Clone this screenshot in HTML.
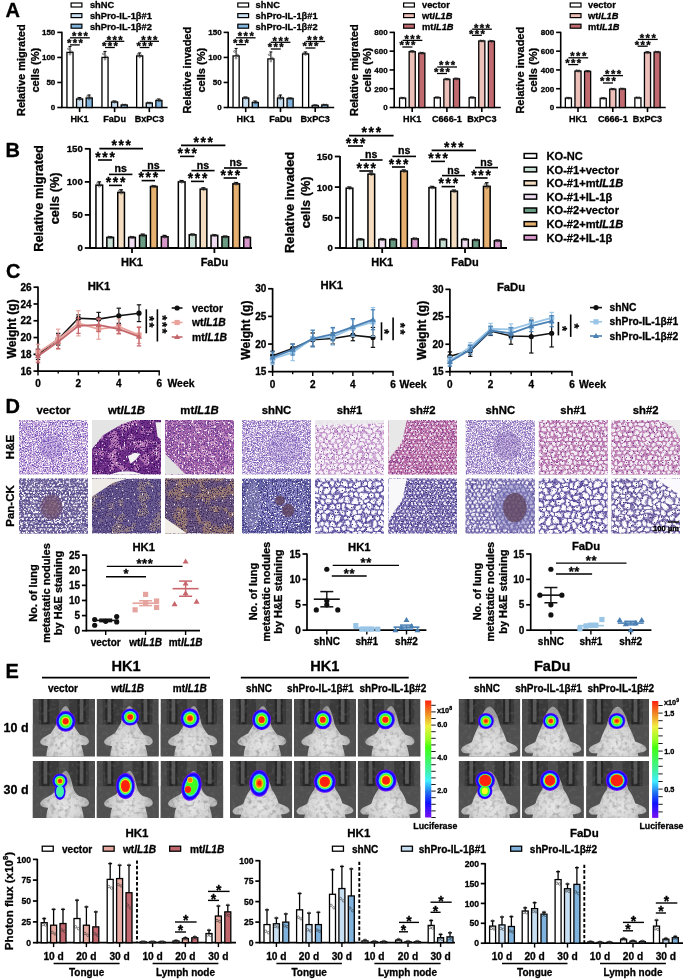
<!DOCTYPE html><html><head><meta charset="utf-8"><style>html,body{margin:0;padding:0;background:#fff;}svg{display:block;will-change:transform;}</style></head><body><svg width="685" height="980" viewBox="0 0 685 980" font-family='"Liberation Sans", sans-serif'>
<style>text{stroke:#000;stroke-width:0.3px;stroke-linejoin:round}</style>
<rect width="685" height="980" fill="#fff"/>
<defs><radialGradient id="mbody" cx="0.5" cy="0.75" r="0.6"><stop offset="0" stop-color="#e8e8e8"/><stop offset="0.55" stop-color="#d2d2d2"/><stop offset="1" stop-color="#9e9e9e"/></radialGradient><clipPath id="cp1"><rect x="19.00" y="420.00" width="69.00" height="54.60"/></clipPath><filter id="nf1" x="0" y="0" width="100%" height="100%" color-interpolation-filters="sRGB"><feTurbulence type="fractalNoise" baseFrequency="0.8" numOctaves="2" seed="101"/><feColorMatrix type="matrix" values="0 0 0 0 0.463 0 0 0 0 0.337 0 0 0 0 0.722 10.00 0 0 0 -5.167"/></filter><filter id="nf2" x="0" y="0" width="100%" height="100%" color-interpolation-filters="sRGB"><feTurbulence type="fractalNoise" baseFrequency="0.8" numOctaves="2" seed="102"/><feColorMatrix type="matrix" values="0 0 0 0 0.973 0 0 0 0 0.957 0 0 0 0 0.988 10.00 0 0 0 -5.167"/></filter><clipPath id="cp2"><rect x="19.00" y="478.60" width="69.00" height="54.80"/></clipPath><pattern id="hp3" width="3.90" height="6.75" patternUnits="userSpaceOnUse" x="19.00" y="478.60"><rect width="3.90" height="6.75" fill="#4a3c84"/><g fill="#fbfaff"><circle cx="0" cy="0" r="1.30"/><circle cx="3.90" cy="0" r="1.30"/><circle cx="1.95" cy="3.38" r="1.30"/><circle cx="0" cy="6.75" r="1.30"/><circle cx="3.90" cy="6.75" r="1.30"/></g></pattern><filter id="hf3" x="-5%" y="-5%" width="110%" height="110%"><feTurbulence type="fractalNoise" baseFrequency="0.2" numOctaves="2" seed="103" result="n"/><feDisplacementMap in="SourceGraphic" in2="n" scale="4" xChannelSelector="R" yChannelSelector="G"/></filter><filter id="nf3" x="0" y="0" width="100%" height="100%" color-interpolation-filters="sRGB"><feTurbulence type="fractalNoise" baseFrequency="0.35" numOctaves="2" seed="104"/><feColorMatrix type="matrix" values="0 0 0 0 0.984 0 0 0 0 0.980 0 0 0 0 1.000 10.00 0 0 0 -6.093"/></filter><filter id="nf4" x="0" y="0" width="100%" height="100%" color-interpolation-filters="sRGB"><feTurbulence type="fractalNoise" baseFrequency="0.8" numOctaves="2" seed="105"/><feColorMatrix type="matrix" values="0 0 0 0 0.478 0 0 0 0 0.416 0 0 0 0 0.604 10.00 0 0 0 -5.591"/></filter><clipPath id="cp4"><rect x="92.00" y="420.00" width="69.00" height="54.60"/></clipPath><filter id="nf5" x="0" y="0" width="100%" height="100%" color-interpolation-filters="sRGB"><feTurbulence type="fractalNoise" baseFrequency="0.1" numOctaves="2" seed="106"/><feColorMatrix type="matrix" values="0 0 0 0 0.706 0 0 0 0 0.455 0 0 0 0 0.706 10.00 0 0 0 -5.083"/></filter><filter id="nf6" x="0" y="0" width="100%" height="100%" color-interpolation-filters="sRGB"><feTurbulence type="fractalNoise" baseFrequency="0.7" numOctaves="2" seed="107"/><feColorMatrix type="matrix" values="0 0 0 0 0.259 0 0 0 0 0.078 0 0 0 0 0.400 10.00 0 0 0 -5.250"/></filter><filter id="nf7" x="0" y="0" width="100%" height="100%" color-interpolation-filters="sRGB"><feTurbulence type="fractalNoise" baseFrequency="0.5" numOctaves="2" seed="108"/><feColorMatrix type="matrix" values="0 0 0 0 0.949 0 0 0 0 0.933 0 0 0 0 0.957 10.00 0 0 0 -6.579"/></filter><clipPath id="cp5"><rect x="92.00" y="478.60" width="69.00" height="54.80"/></clipPath><filter id="nf8" x="0" y="0" width="100%" height="100%" color-interpolation-filters="sRGB"><feTurbulence type="fractalNoise" baseFrequency="0.08" numOctaves="2" seed="109"/><feColorMatrix type="matrix" values="0 0 0 0 0.557 0 0 0 0 0.478 0 0 0 0 0.518 10.00 0 0 0 -5.083"/></filter><filter id="nf9" x="0" y="0" width="100%" height="100%" color-interpolation-filters="sRGB"><feTurbulence type="fractalNoise" baseFrequency="0.8" numOctaves="2" seed="110"/><feColorMatrix type="matrix" values="0 0 0 0 0.251 0 0 0 0 0.196 0 0 0 0 0.431 10.00 0 0 0 -5.250"/></filter><filter id="nf10" x="0" y="0" width="100%" height="100%" color-interpolation-filters="sRGB"><feTurbulence type="fractalNoise" baseFrequency="0.5" numOctaves="2" seed="111"/><feColorMatrix type="matrix" values="0 0 0 0 0.957 0 0 0 0 0.941 0 0 0 0 0.925 10.00 0 0 0 -6.842"/></filter><clipPath id="cp6"><rect x="165.00" y="420.00" width="69.00" height="54.60"/></clipPath><filter id="nf11" x="0" y="0" width="100%" height="100%" color-interpolation-filters="sRGB"><feTurbulence type="fractalNoise" baseFrequency="0.12" numOctaves="2" seed="112"/><feColorMatrix type="matrix" values="0 0 0 0 0.784 0 0 0 0 0.565 0 0 0 0 0.753 10.00 0 0 0 -5.167"/></filter><filter id="nf12" x="0" y="0" width="100%" height="100%" color-interpolation-filters="sRGB"><feTurbulence type="fractalNoise" baseFrequency="0.7" numOctaves="2" seed="113"/><feColorMatrix type="matrix" values="0 0 0 0 0.416 0 0 0 0 0.235 0 0 0 0 0.580 10.00 0 0 0 -5.167"/></filter><filter id="nf13" x="0" y="0" width="100%" height="100%" color-interpolation-filters="sRGB"><feTurbulence type="fractalNoise" baseFrequency="0.5" numOctaves="2" seed="114"/><feColorMatrix type="matrix" values="0 0 0 0 0.965 0 0 0 0 0.941 0 0 0 0 0.965 10.00 0 0 0 -6.093"/></filter><clipPath id="cp7"><rect x="165.00" y="478.60" width="69.00" height="54.80"/></clipPath><filter id="nf14" x="0" y="0" width="100%" height="100%" color-interpolation-filters="sRGB"><feTurbulence type="fractalNoise" baseFrequency="0.08" numOctaves="2" seed="115"/><feColorMatrix type="matrix" values="0 0 0 0 0.584 0 0 0 0 0.463 0 0 0 0 0.439 10.00 0 0 0 -4.750"/></filter><filter id="nf15" x="0" y="0" width="100%" height="100%" color-interpolation-filters="sRGB"><feTurbulence type="fractalNoise" baseFrequency="0.8" numOctaves="2" seed="116"/><feColorMatrix type="matrix" values="0 0 0 0 0.251 0 0 0 0 0.188 0 0 0 0 0.369 10.00 0 0 0 -5.250"/></filter><filter id="nf16" x="0" y="0" width="100%" height="100%" color-interpolation-filters="sRGB"><feTurbulence type="fractalNoise" baseFrequency="0.5" numOctaves="2" seed="117"/><feColorMatrix type="matrix" values="0 0 0 0 0.957 0 0 0 0 0.941 0 0 0 0 0.925 10.00 0 0 0 -6.842"/></filter><clipPath id="cp8"><rect x="242.00" y="420.00" width="69.00" height="54.60"/></clipPath><filter id="nf17" x="0" y="0" width="100%" height="100%" color-interpolation-filters="sRGB"><feTurbulence type="fractalNoise" baseFrequency="0.8" numOctaves="2" seed="118"/><feColorMatrix type="matrix" values="0 0 0 0 0.486 0 0 0 0 0.392 0 0 0 0 0.722 10.00 0 0 0 -5.167"/></filter><filter id="nf18" x="0" y="0" width="100%" height="100%" color-interpolation-filters="sRGB"><feTurbulence type="fractalNoise" baseFrequency="0.8" numOctaves="2" seed="119"/><feColorMatrix type="matrix" values="0 0 0 0 0.973 0 0 0 0 0.957 0 0 0 0 0.988 10.00 0 0 0 -5.167"/></filter><clipPath id="cp9"><rect x="242.00" y="478.60" width="69.00" height="54.80"/></clipPath><filter id="nf19" x="0" y="0" width="100%" height="100%" color-interpolation-filters="sRGB"><feTurbulence type="fractalNoise" baseFrequency="0.6" numOctaves="2" seed="120"/><feColorMatrix type="matrix" values="0 0 0 0 0.957 0 0 0 0 0.957 0 0 0 0 0.980 10.00 0 0 0 -5.818"/></filter><filter id="nf20" x="0" y="0" width="100%" height="100%" color-interpolation-filters="sRGB"><feTurbulence type="fractalNoise" baseFrequency="0.8" numOctaves="2" seed="121"/><feColorMatrix type="matrix" values="0 0 0 0 0.227 0 0 0 0 0.212 0 0 0 0 0.486 10.00 0 0 0 -5.375"/></filter><clipPath id="cp10"><rect x="315.00" y="420.00" width="69.00" height="54.60"/></clipPath><pattern id="hp11" width="6.00" height="10.39" patternUnits="userSpaceOnUse" x="315.00" y="420.00"><rect width="6.00" height="10.39" fill="#bc84c4"/><g fill="#f4f0f6"><circle cx="0" cy="0" r="2.50"/><circle cx="6.00" cy="0" r="2.50"/><circle cx="3.00" cy="5.20" r="2.50"/><circle cx="0" cy="10.39" r="2.50"/><circle cx="6.00" cy="10.39" r="2.50"/></g></pattern><filter id="hf11" x="-5%" y="-5%" width="110%" height="110%"><feTurbulence type="fractalNoise" baseFrequency="0.12" numOctaves="2" seed="122" result="n"/><feDisplacementMap in="SourceGraphic" in2="n" scale="8" xChannelSelector="R" yChannelSelector="G"/></filter><filter id="nf21" x="0" y="0" width="100%" height="100%" color-interpolation-filters="sRGB"><feTurbulence type="fractalNoise" baseFrequency="0.8" numOctaves="2" seed="123"/><feColorMatrix type="matrix" values="0 0 0 0 0.541 0 0 0 0 0.353 0 0 0 0 0.659 10.00 0 0 0 -6.579"/></filter><clipPath id="cp12"><rect x="315.00" y="478.60" width="69.00" height="54.80"/></clipPath><pattern id="hp13" width="6.50" height="11.26" patternUnits="userSpaceOnUse" x="315.00" y="478.60"><rect width="6.50" height="11.26" fill="#584a9c"/><g fill="#fbfbff"><circle cx="0" cy="0" r="2.60"/><circle cx="6.50" cy="0" r="2.60"/><circle cx="3.25" cy="5.63" r="2.60"/><circle cx="0" cy="11.26" r="2.60"/><circle cx="6.50" cy="11.26" r="2.60"/></g></pattern><filter id="hf13" x="-5%" y="-5%" width="110%" height="110%"><feTurbulence type="fractalNoise" baseFrequency="0.1" numOctaves="2" seed="124" result="n"/><feDisplacementMap in="SourceGraphic" in2="n" scale="8" xChannelSelector="R" yChannelSelector="G"/></filter><filter id="nf22" x="0" y="0" width="100%" height="100%" color-interpolation-filters="sRGB"><feTurbulence type="fractalNoise" baseFrequency="0.8" numOctaves="2" seed="125"/><feColorMatrix type="matrix" values="0 0 0 0 0.243 0 0 0 0 0.188 0 0 0 0 0.502 10.00 0 0 0 -6.711"/></filter><clipPath id="cp14"><rect x="388.40" y="420.00" width="68.60" height="54.60"/></clipPath><pattern id="hp15" width="4.20" height="7.27" patternUnits="userSpaceOnUse" x="388.40" y="420.00"><rect width="4.20" height="7.27" fill="#b4609e"/><g fill="#f2eaf2"><circle cx="0" cy="0" r="1.30"/><circle cx="4.20" cy="0" r="1.30"/><circle cx="2.10" cy="3.64" r="1.30"/><circle cx="0" cy="7.27" r="1.30"/><circle cx="4.20" cy="7.27" r="1.30"/></g></pattern><filter id="hf15" x="-5%" y="-5%" width="110%" height="110%"><feTurbulence type="fractalNoise" baseFrequency="0.2" numOctaves="2" seed="126" result="n"/><feDisplacementMap in="SourceGraphic" in2="n" scale="4" xChannelSelector="R" yChannelSelector="G"/></filter><filter id="nf23" x="0" y="0" width="100%" height="100%" color-interpolation-filters="sRGB"><feTurbulence type="fractalNoise" baseFrequency="0.8" numOctaves="2" seed="127"/><feColorMatrix type="matrix" values="0 0 0 0 0.478 0 0 0 0 0.227 0 0 0 0 0.533 10.00 0 0 0 -5.955"/></filter><clipPath id="cp16"><rect x="388.40" y="478.60" width="68.60" height="54.80"/></clipPath><pattern id="hp17" width="4.20" height="7.27" patternUnits="userSpaceOnUse" x="388.40" y="478.60"><rect width="4.20" height="7.27" fill="#6a5aa6"/><g fill="#f8f8fc"><circle cx="0" cy="0" r="1.30"/><circle cx="4.20" cy="0" r="1.30"/><circle cx="2.10" cy="3.64" r="1.30"/><circle cx="0" cy="7.27" r="1.30"/><circle cx="4.20" cy="7.27" r="1.30"/></g></pattern><filter id="hf17" x="-5%" y="-5%" width="110%" height="110%"><feTurbulence type="fractalNoise" baseFrequency="0.2" numOctaves="2" seed="128" result="n"/><feDisplacementMap in="SourceGraphic" in2="n" scale="4" xChannelSelector="R" yChannelSelector="G"/></filter><filter id="nf24" x="0" y="0" width="100%" height="100%" color-interpolation-filters="sRGB"><feTurbulence type="fractalNoise" baseFrequency="0.8" numOctaves="2" seed="129"/><feColorMatrix type="matrix" values="0 0 0 0 0.251 0 0 0 0 0.204 0 0 0 0 0.486 10.00 0 0 0 -5.955"/></filter><clipPath id="cp18"><rect x="465.60" y="420.00" width="69.40" height="54.60"/></clipPath><filter id="nf25" x="0" y="0" width="100%" height="100%" color-interpolation-filters="sRGB"><feTurbulence type="fractalNoise" baseFrequency="0.8" numOctaves="2" seed="130"/><feColorMatrix type="matrix" values="0 0 0 0 0.486 0 0 0 0 0.400 0 0 0 0 0.722 10.00 0 0 0 -5.167"/></filter><filter id="nf26" x="0" y="0" width="100%" height="100%" color-interpolation-filters="sRGB"><feTurbulence type="fractalNoise" baseFrequency="0.8" numOctaves="2" seed="131"/><feColorMatrix type="matrix" values="0 0 0 0 0.973 0 0 0 0 0.957 0 0 0 0 0.988 10.00 0 0 0 -5.167"/></filter><clipPath id="cp19"><rect x="465.60" y="478.60" width="69.40" height="54.80"/></clipPath><pattern id="hp20" width="4.60" height="7.97" patternUnits="userSpaceOnUse" x="465.60" y="478.60"><rect width="4.60" height="7.97" fill="#5a4c9c"/><g fill="#f8f8fc"><circle cx="0" cy="0" r="1.70"/><circle cx="4.60" cy="0" r="1.70"/><circle cx="2.30" cy="3.98" r="1.70"/><circle cx="0" cy="7.97" r="1.70"/><circle cx="4.60" cy="7.97" r="1.70"/></g></pattern><filter id="hf20" x="-5%" y="-5%" width="110%" height="110%"><feTurbulence type="fractalNoise" baseFrequency="0.15" numOctaves="2" seed="132" result="n"/><feDisplacementMap in="SourceGraphic" in2="n" scale="5" xChannelSelector="R" yChannelSelector="G"/></filter><clipPath id="cp21"><rect x="538.80" y="420.00" width="68.80" height="54.60"/></clipPath><pattern id="hp22" width="5.50" height="9.53" patternUnits="userSpaceOnUse" x="538.80" y="420.00"><rect width="5.50" height="9.53" fill="#b46aa8"/><g fill="#f2eef4"><circle cx="0" cy="0" r="2.20"/><circle cx="5.50" cy="0" r="2.20"/><circle cx="2.75" cy="4.76" r="2.20"/><circle cx="0" cy="9.53" r="2.20"/><circle cx="5.50" cy="9.53" r="2.20"/></g></pattern><filter id="hf22" x="-5%" y="-5%" width="110%" height="110%"><feTurbulence type="fractalNoise" baseFrequency="0.12" numOctaves="2" seed="133" result="n"/><feDisplacementMap in="SourceGraphic" in2="n" scale="7" xChannelSelector="R" yChannelSelector="G"/></filter><filter id="nf27" x="0" y="0" width="100%" height="100%" color-interpolation-filters="sRGB"><feTurbulence type="fractalNoise" baseFrequency="0.8" numOctaves="2" seed="134"/><feColorMatrix type="matrix" values="0 0 0 0 0.478 0 0 0 0 0.227 0 0 0 0 0.565 10.00 0 0 0 -6.579"/></filter><clipPath id="cp23"><rect x="538.80" y="478.60" width="68.80" height="54.80"/></clipPath><pattern id="hp24" width="7.00" height="12.12" patternUnits="userSpaceOnUse" x="538.80" y="478.60"><rect width="7.00" height="12.12" fill="#5c4c9c"/><g fill="#fcfcff"><circle cx="0" cy="0" r="2.80"/><circle cx="7.00" cy="0" r="2.80"/><circle cx="3.50" cy="6.06" r="2.80"/><circle cx="0" cy="12.12" r="2.80"/><circle cx="7.00" cy="12.12" r="2.80"/></g></pattern><filter id="hf24" x="-5%" y="-5%" width="110%" height="110%"><feTurbulence type="fractalNoise" baseFrequency="0.1" numOctaves="2" seed="135" result="n"/><feDisplacementMap in="SourceGraphic" in2="n" scale="9" xChannelSelector="R" yChannelSelector="G"/></filter><filter id="nf28" x="0" y="0" width="100%" height="100%" color-interpolation-filters="sRGB"><feTurbulence type="fractalNoise" baseFrequency="0.8" numOctaves="2" seed="136"/><feColorMatrix type="matrix" values="0 0 0 0 0.243 0 0 0 0 0.188 0 0 0 0 0.502 10.00 0 0 0 -6.711"/></filter><clipPath id="cp25"><rect x="611.40" y="420.00" width="68.60" height="54.60"/></clipPath><pattern id="hp26" width="5.50" height="9.53" patternUnits="userSpaceOnUse" x="611.40" y="420.00"><rect width="5.50" height="9.53" fill="#b872ac"/><g fill="#f2eef4"><circle cx="0" cy="0" r="2.20"/><circle cx="5.50" cy="0" r="2.20"/><circle cx="2.75" cy="4.76" r="2.20"/><circle cx="0" cy="9.53" r="2.20"/><circle cx="5.50" cy="9.53" r="2.20"/></g></pattern><filter id="hf26" x="-5%" y="-5%" width="110%" height="110%"><feTurbulence type="fractalNoise" baseFrequency="0.12" numOctaves="2" seed="137" result="n"/><feDisplacementMap in="SourceGraphic" in2="n" scale="7" xChannelSelector="R" yChannelSelector="G"/></filter><filter id="nf29" x="0" y="0" width="100%" height="100%" color-interpolation-filters="sRGB"><feTurbulence type="fractalNoise" baseFrequency="0.8" numOctaves="2" seed="138"/><feColorMatrix type="matrix" values="0 0 0 0 0.478 0 0 0 0 0.227 0 0 0 0 0.565 10.00 0 0 0 -6.579"/></filter><clipPath id="cp27"><rect x="611.40" y="478.60" width="68.60" height="54.80"/></clipPath><pattern id="hp28" width="6.50" height="11.26" patternUnits="userSpaceOnUse" x="611.40" y="478.60"><rect width="6.50" height="11.26" fill="#625098"/><g fill="#fcfcff"><circle cx="0" cy="0" r="2.60"/><circle cx="6.50" cy="0" r="2.60"/><circle cx="3.25" cy="5.63" r="2.60"/><circle cx="0" cy="11.26" r="2.60"/><circle cx="6.50" cy="11.26" r="2.60"/></g></pattern><filter id="hf28" x="-5%" y="-5%" width="110%" height="110%"><feTurbulence type="fractalNoise" baseFrequency="0.1" numOctaves="2" seed="139" result="n"/><feDisplacementMap in="SourceGraphic" in2="n" scale="9" xChannelSelector="R" yChannelSelector="G"/></filter><filter id="nf30" x="0" y="0" width="100%" height="100%" color-interpolation-filters="sRGB"><feTurbulence type="fractalNoise" baseFrequency="0.8" numOctaves="2" seed="140"/><feColorMatrix type="matrix" values="0 0 0 0 0.243 0 0 0 0 0.188 0 0 0 0 0.502 10.00 0 0 0 -6.711"/></filter><clipPath id="cp29"><rect x="32.60" y="699.00" width="62.40" height="57.60"/></clipPath><clipPath id="bd30"><path d="M65.67 705.91 C69.42 707.06 71.91 716.28 73.16 723.19 C74.41 727.80 77.53 731.26 80.02 734.71 C85.02 735.86 90.01 738.17 88.76 742.78 C86.26 746.23 83.77 745.08 81.27 745.08 C82.52 749.69 83.77 753.72 83.77 757.75 L46.33 757.75 C46.33 753.14 46.95 749.69 48.20 746.23 C45.08 746.23 40.09 745.08 40.09 741.62 C41.34 738.17 46.33 735.86 50.70 733.56 C52.57 730.10 55.06 726.65 56.94 723.19 C58.18 716.28 61.30 707.06 65.67 705.91 Z"/></clipPath><filter id="nf31" x="0" y="0" width="100%" height="100%" color-interpolation-filters="sRGB"><feTurbulence type="fractalNoise" baseFrequency="0.2" numOctaves="2" seed="141"/><feColorMatrix type="matrix" values="0 0 0 0 0.604 0 0 0 0 0.604 0 0 0 0 0.604 1.40 0 0 0 -0.696"/></filter><filter id="nf32" x="0" y="0" width="100%" height="100%" color-interpolation-filters="sRGB"><feTurbulence type="fractalNoise" baseFrequency="0.25" numOctaves="2" seed="142"/><feColorMatrix type="matrix" values="0 0 0 0 0.416 0 0 0 0 0.416 0 0 0 0 0.416 1.20 0 0 0 -0.620"/></filter><clipPath id="cp31"><rect x="32.60" y="761.00" width="62.40" height="57.00"/></clipPath><clipPath id="bd32"><path d="M65.67 770.69 C69.42 771.83 71.91 780.95 73.16 787.79 C74.41 792.35 77.53 795.77 80.02 796.34 C85.02 797.48 90.01 799.76 88.76 804.32 C86.26 807.74 83.77 806.60 81.27 806.60 C82.52 811.16 83.77 815.15 83.77 819.14 L46.33 819.14 C46.33 814.58 46.95 811.16 48.20 807.74 C45.08 807.74 40.09 806.60 40.09 803.18 C41.34 799.76 46.33 797.48 50.70 795.20 C52.57 794.63 55.06 791.21 56.94 787.79 C58.18 780.95 61.30 771.83 65.67 770.69 Z"/></clipPath><filter id="nf33" x="0" y="0" width="100%" height="100%" color-interpolation-filters="sRGB"><feTurbulence type="fractalNoise" baseFrequency="0.2" numOctaves="2" seed="143"/><feColorMatrix type="matrix" values="0 0 0 0 0.604 0 0 0 0 0.604 0 0 0 0 0.604 1.40 0 0 0 -0.696"/></filter><filter id="nf34" x="0" y="0" width="100%" height="100%" color-interpolation-filters="sRGB"><feTurbulence type="fractalNoise" baseFrequency="0.25" numOctaves="2" seed="144"/><feColorMatrix type="matrix" values="0 0 0 0 0.416 0 0 0 0 0.416 0 0 0 0 0.416 1.20 0 0 0 -0.620"/></filter><clipPath id="cp33"><rect x="96.60" y="699.00" width="62.20" height="57.60"/></clipPath><clipPath id="bd34"><path d="M129.57 705.91 C133.30 707.06 135.79 716.28 137.03 723.19 C138.27 727.80 141.38 731.26 143.87 734.71 C148.85 735.86 153.82 738.17 152.58 742.78 C150.09 746.23 147.60 745.08 145.12 745.08 C146.36 749.69 147.60 753.72 147.60 757.75 L110.28 757.75 C110.28 753.14 110.91 749.69 112.15 746.23 C109.04 746.23 104.06 745.08 104.06 741.62 C105.31 738.17 110.28 735.86 114.64 733.56 C116.50 730.10 118.99 726.65 120.86 723.19 C122.10 716.28 125.21 707.06 129.57 705.91 Z"/></clipPath><filter id="nf35" x="0" y="0" width="100%" height="100%" color-interpolation-filters="sRGB"><feTurbulence type="fractalNoise" baseFrequency="0.2" numOctaves="2" seed="145"/><feColorMatrix type="matrix" values="0 0 0 0 0.604 0 0 0 0 0.604 0 0 0 0 0.604 1.40 0 0 0 -0.696"/></filter><filter id="nf36" x="0" y="0" width="100%" height="100%" color-interpolation-filters="sRGB"><feTurbulence type="fractalNoise" baseFrequency="0.25" numOctaves="2" seed="146"/><feColorMatrix type="matrix" values="0 0 0 0 0.416 0 0 0 0 0.416 0 0 0 0 0.416 1.20 0 0 0 -0.620"/></filter><clipPath id="cp35"><rect x="96.60" y="761.00" width="62.20" height="57.00"/></clipPath><clipPath id="bd36"><path d="M129.57 770.69 C133.30 771.83 135.79 780.95 137.03 787.79 C138.27 792.35 141.38 795.77 143.87 796.34 C148.85 797.48 153.82 799.76 152.58 804.32 C150.09 807.74 147.60 806.60 145.12 806.60 C146.36 811.16 147.60 815.15 147.60 819.14 L110.28 819.14 C110.28 814.58 110.91 811.16 112.15 807.74 C109.04 807.74 104.06 806.60 104.06 803.18 C105.31 799.76 110.28 797.48 114.64 795.20 C116.50 794.63 118.99 791.21 120.86 787.79 C122.10 780.95 125.21 771.83 129.57 770.69 Z"/></clipPath><filter id="nf37" x="0" y="0" width="100%" height="100%" color-interpolation-filters="sRGB"><feTurbulence type="fractalNoise" baseFrequency="0.2" numOctaves="2" seed="147"/><feColorMatrix type="matrix" values="0 0 0 0 0.604 0 0 0 0 0.604 0 0 0 0 0.604 1.40 0 0 0 -0.696"/></filter><filter id="nf38" x="0" y="0" width="100%" height="100%" color-interpolation-filters="sRGB"><feTurbulence type="fractalNoise" baseFrequency="0.25" numOctaves="2" seed="148"/><feColorMatrix type="matrix" values="0 0 0 0 0.416 0 0 0 0 0.416 0 0 0 0 0.416 1.20 0 0 0 -0.620"/></filter><clipPath id="cp37"><rect x="160.50" y="699.00" width="62.80" height="57.60"/></clipPath><clipPath id="bd38"><path d="M193.78 705.91 C197.55 707.06 200.06 716.28 201.32 723.19 C202.58 727.80 205.72 731.26 208.23 734.71 C213.25 735.86 218.28 738.17 217.02 742.78 C214.51 746.23 212.00 745.08 209.48 745.08 C210.74 749.69 212.00 753.72 212.00 757.75 L174.32 757.75 C174.32 753.14 174.94 749.69 176.20 746.23 C173.06 746.23 168.04 745.08 168.04 741.62 C169.29 738.17 174.32 735.86 178.71 733.56 C180.60 730.10 183.11 726.65 184.99 723.19 C186.25 716.28 189.39 707.06 193.78 705.91 Z"/></clipPath><filter id="nf39" x="0" y="0" width="100%" height="100%" color-interpolation-filters="sRGB"><feTurbulence type="fractalNoise" baseFrequency="0.2" numOctaves="2" seed="149"/><feColorMatrix type="matrix" values="0 0 0 0 0.604 0 0 0 0 0.604 0 0 0 0 0.604 1.40 0 0 0 -0.696"/></filter><filter id="nf40" x="0" y="0" width="100%" height="100%" color-interpolation-filters="sRGB"><feTurbulence type="fractalNoise" baseFrequency="0.25" numOctaves="2" seed="150"/><feColorMatrix type="matrix" values="0 0 0 0 0.416 0 0 0 0 0.416 0 0 0 0 0.416 1.20 0 0 0 -0.620"/></filter><clipPath id="cp39"><rect x="160.50" y="761.00" width="62.80" height="57.00"/></clipPath><clipPath id="bd40"><path d="M193.78 770.69 C197.55 771.83 200.06 780.95 201.32 787.79 C202.58 792.35 205.72 795.77 208.23 796.34 C213.25 797.48 218.28 799.76 217.02 804.32 C214.51 807.74 212.00 806.60 209.48 806.60 C210.74 811.16 212.00 815.15 212.00 819.14 L174.32 819.14 C174.32 814.58 174.94 811.16 176.20 807.74 C173.06 807.74 168.04 806.60 168.04 803.18 C169.29 799.76 174.32 797.48 178.71 795.20 C180.60 794.63 183.11 791.21 184.99 787.79 C186.25 780.95 189.39 771.83 193.78 770.69 Z"/></clipPath><filter id="nf41" x="0" y="0" width="100%" height="100%" color-interpolation-filters="sRGB"><feTurbulence type="fractalNoise" baseFrequency="0.2" numOctaves="2" seed="151"/><feColorMatrix type="matrix" values="0 0 0 0 0.604 0 0 0 0 0.604 0 0 0 0 0.604 1.40 0 0 0 -0.696"/></filter><filter id="nf42" x="0" y="0" width="100%" height="100%" color-interpolation-filters="sRGB"><feTurbulence type="fractalNoise" baseFrequency="0.25" numOctaves="2" seed="152"/><feColorMatrix type="matrix" values="0 0 0 0 0.416 0 0 0 0 0.416 0 0 0 0 0.416 1.20 0 0 0 -0.620"/></filter><clipPath id="cp41"><rect x="230.00" y="699.00" width="62.20" height="57.60"/></clipPath><clipPath id="bd42"><path d="M262.97 705.91 C266.70 707.06 269.19 716.28 270.43 723.19 C271.67 727.80 274.78 731.26 277.27 734.71 C282.25 735.86 287.22 738.17 285.98 742.78 C283.49 746.23 281.00 745.08 278.52 745.08 C279.76 749.69 281.00 753.72 281.00 757.75 L243.68 757.75 C243.68 753.14 244.31 749.69 245.55 746.23 C242.44 746.23 237.46 745.08 237.46 741.62 C238.71 738.17 243.68 735.86 248.04 733.56 C249.90 730.10 252.39 726.65 254.26 723.19 C255.50 716.28 258.61 707.06 262.97 705.91 Z"/></clipPath><filter id="nf43" x="0" y="0" width="100%" height="100%" color-interpolation-filters="sRGB"><feTurbulence type="fractalNoise" baseFrequency="0.2" numOctaves="2" seed="153"/><feColorMatrix type="matrix" values="0 0 0 0 0.604 0 0 0 0 0.604 0 0 0 0 0.604 1.40 0 0 0 -0.696"/></filter><filter id="nf44" x="0" y="0" width="100%" height="100%" color-interpolation-filters="sRGB"><feTurbulence type="fractalNoise" baseFrequency="0.25" numOctaves="2" seed="154"/><feColorMatrix type="matrix" values="0 0 0 0 0.416 0 0 0 0 0.416 0 0 0 0 0.416 1.20 0 0 0 -0.620"/></filter><clipPath id="cp43"><rect x="230.00" y="761.00" width="62.20" height="57.00"/></clipPath><clipPath id="bd44"><path d="M261.10 771.26 C266.08 772.40 269.81 780.95 271.67 789.50 C274.78 792.92 277.27 798.62 278.52 803.18 C283.49 805.46 289.71 806.60 289.71 811.16 C287.22 814.58 283.49 813.44 281.00 814.58 L282.25 819.14 L239.95 819.14 L241.20 814.58 C238.71 814.58 233.11 815.15 232.49 811.16 C233.73 806.60 239.95 806.60 243.68 803.18 C244.93 798.62 247.42 792.92 250.53 789.50 C252.39 780.95 256.12 772.40 261.10 771.26 Z"/></clipPath><filter id="nf45" x="0" y="0" width="100%" height="100%" color-interpolation-filters="sRGB"><feTurbulence type="fractalNoise" baseFrequency="0.2" numOctaves="2" seed="155"/><feColorMatrix type="matrix" values="0 0 0 0 0.604 0 0 0 0 0.604 0 0 0 0 0.604 1.40 0 0 0 -0.696"/></filter><filter id="nf46" x="0" y="0" width="100%" height="100%" color-interpolation-filters="sRGB"><feTurbulence type="fractalNoise" baseFrequency="0.25" numOctaves="2" seed="156"/><feColorMatrix type="matrix" values="0 0 0 0 0.416 0 0 0 0 0.416 0 0 0 0 0.416 1.20 0 0 0 -0.620"/></filter><clipPath id="cp45"><rect x="293.90" y="699.00" width="62.10" height="57.60"/></clipPath><clipPath id="bd46"><path d="M326.81 705.91 C330.54 707.06 333.02 716.28 334.26 723.19 C335.51 727.80 338.61 731.26 341.10 734.71 C346.06 735.86 351.03 738.17 349.79 742.78 C347.31 746.23 344.82 745.08 342.34 745.08 C343.58 749.69 344.82 753.72 344.82 757.75 L307.56 757.75 C307.56 753.14 308.18 749.69 309.42 746.23 C306.32 746.23 301.35 745.08 301.35 741.62 C302.59 738.17 307.56 735.86 311.91 733.56 C313.77 730.10 316.26 726.65 318.12 723.19 C319.36 716.28 322.47 707.06 326.81 705.91 Z"/></clipPath><filter id="nf47" x="0" y="0" width="100%" height="100%" color-interpolation-filters="sRGB"><feTurbulence type="fractalNoise" baseFrequency="0.2" numOctaves="2" seed="157"/><feColorMatrix type="matrix" values="0 0 0 0 0.604 0 0 0 0 0.604 0 0 0 0 0.604 1.40 0 0 0 -0.696"/></filter><filter id="nf48" x="0" y="0" width="100%" height="100%" color-interpolation-filters="sRGB"><feTurbulence type="fractalNoise" baseFrequency="0.25" numOctaves="2" seed="158"/><feColorMatrix type="matrix" values="0 0 0 0 0.416 0 0 0 0 0.416 0 0 0 0 0.416 1.20 0 0 0 -0.620"/></filter><clipPath id="cp47"><rect x="293.90" y="761.00" width="62.10" height="57.00"/></clipPath><clipPath id="bd48"><path d="M324.95 771.26 C329.92 772.40 333.64 780.95 335.51 789.50 C338.61 792.92 341.10 798.62 342.34 803.18 C347.31 805.46 353.52 806.60 353.52 811.16 C351.03 814.58 347.31 813.44 344.82 814.58 L346.06 819.14 L303.84 819.14 L305.08 814.58 C302.59 814.58 297.00 815.15 296.38 811.16 C297.63 806.60 303.84 806.60 307.56 803.18 C308.80 798.62 311.29 792.92 314.39 789.50 C316.26 780.95 319.98 772.40 324.95 771.26 Z"/></clipPath><filter id="nf49" x="0" y="0" width="100%" height="100%" color-interpolation-filters="sRGB"><feTurbulence type="fractalNoise" baseFrequency="0.2" numOctaves="2" seed="159"/><feColorMatrix type="matrix" values="0 0 0 0 0.604 0 0 0 0 0.604 0 0 0 0 0.604 1.40 0 0 0 -0.696"/></filter><filter id="nf50" x="0" y="0" width="100%" height="100%" color-interpolation-filters="sRGB"><feTurbulence type="fractalNoise" baseFrequency="0.25" numOctaves="2" seed="160"/><feColorMatrix type="matrix" values="0 0 0 0 0.416 0 0 0 0 0.416 0 0 0 0 0.416 1.20 0 0 0 -0.620"/></filter><clipPath id="cp49"><rect x="357.70" y="699.00" width="62.80" height="57.60"/></clipPath><clipPath id="bd50"><path d="M390.98 705.91 C394.75 707.06 397.26 716.28 398.52 723.19 C399.78 727.80 402.92 731.26 405.43 734.71 C410.45 735.86 415.48 738.17 414.22 742.78 C411.71 746.23 409.20 745.08 406.68 745.08 C407.94 749.69 409.20 753.72 409.20 757.75 L371.52 757.75 C371.52 753.14 372.14 749.69 373.40 746.23 C370.26 746.23 365.24 745.08 365.24 741.62 C366.49 738.17 371.52 735.86 375.91 733.56 C377.80 730.10 380.31 726.65 382.19 723.19 C383.45 716.28 386.59 707.06 390.98 705.91 Z"/></clipPath><filter id="nf51" x="0" y="0" width="100%" height="100%" color-interpolation-filters="sRGB"><feTurbulence type="fractalNoise" baseFrequency="0.2" numOctaves="2" seed="161"/><feColorMatrix type="matrix" values="0 0 0 0 0.604 0 0 0 0 0.604 0 0 0 0 0.604 1.40 0 0 0 -0.696"/></filter><filter id="nf52" x="0" y="0" width="100%" height="100%" color-interpolation-filters="sRGB"><feTurbulence type="fractalNoise" baseFrequency="0.25" numOctaves="2" seed="162"/><feColorMatrix type="matrix" values="0 0 0 0 0.416 0 0 0 0 0.416 0 0 0 0 0.416 1.20 0 0 0 -0.620"/></filter><clipPath id="cp51"><rect x="357.70" y="761.00" width="62.80" height="57.00"/></clipPath><clipPath id="bd52"><path d="M389.10 771.26 C394.12 772.40 397.89 780.95 399.78 789.50 C402.92 792.92 405.43 798.62 406.68 803.18 C411.71 805.46 417.99 806.60 417.99 811.16 C415.48 814.58 411.71 813.44 409.20 814.58 L410.45 819.14 L367.75 819.14 L369.00 814.58 C366.49 814.58 360.84 815.15 360.21 811.16 C361.47 806.60 367.75 806.60 371.52 803.18 C372.77 798.62 375.28 792.92 378.42 789.50 C380.31 780.95 384.08 772.40 389.10 771.26 Z"/></clipPath><filter id="nf53" x="0" y="0" width="100%" height="100%" color-interpolation-filters="sRGB"><feTurbulence type="fractalNoise" baseFrequency="0.2" numOctaves="2" seed="163"/><feColorMatrix type="matrix" values="0 0 0 0 0.604 0 0 0 0 0.604 0 0 0 0 0.604 1.40 0 0 0 -0.696"/></filter><filter id="nf54" x="0" y="0" width="100%" height="100%" color-interpolation-filters="sRGB"><feTurbulence type="fractalNoise" baseFrequency="0.25" numOctaves="2" seed="164"/><feColorMatrix type="matrix" values="0 0 0 0 0.416 0 0 0 0 0.416 0 0 0 0 0.416 1.20 0 0 0 -0.620"/></filter><clipPath id="cp53"><rect x="458.60" y="699.00" width="61.70" height="57.60"/></clipPath><clipPath id="bd54"><path d="M489.45 706.49 C494.39 707.64 498.09 716.28 499.94 724.92 C503.02 731.26 505.49 737.02 506.73 741.62 C511.66 743.93 517.83 745.08 517.83 749.69 C515.36 753.14 511.66 751.99 509.19 753.14 L510.43 757.75 L468.47 757.75 L469.71 753.14 C467.24 753.14 461.69 753.72 461.07 749.69 C462.30 745.08 468.47 745.08 472.17 741.62 C473.41 737.02 475.88 731.26 478.96 724.92 C480.81 716.28 484.51 707.64 489.45 706.49 Z"/></clipPath><filter id="nf55" x="0" y="0" width="100%" height="100%" color-interpolation-filters="sRGB"><feTurbulence type="fractalNoise" baseFrequency="0.2" numOctaves="2" seed="165"/><feColorMatrix type="matrix" values="0 0 0 0 0.604 0 0 0 0 0.604 0 0 0 0 0.604 1.40 0 0 0 -0.696"/></filter><filter id="nf56" x="0" y="0" width="100%" height="100%" color-interpolation-filters="sRGB"><feTurbulence type="fractalNoise" baseFrequency="0.25" numOctaves="2" seed="166"/><feColorMatrix type="matrix" values="0 0 0 0 0.416 0 0 0 0 0.416 0 0 0 0 0.416 1.20 0 0 0 -0.620"/></filter><clipPath id="cp55"><rect x="458.60" y="761.00" width="61.70" height="57.00"/></clipPath><clipPath id="bd56"><path d="M489.45 771.26 C494.39 772.40 498.09 780.95 499.94 789.50 C503.02 792.92 505.49 798.62 506.73 803.18 C511.66 805.46 517.83 806.60 517.83 811.16 C515.36 814.58 511.66 813.44 509.19 814.58 L510.43 819.14 L468.47 819.14 L469.71 814.58 C467.24 814.58 461.69 815.15 461.07 811.16 C462.30 806.60 468.47 806.60 472.17 803.18 C473.41 798.62 475.88 792.92 478.96 789.50 C480.81 780.95 484.51 772.40 489.45 771.26 Z"/></clipPath><filter id="nf57" x="0" y="0" width="100%" height="100%" color-interpolation-filters="sRGB"><feTurbulence type="fractalNoise" baseFrequency="0.2" numOctaves="2" seed="167"/><feColorMatrix type="matrix" values="0 0 0 0 0.604 0 0 0 0 0.604 0 0 0 0 0.604 1.40 0 0 0 -0.696"/></filter><filter id="nf58" x="0" y="0" width="100%" height="100%" color-interpolation-filters="sRGB"><feTurbulence type="fractalNoise" baseFrequency="0.25" numOctaves="2" seed="168"/><feColorMatrix type="matrix" values="0 0 0 0 0.416 0 0 0 0 0.416 0 0 0 0 0.416 1.20 0 0 0 -0.620"/></filter><clipPath id="cp57"><rect x="522.00" y="699.00" width="61.80" height="57.60"/></clipPath><clipPath id="bd58"><path d="M552.90 706.49 C557.84 707.64 561.55 716.28 563.41 724.92 C566.50 731.26 568.97 737.02 570.20 741.62 C575.15 743.93 581.33 745.08 581.33 749.69 C578.86 753.14 575.15 751.99 572.68 753.14 L573.91 757.75 L531.89 757.75 L533.12 753.14 C530.65 753.14 525.09 753.72 524.47 749.69 C525.71 745.08 531.89 745.08 535.60 741.62 C536.83 737.02 539.30 731.26 542.39 724.92 C544.25 716.28 547.96 707.64 552.90 706.49 Z"/></clipPath><filter id="nf59" x="0" y="0" width="100%" height="100%" color-interpolation-filters="sRGB"><feTurbulence type="fractalNoise" baseFrequency="0.2" numOctaves="2" seed="169"/><feColorMatrix type="matrix" values="0 0 0 0 0.604 0 0 0 0 0.604 0 0 0 0 0.604 1.40 0 0 0 -0.696"/></filter><filter id="nf60" x="0" y="0" width="100%" height="100%" color-interpolation-filters="sRGB"><feTurbulence type="fractalNoise" baseFrequency="0.25" numOctaves="2" seed="170"/><feColorMatrix type="matrix" values="0 0 0 0 0.416 0 0 0 0 0.416 0 0 0 0 0.416 1.20 0 0 0 -0.620"/></filter><clipPath id="cp59"><rect x="522.00" y="761.00" width="61.80" height="57.00"/></clipPath><clipPath id="bd60"><path d="M552.90 771.26 C557.84 772.40 561.55 780.95 563.41 789.50 C566.50 792.92 568.97 798.62 570.20 803.18 C575.15 805.46 581.33 806.60 581.33 811.16 C578.86 814.58 575.15 813.44 572.68 814.58 L573.91 819.14 L531.89 819.14 L533.12 814.58 C530.65 814.58 525.09 815.15 524.47 811.16 C525.71 806.60 531.89 806.60 535.60 803.18 C536.83 798.62 539.30 792.92 542.39 789.50 C544.25 780.95 547.96 772.40 552.90 771.26 Z"/></clipPath><filter id="nf61" x="0" y="0" width="100%" height="100%" color-interpolation-filters="sRGB"><feTurbulence type="fractalNoise" baseFrequency="0.2" numOctaves="2" seed="171"/><feColorMatrix type="matrix" values="0 0 0 0 0.604 0 0 0 0 0.604 0 0 0 0 0.604 1.40 0 0 0 -0.696"/></filter><filter id="nf62" x="0" y="0" width="100%" height="100%" color-interpolation-filters="sRGB"><feTurbulence type="fractalNoise" baseFrequency="0.25" numOctaves="2" seed="172"/><feColorMatrix type="matrix" values="0 0 0 0 0.416 0 0 0 0 0.416 0 0 0 0 0.416 1.20 0 0 0 -0.620"/></filter><clipPath id="cp61"><rect x="586.20" y="699.00" width="62.80" height="57.60"/></clipPath><clipPath id="bd62"><path d="M617.60 706.49 C622.62 707.64 626.39 716.28 628.28 724.92 C631.42 731.26 633.93 737.02 635.18 741.62 C640.21 743.93 646.49 745.08 646.49 749.69 C643.98 753.14 640.21 751.99 637.70 753.14 L638.95 757.75 L596.25 757.75 L597.50 753.14 C594.99 753.14 589.34 753.72 588.71 749.69 C589.97 745.08 596.25 745.08 600.02 741.62 C601.27 737.02 603.78 731.26 606.92 724.92 C608.81 716.28 612.58 707.64 617.60 706.49 Z"/></clipPath><filter id="nf63" x="0" y="0" width="100%" height="100%" color-interpolation-filters="sRGB"><feTurbulence type="fractalNoise" baseFrequency="0.2" numOctaves="2" seed="173"/><feColorMatrix type="matrix" values="0 0 0 0 0.604 0 0 0 0 0.604 0 0 0 0 0.604 1.40 0 0 0 -0.696"/></filter><filter id="nf64" x="0" y="0" width="100%" height="100%" color-interpolation-filters="sRGB"><feTurbulence type="fractalNoise" baseFrequency="0.25" numOctaves="2" seed="174"/><feColorMatrix type="matrix" values="0 0 0 0 0.416 0 0 0 0 0.416 0 0 0 0 0.416 1.20 0 0 0 -0.620"/></filter><clipPath id="cp63"><rect x="586.20" y="761.00" width="62.80" height="57.00"/></clipPath><clipPath id="bd64"><path d="M617.60 771.26 C622.62 772.40 626.39 780.95 628.28 789.50 C631.42 792.92 633.93 798.62 635.18 803.18 C640.21 805.46 646.49 806.60 646.49 811.16 C643.98 814.58 640.21 813.44 637.70 814.58 L638.95 819.14 L596.25 819.14 L597.50 814.58 C594.99 814.58 589.34 815.15 588.71 811.16 C589.97 806.60 596.25 806.60 600.02 803.18 C601.27 798.62 603.78 792.92 606.92 789.50 C608.81 780.95 612.58 772.40 617.60 771.26 Z"/></clipPath><filter id="nf65" x="0" y="0" width="100%" height="100%" color-interpolation-filters="sRGB"><feTurbulence type="fractalNoise" baseFrequency="0.2" numOctaves="2" seed="175"/><feColorMatrix type="matrix" values="0 0 0 0 0.604 0 0 0 0 0.604 0 0 0 0 0.604 1.40 0 0 0 -0.696"/></filter><filter id="nf66" x="0" y="0" width="100%" height="100%" color-interpolation-filters="sRGB"><feTurbulence type="fractalNoise" baseFrequency="0.25" numOctaves="2" seed="176"/><feColorMatrix type="matrix" values="0 0 0 0 0.416 0 0 0 0 0.416 0 0 0 0 0.416 1.20 0 0 0 -0.620"/></filter><linearGradient id="cbg65" x1="0" y1="1" x2="0" y2="0"><stop offset="0" stop-color="#7a10f0"/><stop offset="0.124" stop-color="#1010ff"/><stop offset="0.215" stop-color="#2070f0"/><stop offset="0.315" stop-color="#40f0ff"/><stop offset="0.39" stop-color="#40f0b0"/><stop offset="0.6" stop-color="#40ff10"/><stop offset="0.66" stop-color="#90ff20"/><stop offset="0.78" stop-color="#f0f040"/><stop offset="0.9" stop-color="#f08020"/><stop offset="1" stop-color="#ff2010"/></linearGradient><linearGradient id="cbg66" x1="0" y1="1" x2="0" y2="0"><stop offset="0" stop-color="#7a10f0"/><stop offset="0.124" stop-color="#1010ff"/><stop offset="0.215" stop-color="#2070f0"/><stop offset="0.315" stop-color="#40f0ff"/><stop offset="0.39" stop-color="#40f0b0"/><stop offset="0.6" stop-color="#40ff10"/><stop offset="0.66" stop-color="#90ff20"/><stop offset="0.78" stop-color="#f0f040"/><stop offset="0.9" stop-color="#f08020"/><stop offset="1" stop-color="#ff2010"/></linearGradient></defs>
<text x="5.60" y="16.90" font-size="20.00" text-anchor="start" font-weight="bold" fill="#000">A</text>
<line x1="61.90" y1="31.79" x2="61.90" y2="108.10" stroke="#000" stroke-width="1.60"/>
<line x1="57.30" y1="107.50" x2="61.90" y2="107.50" stroke="#000" stroke-width="1.60"/>
<text x="55.30" y="110.38" font-size="8.00" text-anchor="end" font-weight="bold" fill="#000">0</text>
<line x1="57.30" y1="82.47" x2="61.90" y2="82.47" stroke="#000" stroke-width="1.60"/>
<text x="55.30" y="85.34" font-size="8.00" text-anchor="end" font-weight="bold" fill="#000">50</text>
<line x1="57.30" y1="57.43" x2="61.90" y2="57.43" stroke="#000" stroke-width="1.60"/>
<text x="55.30" y="60.31" font-size="8.00" text-anchor="end" font-weight="bold" fill="#000">100</text>
<line x1="57.30" y1="32.39" x2="61.90" y2="32.39" stroke="#000" stroke-width="1.60"/>
<text x="55.30" y="35.27" font-size="8.00" text-anchor="end" font-weight="bold" fill="#000">150</text>
<line x1="61.10" y1="107.50" x2="167.60" y2="107.50" stroke="#000" stroke-width="1.60"/>
<line x1="79.60" y1="107.50" x2="79.60" y2="112.10" stroke="#000" stroke-width="1.60"/>
<line x1="114.60" y1="107.50" x2="114.60" y2="112.10" stroke="#000" stroke-width="1.60"/>
<line x1="149.30" y1="107.50" x2="149.30" y2="112.10" stroke="#000" stroke-width="1.60"/>
<rect x="66.95" y="52.42" width="6.10" height="55.08" fill="#ffffff" stroke="#000" stroke-width="1.30"/>
<line x1="70.00" y1="52.42" x2="70.00" y2="46.41" stroke="#000" stroke-width="1.00"/>
<line x1="68.50" y1="46.41" x2="71.50" y2="46.41" stroke="#000" stroke-width="1.00"/>
<circle cx="68.40" cy="48.82" r="0.90" fill="none" stroke="#333" stroke-width="0.6"/>
<circle cx="70.00" cy="54.23" r="0.90" fill="none" stroke="#333" stroke-width="0.6"/>
<circle cx="71.60" cy="51.82" r="0.90" fill="none" stroke="#333" stroke-width="0.6"/>
<rect x="76.55" y="98.99" width="6.10" height="8.51" fill="#c8dff2" stroke="#000" stroke-width="1.30"/>
<line x1="79.60" y1="98.99" x2="79.60" y2="97.49" stroke="#000" stroke-width="1.00"/>
<line x1="78.10" y1="97.49" x2="81.10" y2="97.49" stroke="#000" stroke-width="1.00"/>
<circle cx="78.00" cy="98.09" r="0.90" fill="none" stroke="#333" stroke-width="0.6"/>
<circle cx="79.60" cy="99.44" r="0.90" fill="none" stroke="#333" stroke-width="0.6"/>
<circle cx="81.20" cy="98.84" r="0.90" fill="none" stroke="#333" stroke-width="0.6"/>
<rect x="86.15" y="97.99" width="6.10" height="9.51" fill="#7fb3dd" stroke="#000" stroke-width="1.30"/>
<line x1="89.20" y1="97.99" x2="89.20" y2="94.98" stroke="#000" stroke-width="1.00"/>
<line x1="87.70" y1="94.98" x2="90.70" y2="94.98" stroke="#000" stroke-width="1.00"/>
<circle cx="87.60" cy="96.18" r="0.90" fill="none" stroke="#333" stroke-width="0.6"/>
<circle cx="89.20" cy="98.89" r="0.90" fill="none" stroke="#333" stroke-width="0.6"/>
<circle cx="90.80" cy="97.69" r="0.90" fill="none" stroke="#333" stroke-width="0.6"/>
<rect x="101.95" y="57.43" width="6.10" height="50.07" fill="#ffffff" stroke="#000" stroke-width="1.30"/>
<line x1="105.00" y1="57.43" x2="105.00" y2="51.42" stroke="#000" stroke-width="1.00"/>
<line x1="103.50" y1="51.42" x2="106.50" y2="51.42" stroke="#000" stroke-width="1.00"/>
<circle cx="103.40" cy="53.82" r="0.90" fill="none" stroke="#333" stroke-width="0.6"/>
<circle cx="105.00" cy="59.23" r="0.90" fill="none" stroke="#333" stroke-width="0.6"/>
<circle cx="106.60" cy="56.83" r="0.90" fill="none" stroke="#333" stroke-width="0.6"/>
<rect x="111.55" y="101.99" width="6.10" height="5.51" fill="#c8dff2" stroke="#000" stroke-width="1.30"/>
<line x1="114.60" y1="101.99" x2="114.60" y2="100.99" stroke="#000" stroke-width="1.00"/>
<line x1="113.10" y1="100.99" x2="116.10" y2="100.99" stroke="#000" stroke-width="1.00"/>
<circle cx="113.00" cy="101.39" r="0.90" fill="none" stroke="#333" stroke-width="0.6"/>
<circle cx="114.60" cy="102.29" r="0.90" fill="none" stroke="#333" stroke-width="0.6"/>
<circle cx="116.20" cy="101.89" r="0.90" fill="none" stroke="#333" stroke-width="0.6"/>
<rect x="121.15" y="105.00" width="6.10" height="2.50" fill="#7fb3dd" stroke="#000" stroke-width="1.30"/>
<line x1="124.20" y1="105.00" x2="124.20" y2="104.50" stroke="#000" stroke-width="1.00"/>
<line x1="122.70" y1="104.50" x2="125.70" y2="104.50" stroke="#000" stroke-width="1.00"/>
<circle cx="122.60" cy="104.70" r="0.90" fill="none" stroke="#333" stroke-width="0.6"/>
<circle cx="124.20" cy="105.15" r="0.90" fill="none" stroke="#333" stroke-width="0.6"/>
<circle cx="125.80" cy="104.95" r="0.90" fill="none" stroke="#333" stroke-width="0.6"/>
<rect x="136.65" y="55.93" width="6.10" height="51.57" fill="#ffffff" stroke="#000" stroke-width="1.30"/>
<line x1="139.70" y1="55.93" x2="139.70" y2="52.92" stroke="#000" stroke-width="1.00"/>
<line x1="138.20" y1="52.92" x2="141.20" y2="52.92" stroke="#000" stroke-width="1.00"/>
<circle cx="138.10" cy="54.13" r="0.90" fill="none" stroke="#333" stroke-width="0.6"/>
<circle cx="139.70" cy="56.83" r="0.90" fill="none" stroke="#333" stroke-width="0.6"/>
<circle cx="141.30" cy="55.63" r="0.90" fill="none" stroke="#333" stroke-width="0.6"/>
<rect x="146.25" y="102.99" width="6.10" height="4.51" fill="#c8dff2" stroke="#000" stroke-width="1.30"/>
<line x1="149.30" y1="102.99" x2="149.30" y2="102.49" stroke="#000" stroke-width="1.00"/>
<line x1="147.80" y1="102.49" x2="150.80" y2="102.49" stroke="#000" stroke-width="1.00"/>
<circle cx="147.70" cy="102.69" r="0.90" fill="none" stroke="#333" stroke-width="0.6"/>
<circle cx="149.30" cy="103.14" r="0.90" fill="none" stroke="#333" stroke-width="0.6"/>
<circle cx="150.90" cy="102.94" r="0.90" fill="none" stroke="#333" stroke-width="0.6"/>
<rect x="155.85" y="100.49" width="6.10" height="7.01" fill="#7fb3dd" stroke="#000" stroke-width="1.30"/>
<line x1="158.90" y1="100.49" x2="158.90" y2="98.99" stroke="#000" stroke-width="1.00"/>
<line x1="157.40" y1="98.99" x2="160.40" y2="98.99" stroke="#000" stroke-width="1.00"/>
<circle cx="157.30" cy="99.59" r="0.90" fill="none" stroke="#333" stroke-width="0.6"/>
<circle cx="158.90" cy="100.94" r="0.90" fill="none" stroke="#333" stroke-width="0.6"/>
<circle cx="160.50" cy="100.34" r="0.90" fill="none" stroke="#333" stroke-width="0.6"/>
<line x1="70.00" y1="37.80" x2="89.80" y2="37.80" stroke="#000" stroke-width="1.30"/>
<text x="74.10" y="40.10" font-size="11.20" text-anchor="middle" font-weight="bold" fill="#000">*</text>
<text x="79.90" y="40.10" font-size="11.20" text-anchor="middle" font-weight="bold" fill="#000">*</text>
<text x="85.70" y="40.10" font-size="11.20" text-anchor="middle" font-weight="bold" fill="#000">*</text>
<line x1="70.00" y1="44.90" x2="79.80" y2="44.90" stroke="#000" stroke-width="1.30"/>
<text x="69.10" y="47.20" font-size="11.20" text-anchor="middle" font-weight="bold" fill="#000">*</text>
<text x="74.90" y="47.20" font-size="11.20" text-anchor="middle" font-weight="bold" fill="#000">*</text>
<text x="80.70" y="47.20" font-size="11.20" text-anchor="middle" font-weight="bold" fill="#000">*</text>
<line x1="105.00" y1="41.30" x2="124.30" y2="41.30" stroke="#000" stroke-width="1.30"/>
<text x="108.85" y="43.60" font-size="11.20" text-anchor="middle" font-weight="bold" fill="#000">*</text>
<text x="114.65" y="43.60" font-size="11.20" text-anchor="middle" font-weight="bold" fill="#000">*</text>
<text x="120.45" y="43.60" font-size="11.20" text-anchor="middle" font-weight="bold" fill="#000">*</text>
<line x1="105.00" y1="47.50" x2="114.80" y2="47.50" stroke="#000" stroke-width="1.30"/>
<text x="104.10" y="49.80" font-size="11.20" text-anchor="middle" font-weight="bold" fill="#000">*</text>
<text x="109.90" y="49.80" font-size="11.20" text-anchor="middle" font-weight="bold" fill="#000">*</text>
<text x="115.70" y="49.80" font-size="11.20" text-anchor="middle" font-weight="bold" fill="#000">*</text>
<line x1="139.70" y1="41.30" x2="159.00" y2="41.30" stroke="#000" stroke-width="1.30"/>
<text x="143.55" y="43.60" font-size="11.20" text-anchor="middle" font-weight="bold" fill="#000">*</text>
<text x="149.35" y="43.60" font-size="11.20" text-anchor="middle" font-weight="bold" fill="#000">*</text>
<text x="155.15" y="43.60" font-size="11.20" text-anchor="middle" font-weight="bold" fill="#000">*</text>
<line x1="139.70" y1="47.50" x2="149.40" y2="47.50" stroke="#000" stroke-width="1.30"/>
<text x="138.75" y="49.80" font-size="11.20" text-anchor="middle" font-weight="bold" fill="#000">*</text>
<text x="144.55" y="49.80" font-size="11.20" text-anchor="middle" font-weight="bold" fill="#000">*</text>
<text x="150.35" y="49.80" font-size="11.20" text-anchor="middle" font-weight="bold" fill="#000">*</text>
<text x="79.60" y="122.30" font-size="9.10" text-anchor="middle" font-weight="bold" fill="#000">HK1</text>
<text x="114.60" y="122.30" font-size="9.10" text-anchor="middle" font-weight="bold" fill="#000">FaDu</text>
<text x="149.30" y="122.30" font-size="9.10" text-anchor="middle" font-weight="bold" fill="#000">BxPC3</text>
<text x="25.20" y="70.20" font-size="11.00" text-anchor="middle" font-weight="bold" fill="#000" transform="rotate(-90 25.2 70.2)">Relative migrated</text>
<text x="38.60" y="70.20" font-size="11.00" text-anchor="middle" font-weight="bold" fill="#000" transform="rotate(-90 38.6 70.2)">cells (%)</text>
<rect x="71.10" y="3.00" width="10.80" height="4.00" fill="#ffffff" stroke="#000" stroke-width="1.20"/>
<text x="89.90" y="8.30" font-size="9.30" text-anchor="start" font-weight="bold" fill="#000">shNC</text>
<rect x="71.10" y="13.60" width="10.80" height="4.00" fill="#c8dff2" stroke="#000" stroke-width="1.20"/>
<text x="89.90" y="18.90" font-size="9.30" text-anchor="start" font-weight="bold" fill="#000">shPro-IL-1β#1</text>
<rect x="71.10" y="24.20" width="10.80" height="4.00" fill="#7fb3dd" stroke="#000" stroke-width="1.20"/>
<text x="89.90" y="29.50" font-size="9.30" text-anchor="start" font-weight="bold" fill="#000">shPro-IL-1β#2</text>
<line x1="228.20" y1="31.79" x2="228.20" y2="108.10" stroke="#000" stroke-width="1.60"/>
<line x1="223.60" y1="107.50" x2="228.20" y2="107.50" stroke="#000" stroke-width="1.60"/>
<text x="221.60" y="110.38" font-size="8.00" text-anchor="end" font-weight="bold" fill="#000">0</text>
<line x1="223.60" y1="82.47" x2="228.20" y2="82.47" stroke="#000" stroke-width="1.60"/>
<text x="221.60" y="85.34" font-size="8.00" text-anchor="end" font-weight="bold" fill="#000">50</text>
<line x1="223.60" y1="57.43" x2="228.20" y2="57.43" stroke="#000" stroke-width="1.60"/>
<text x="221.60" y="60.31" font-size="8.00" text-anchor="end" font-weight="bold" fill="#000">100</text>
<line x1="223.60" y1="32.39" x2="228.20" y2="32.39" stroke="#000" stroke-width="1.60"/>
<text x="221.60" y="35.27" font-size="8.00" text-anchor="end" font-weight="bold" fill="#000">150</text>
<line x1="227.40" y1="107.50" x2="334.20" y2="107.50" stroke="#000" stroke-width="1.60"/>
<line x1="245.70" y1="107.50" x2="245.70" y2="112.10" stroke="#000" stroke-width="1.60"/>
<line x1="280.50" y1="107.50" x2="280.50" y2="112.10" stroke="#000" stroke-width="1.60"/>
<line x1="315.20" y1="107.50" x2="315.20" y2="112.10" stroke="#000" stroke-width="1.60"/>
<rect x="233.05" y="55.93" width="6.10" height="51.57" fill="#ffffff" stroke="#000" stroke-width="1.30"/>
<line x1="236.10" y1="55.93" x2="236.10" y2="48.42" stroke="#000" stroke-width="1.00"/>
<line x1="234.60" y1="48.42" x2="237.60" y2="48.42" stroke="#000" stroke-width="1.00"/>
<circle cx="234.50" cy="51.42" r="0.90" fill="none" stroke="#333" stroke-width="0.6"/>
<circle cx="236.10" cy="58.18" r="0.90" fill="none" stroke="#333" stroke-width="0.6"/>
<circle cx="237.70" cy="55.18" r="0.90" fill="none" stroke="#333" stroke-width="0.6"/>
<rect x="242.65" y="97.99" width="6.10" height="9.51" fill="#c8dff2" stroke="#000" stroke-width="1.30"/>
<line x1="245.70" y1="97.99" x2="245.70" y2="96.99" stroke="#000" stroke-width="1.00"/>
<line x1="244.20" y1="96.99" x2="247.20" y2="96.99" stroke="#000" stroke-width="1.00"/>
<circle cx="244.10" cy="97.39" r="0.90" fill="none" stroke="#333" stroke-width="0.6"/>
<circle cx="245.70" cy="98.29" r="0.90" fill="none" stroke="#333" stroke-width="0.6"/>
<circle cx="247.30" cy="97.89" r="0.90" fill="none" stroke="#333" stroke-width="0.6"/>
<rect x="252.25" y="102.49" width="6.10" height="5.01" fill="#7fb3dd" stroke="#000" stroke-width="1.30"/>
<line x1="255.30" y1="102.49" x2="255.30" y2="100.99" stroke="#000" stroke-width="1.00"/>
<line x1="253.80" y1="100.99" x2="256.80" y2="100.99" stroke="#000" stroke-width="1.00"/>
<circle cx="253.70" cy="101.59" r="0.90" fill="none" stroke="#333" stroke-width="0.6"/>
<circle cx="255.30" cy="102.94" r="0.90" fill="none" stroke="#333" stroke-width="0.6"/>
<circle cx="256.90" cy="102.34" r="0.90" fill="none" stroke="#333" stroke-width="0.6"/>
<rect x="267.85" y="58.93" width="6.10" height="48.57" fill="#ffffff" stroke="#000" stroke-width="1.30"/>
<line x1="270.90" y1="58.93" x2="270.90" y2="51.92" stroke="#000" stroke-width="1.00"/>
<line x1="269.40" y1="51.92" x2="272.40" y2="51.92" stroke="#000" stroke-width="1.00"/>
<circle cx="269.30" cy="54.73" r="0.90" fill="none" stroke="#333" stroke-width="0.6"/>
<circle cx="270.90" cy="61.04" r="0.90" fill="none" stroke="#333" stroke-width="0.6"/>
<circle cx="272.50" cy="58.23" r="0.90" fill="none" stroke="#333" stroke-width="0.6"/>
<rect x="277.45" y="97.99" width="6.10" height="9.51" fill="#c8dff2" stroke="#000" stroke-width="1.30"/>
<line x1="280.50" y1="97.99" x2="280.50" y2="94.98" stroke="#000" stroke-width="1.00"/>
<line x1="279.00" y1="94.98" x2="282.00" y2="94.98" stroke="#000" stroke-width="1.00"/>
<circle cx="278.90" cy="96.18" r="0.90" fill="none" stroke="#333" stroke-width="0.6"/>
<circle cx="280.50" cy="98.89" r="0.90" fill="none" stroke="#333" stroke-width="0.6"/>
<circle cx="282.10" cy="97.69" r="0.90" fill="none" stroke="#333" stroke-width="0.6"/>
<rect x="287.05" y="98.49" width="6.10" height="9.01" fill="#7fb3dd" stroke="#000" stroke-width="1.30"/>
<line x1="290.10" y1="98.49" x2="290.10" y2="97.99" stroke="#000" stroke-width="1.00"/>
<line x1="288.60" y1="97.99" x2="291.60" y2="97.99" stroke="#000" stroke-width="1.00"/>
<circle cx="288.50" cy="98.19" r="0.90" fill="none" stroke="#333" stroke-width="0.6"/>
<circle cx="290.10" cy="98.64" r="0.90" fill="none" stroke="#333" stroke-width="0.6"/>
<circle cx="291.70" cy="98.44" r="0.90" fill="none" stroke="#333" stroke-width="0.6"/>
<rect x="302.55" y="53.93" width="6.10" height="53.57" fill="#ffffff" stroke="#000" stroke-width="1.30"/>
<line x1="305.60" y1="53.93" x2="305.60" y2="51.92" stroke="#000" stroke-width="1.00"/>
<line x1="304.10" y1="51.92" x2="307.10" y2="51.92" stroke="#000" stroke-width="1.00"/>
<circle cx="304.00" cy="52.72" r="0.90" fill="none" stroke="#333" stroke-width="0.6"/>
<circle cx="305.60" cy="54.53" r="0.90" fill="none" stroke="#333" stroke-width="0.6"/>
<circle cx="307.20" cy="53.72" r="0.90" fill="none" stroke="#333" stroke-width="0.6"/>
<rect x="312.15" y="105.50" width="6.10" height="2.00" fill="#c8dff2" stroke="#000" stroke-width="1.30"/>
<line x1="315.20" y1="105.50" x2="315.20" y2="105.00" stroke="#000" stroke-width="1.00"/>
<line x1="313.70" y1="105.00" x2="316.70" y2="105.00" stroke="#000" stroke-width="1.00"/>
<circle cx="313.60" cy="105.20" r="0.90" fill="none" stroke="#333" stroke-width="0.6"/>
<circle cx="315.20" cy="105.65" r="0.90" fill="none" stroke="#333" stroke-width="0.6"/>
<circle cx="316.80" cy="105.45" r="0.90" fill="none" stroke="#333" stroke-width="0.6"/>
<rect x="321.75" y="105.00" width="6.10" height="2.50" fill="#7fb3dd" stroke="#000" stroke-width="1.30"/>
<line x1="324.80" y1="105.00" x2="324.80" y2="104.50" stroke="#000" stroke-width="1.00"/>
<line x1="323.30" y1="104.50" x2="326.30" y2="104.50" stroke="#000" stroke-width="1.00"/>
<circle cx="323.20" cy="104.70" r="0.90" fill="none" stroke="#333" stroke-width="0.6"/>
<circle cx="324.80" cy="105.15" r="0.90" fill="none" stroke="#333" stroke-width="0.6"/>
<circle cx="326.40" cy="104.95" r="0.90" fill="none" stroke="#333" stroke-width="0.6"/>
<line x1="236.00" y1="37.80" x2="255.60" y2="37.80" stroke="#000" stroke-width="1.30"/>
<text x="240.00" y="40.10" font-size="11.20" text-anchor="middle" font-weight="bold" fill="#000">*</text>
<text x="245.80" y="40.10" font-size="11.20" text-anchor="middle" font-weight="bold" fill="#000">*</text>
<text x="251.60" y="40.10" font-size="11.20" text-anchor="middle" font-weight="bold" fill="#000">*</text>
<line x1="236.00" y1="44.60" x2="245.90" y2="44.60" stroke="#000" stroke-width="1.30"/>
<text x="235.15" y="46.90" font-size="11.20" text-anchor="middle" font-weight="bold" fill="#000">*</text>
<text x="240.95" y="46.90" font-size="11.20" text-anchor="middle" font-weight="bold" fill="#000">*</text>
<text x="246.75" y="46.90" font-size="11.20" text-anchor="middle" font-weight="bold" fill="#000">*</text>
<line x1="270.80" y1="42.30" x2="290.40" y2="42.30" stroke="#000" stroke-width="1.30"/>
<text x="274.80" y="44.60" font-size="11.20" text-anchor="middle" font-weight="bold" fill="#000">*</text>
<text x="280.60" y="44.60" font-size="11.20" text-anchor="middle" font-weight="bold" fill="#000">*</text>
<text x="286.40" y="44.60" font-size="11.20" text-anchor="middle" font-weight="bold" fill="#000">*</text>
<line x1="270.80" y1="49.00" x2="280.70" y2="49.00" stroke="#000" stroke-width="1.30"/>
<text x="269.95" y="51.30" font-size="11.20" text-anchor="middle" font-weight="bold" fill="#000">*</text>
<text x="275.75" y="51.30" font-size="11.20" text-anchor="middle" font-weight="bold" fill="#000">*</text>
<text x="281.55" y="51.30" font-size="11.20" text-anchor="middle" font-weight="bold" fill="#000">*</text>
<line x1="305.50" y1="41.50" x2="325.10" y2="41.50" stroke="#000" stroke-width="1.30"/>
<text x="309.50" y="43.80" font-size="11.20" text-anchor="middle" font-weight="bold" fill="#000">*</text>
<text x="315.30" y="43.80" font-size="11.20" text-anchor="middle" font-weight="bold" fill="#000">*</text>
<text x="321.10" y="43.80" font-size="11.20" text-anchor="middle" font-weight="bold" fill="#000">*</text>
<line x1="305.50" y1="48.00" x2="315.40" y2="48.00" stroke="#000" stroke-width="1.30"/>
<text x="304.65" y="50.30" font-size="11.20" text-anchor="middle" font-weight="bold" fill="#000">*</text>
<text x="310.45" y="50.30" font-size="11.20" text-anchor="middle" font-weight="bold" fill="#000">*</text>
<text x="316.25" y="50.30" font-size="11.20" text-anchor="middle" font-weight="bold" fill="#000">*</text>
<text x="245.70" y="122.30" font-size="9.10" text-anchor="middle" font-weight="bold" fill="#000">HK1</text>
<text x="280.50" y="122.30" font-size="9.10" text-anchor="middle" font-weight="bold" fill="#000">FaDu</text>
<text x="315.20" y="122.30" font-size="9.10" text-anchor="middle" font-weight="bold" fill="#000">BxPC3</text>
<text x="191.50" y="70.20" font-size="11.00" text-anchor="middle" font-weight="bold" fill="#000" transform="rotate(-90 191.5 70.2)">Relative invaded</text>
<text x="204.70" y="70.20" font-size="11.00" text-anchor="middle" font-weight="bold" fill="#000" transform="rotate(-90 204.7 70.2)">cells (%)</text>
<rect x="237.80" y="3.00" width="10.80" height="4.00" fill="#ffffff" stroke="#000" stroke-width="1.20"/>
<text x="255.60" y="8.30" font-size="9.30" text-anchor="start" font-weight="bold" fill="#000">shNC</text>
<rect x="237.80" y="13.60" width="10.80" height="4.00" fill="#c8dff2" stroke="#000" stroke-width="1.20"/>
<text x="255.60" y="18.90" font-size="9.30" text-anchor="start" font-weight="bold" fill="#000">shPro-IL-1β#1</text>
<rect x="237.80" y="24.20" width="10.80" height="4.00" fill="#7fb3dd" stroke="#000" stroke-width="1.20"/>
<text x="255.60" y="29.50" font-size="9.30" text-anchor="start" font-weight="bold" fill="#000">shPro-IL-1β#2</text>
<line x1="394.20" y1="31.78" x2="394.20" y2="108.10" stroke="#000" stroke-width="1.60"/>
<line x1="389.60" y1="107.50" x2="394.20" y2="107.50" stroke="#000" stroke-width="1.60"/>
<text x="387.60" y="110.38" font-size="8.00" text-anchor="end" font-weight="bold" fill="#000">0</text>
<line x1="389.60" y1="88.72" x2="394.20" y2="88.72" stroke="#000" stroke-width="1.60"/>
<text x="387.60" y="91.60" font-size="8.00" text-anchor="end" font-weight="bold" fill="#000">200</text>
<line x1="389.60" y1="69.94" x2="394.20" y2="69.94" stroke="#000" stroke-width="1.60"/>
<text x="387.60" y="72.82" font-size="8.00" text-anchor="end" font-weight="bold" fill="#000">400</text>
<line x1="389.60" y1="51.16" x2="394.20" y2="51.16" stroke="#000" stroke-width="1.60"/>
<text x="387.60" y="54.04" font-size="8.00" text-anchor="end" font-weight="bold" fill="#000">600</text>
<line x1="389.60" y1="32.38" x2="394.20" y2="32.38" stroke="#000" stroke-width="1.60"/>
<text x="387.60" y="35.26" font-size="8.00" text-anchor="end" font-weight="bold" fill="#000">800</text>
<line x1="393.40" y1="107.50" x2="500.80" y2="107.50" stroke="#000" stroke-width="1.60"/>
<line x1="412.20" y1="107.50" x2="412.20" y2="112.10" stroke="#000" stroke-width="1.60"/>
<line x1="446.90" y1="107.50" x2="446.90" y2="112.10" stroke="#000" stroke-width="1.60"/>
<line x1="481.80" y1="107.50" x2="481.80" y2="112.10" stroke="#000" stroke-width="1.60"/>
<rect x="399.55" y="98.11" width="6.10" height="9.39" fill="#ffffff" stroke="#000" stroke-width="1.30"/>
<line x1="402.60" y1="98.11" x2="402.60" y2="97.55" stroke="#000" stroke-width="1.00"/>
<line x1="401.10" y1="97.55" x2="404.10" y2="97.55" stroke="#000" stroke-width="1.00"/>
<circle cx="401.00" cy="97.77" r="0.90" fill="none" stroke="#333" stroke-width="0.6"/>
<circle cx="402.60" cy="98.28" r="0.90" fill="none" stroke="#333" stroke-width="0.6"/>
<circle cx="404.20" cy="98.05" r="0.90" fill="none" stroke="#333" stroke-width="0.6"/>
<rect x="409.15" y="51.63" width="6.10" height="55.87" fill="#ecbfb8" stroke="#000" stroke-width="1.30"/>
<line x1="412.20" y1="51.63" x2="412.20" y2="50.88" stroke="#000" stroke-width="1.00"/>
<line x1="410.70" y1="50.88" x2="413.70" y2="50.88" stroke="#000" stroke-width="1.00"/>
<circle cx="410.60" cy="51.18" r="0.90" fill="none" stroke="#333" stroke-width="0.6"/>
<circle cx="412.20" cy="51.85" r="0.90" fill="none" stroke="#333" stroke-width="0.6"/>
<circle cx="413.80" cy="51.55" r="0.90" fill="none" stroke="#333" stroke-width="0.6"/>
<rect x="418.75" y="53.23" width="6.10" height="54.27" fill="#c0696f" stroke="#000" stroke-width="1.30"/>
<line x1="421.80" y1="53.23" x2="421.80" y2="52.47" stroke="#000" stroke-width="1.00"/>
<line x1="420.30" y1="52.47" x2="423.30" y2="52.47" stroke="#000" stroke-width="1.00"/>
<circle cx="420.20" cy="52.78" r="0.90" fill="none" stroke="#333" stroke-width="0.6"/>
<circle cx="421.80" cy="53.45" r="0.90" fill="none" stroke="#333" stroke-width="0.6"/>
<circle cx="423.40" cy="53.15" r="0.90" fill="none" stroke="#333" stroke-width="0.6"/>
<rect x="434.25" y="97.64" width="6.10" height="9.86" fill="#ffffff" stroke="#000" stroke-width="1.30"/>
<line x1="437.30" y1="97.64" x2="437.30" y2="97.17" stroke="#000" stroke-width="1.00"/>
<line x1="435.80" y1="97.17" x2="438.80" y2="97.17" stroke="#000" stroke-width="1.00"/>
<circle cx="435.70" cy="97.36" r="0.90" fill="none" stroke="#333" stroke-width="0.6"/>
<circle cx="437.30" cy="97.78" r="0.90" fill="none" stroke="#333" stroke-width="0.6"/>
<circle cx="438.90" cy="97.59" r="0.90" fill="none" stroke="#333" stroke-width="0.6"/>
<rect x="443.85" y="79.33" width="6.10" height="28.17" fill="#ecbfb8" stroke="#000" stroke-width="1.30"/>
<line x1="446.90" y1="79.33" x2="446.90" y2="78.77" stroke="#000" stroke-width="1.00"/>
<line x1="445.40" y1="78.77" x2="448.40" y2="78.77" stroke="#000" stroke-width="1.00"/>
<circle cx="445.30" cy="78.99" r="0.90" fill="none" stroke="#333" stroke-width="0.6"/>
<circle cx="446.90" cy="79.50" r="0.90" fill="none" stroke="#333" stroke-width="0.6"/>
<circle cx="448.50" cy="79.27" r="0.90" fill="none" stroke="#333" stroke-width="0.6"/>
<rect x="453.45" y="78.86" width="6.10" height="28.64" fill="#c0696f" stroke="#000" stroke-width="1.30"/>
<line x1="456.50" y1="78.86" x2="456.50" y2="78.30" stroke="#000" stroke-width="1.00"/>
<line x1="455.00" y1="78.30" x2="458.00" y2="78.30" stroke="#000" stroke-width="1.00"/>
<circle cx="454.90" cy="78.52" r="0.90" fill="none" stroke="#333" stroke-width="0.6"/>
<circle cx="456.50" cy="79.03" r="0.90" fill="none" stroke="#333" stroke-width="0.6"/>
<circle cx="458.10" cy="78.80" r="0.90" fill="none" stroke="#333" stroke-width="0.6"/>
<rect x="469.15" y="97.64" width="6.10" height="9.86" fill="#ffffff" stroke="#000" stroke-width="1.30"/>
<line x1="472.20" y1="97.64" x2="472.20" y2="97.08" stroke="#000" stroke-width="1.00"/>
<line x1="470.70" y1="97.08" x2="473.70" y2="97.08" stroke="#000" stroke-width="1.00"/>
<circle cx="470.60" cy="97.30" r="0.90" fill="none" stroke="#333" stroke-width="0.6"/>
<circle cx="472.20" cy="97.81" r="0.90" fill="none" stroke="#333" stroke-width="0.6"/>
<circle cx="473.80" cy="97.58" r="0.90" fill="none" stroke="#333" stroke-width="0.6"/>
<rect x="478.75" y="41.02" width="6.10" height="66.48" fill="#ecbfb8" stroke="#000" stroke-width="1.30"/>
<line x1="481.80" y1="41.02" x2="481.80" y2="40.46" stroke="#000" stroke-width="1.00"/>
<line x1="480.30" y1="40.46" x2="483.30" y2="40.46" stroke="#000" stroke-width="1.00"/>
<circle cx="480.20" cy="40.68" r="0.90" fill="none" stroke="#333" stroke-width="0.6"/>
<circle cx="481.80" cy="41.19" r="0.90" fill="none" stroke="#333" stroke-width="0.6"/>
<circle cx="483.40" cy="40.96" r="0.90" fill="none" stroke="#333" stroke-width="0.6"/>
<rect x="488.35" y="41.30" width="6.10" height="66.20" fill="#c0696f" stroke="#000" stroke-width="1.30"/>
<line x1="491.40" y1="41.30" x2="491.40" y2="40.74" stroke="#000" stroke-width="1.00"/>
<line x1="489.90" y1="40.74" x2="492.90" y2="40.74" stroke="#000" stroke-width="1.00"/>
<circle cx="489.80" cy="40.96" r="0.90" fill="none" stroke="#333" stroke-width="0.6"/>
<circle cx="491.40" cy="41.47" r="0.90" fill="none" stroke="#333" stroke-width="0.6"/>
<circle cx="493.00" cy="41.24" r="0.90" fill="none" stroke="#333" stroke-width="0.6"/>
<line x1="402.60" y1="40.40" x2="422.40" y2="40.40" stroke="#000" stroke-width="1.30"/>
<text x="406.70" y="42.70" font-size="11.20" text-anchor="middle" font-weight="bold" fill="#000">*</text>
<text x="412.50" y="42.70" font-size="11.20" text-anchor="middle" font-weight="bold" fill="#000">*</text>
<text x="418.30" y="42.70" font-size="11.20" text-anchor="middle" font-weight="bold" fill="#000">*</text>
<line x1="402.40" y1="47.00" x2="412.40" y2="47.00" stroke="#000" stroke-width="1.30"/>
<text x="401.60" y="49.30" font-size="11.20" text-anchor="middle" font-weight="bold" fill="#000">*</text>
<text x="407.40" y="49.30" font-size="11.20" text-anchor="middle" font-weight="bold" fill="#000">*</text>
<text x="413.20" y="49.30" font-size="11.20" text-anchor="middle" font-weight="bold" fill="#000">*</text>
<line x1="437.20" y1="67.00" x2="457.00" y2="67.00" stroke="#000" stroke-width="1.30"/>
<text x="441.30" y="69.30" font-size="11.20" text-anchor="middle" font-weight="bold" fill="#000">*</text>
<text x="447.10" y="69.30" font-size="11.20" text-anchor="middle" font-weight="bold" fill="#000">*</text>
<text x="452.90" y="69.30" font-size="11.20" text-anchor="middle" font-weight="bold" fill="#000">*</text>
<line x1="437.00" y1="73.50" x2="447.00" y2="73.50" stroke="#000" stroke-width="1.30"/>
<text x="436.20" y="75.80" font-size="11.20" text-anchor="middle" font-weight="bold" fill="#000">*</text>
<text x="442.00" y="75.80" font-size="11.20" text-anchor="middle" font-weight="bold" fill="#000">*</text>
<text x="447.80" y="75.80" font-size="11.20" text-anchor="middle" font-weight="bold" fill="#000">*</text>
<line x1="472.10" y1="29.20" x2="491.90" y2="29.20" stroke="#000" stroke-width="1.30"/>
<text x="476.20" y="31.50" font-size="11.20" text-anchor="middle" font-weight="bold" fill="#000">*</text>
<text x="482.00" y="31.50" font-size="11.20" text-anchor="middle" font-weight="bold" fill="#000">*</text>
<text x="487.80" y="31.50" font-size="11.20" text-anchor="middle" font-weight="bold" fill="#000">*</text>
<line x1="471.90" y1="35.30" x2="481.90" y2="35.30" stroke="#000" stroke-width="1.30"/>
<text x="471.10" y="37.60" font-size="11.20" text-anchor="middle" font-weight="bold" fill="#000">*</text>
<text x="476.90" y="37.60" font-size="11.20" text-anchor="middle" font-weight="bold" fill="#000">*</text>
<text x="482.70" y="37.60" font-size="11.20" text-anchor="middle" font-weight="bold" fill="#000">*</text>
<text x="412.20" y="122.30" font-size="9.10" text-anchor="middle" font-weight="bold" fill="#000">HK1</text>
<text x="446.90" y="122.30" font-size="9.10" text-anchor="middle" font-weight="bold" fill="#000">C666-1</text>
<text x="481.80" y="122.30" font-size="9.10" text-anchor="middle" font-weight="bold" fill="#000">BxPC3</text>
<text x="357.90" y="70.20" font-size="11.00" text-anchor="middle" font-weight="bold" fill="#000" transform="rotate(-90 357.9 70.2)">Relative migrated</text>
<text x="370.70" y="70.20" font-size="11.00" text-anchor="middle" font-weight="bold" fill="#000" transform="rotate(-90 370.7 70.2)">cells (%)</text>
<rect x="403.60" y="3.00" width="10.80" height="4.00" fill="#ffffff" stroke="#000" stroke-width="1.20"/>
<text x="422.00" y="8.30" font-size="9.30" text-anchor="start" font-weight="bold" fill="#000">vector</text>
<rect x="403.60" y="13.60" width="10.80" height="4.00" fill="#ecbfb8" stroke="#000" stroke-width="1.20"/>
<text x="422.00" y="18.90" font-size="9.30" text-anchor="start" font-weight="bold" fill="#000">wt<tspan font-style="italic">IL1B</tspan></text>
<rect x="403.60" y="24.20" width="10.80" height="4.00" fill="#c0696f" stroke="#000" stroke-width="1.20"/>
<text x="422.00" y="29.50" font-size="9.30" text-anchor="start" font-weight="bold" fill="#000">mt<tspan font-style="italic">IL1B</tspan></text>
<line x1="560.70" y1="31.78" x2="560.70" y2="108.10" stroke="#000" stroke-width="1.60"/>
<line x1="556.10" y1="107.50" x2="560.70" y2="107.50" stroke="#000" stroke-width="1.60"/>
<text x="554.10" y="110.38" font-size="8.00" text-anchor="end" font-weight="bold" fill="#000">0</text>
<line x1="556.10" y1="88.72" x2="560.70" y2="88.72" stroke="#000" stroke-width="1.60"/>
<text x="554.10" y="91.60" font-size="8.00" text-anchor="end" font-weight="bold" fill="#000">200</text>
<line x1="556.10" y1="69.94" x2="560.70" y2="69.94" stroke="#000" stroke-width="1.60"/>
<text x="554.10" y="72.82" font-size="8.00" text-anchor="end" font-weight="bold" fill="#000">400</text>
<line x1="556.10" y1="51.16" x2="560.70" y2="51.16" stroke="#000" stroke-width="1.60"/>
<text x="554.10" y="54.04" font-size="8.00" text-anchor="end" font-weight="bold" fill="#000">600</text>
<line x1="556.10" y1="32.38" x2="560.70" y2="32.38" stroke="#000" stroke-width="1.60"/>
<text x="554.10" y="35.26" font-size="8.00" text-anchor="end" font-weight="bold" fill="#000">800</text>
<line x1="559.90" y1="107.50" x2="665.70" y2="107.50" stroke="#000" stroke-width="1.60"/>
<line x1="578.00" y1="107.50" x2="578.00" y2="112.10" stroke="#000" stroke-width="1.60"/>
<line x1="612.80" y1="107.50" x2="612.80" y2="112.10" stroke="#000" stroke-width="1.60"/>
<line x1="647.50" y1="107.50" x2="647.50" y2="112.10" stroke="#000" stroke-width="1.60"/>
<rect x="565.35" y="98.11" width="6.10" height="9.39" fill="#ffffff" stroke="#000" stroke-width="1.30"/>
<line x1="568.40" y1="98.11" x2="568.40" y2="97.64" stroke="#000" stroke-width="1.00"/>
<line x1="566.90" y1="97.64" x2="569.90" y2="97.64" stroke="#000" stroke-width="1.00"/>
<circle cx="566.80" cy="97.83" r="0.90" fill="none" stroke="#333" stroke-width="0.6"/>
<circle cx="568.40" cy="98.25" r="0.90" fill="none" stroke="#333" stroke-width="0.6"/>
<circle cx="570.00" cy="98.06" r="0.90" fill="none" stroke="#333" stroke-width="0.6"/>
<rect x="574.95" y="71.07" width="6.10" height="36.43" fill="#ecbfb8" stroke="#000" stroke-width="1.30"/>
<line x1="578.00" y1="71.07" x2="578.00" y2="70.32" stroke="#000" stroke-width="1.00"/>
<line x1="576.50" y1="70.32" x2="579.50" y2="70.32" stroke="#000" stroke-width="1.00"/>
<circle cx="576.40" cy="70.62" r="0.90" fill="none" stroke="#333" stroke-width="0.6"/>
<circle cx="578.00" cy="71.29" r="0.90" fill="none" stroke="#333" stroke-width="0.6"/>
<circle cx="579.60" cy="70.99" r="0.90" fill="none" stroke="#333" stroke-width="0.6"/>
<rect x="584.55" y="71.35" width="6.10" height="36.15" fill="#c0696f" stroke="#000" stroke-width="1.30"/>
<line x1="587.60" y1="71.35" x2="587.60" y2="70.79" stroke="#000" stroke-width="1.00"/>
<line x1="586.10" y1="70.79" x2="589.10" y2="70.79" stroke="#000" stroke-width="1.00"/>
<circle cx="586.00" cy="71.01" r="0.90" fill="none" stroke="#333" stroke-width="0.6"/>
<circle cx="587.60" cy="71.52" r="0.90" fill="none" stroke="#333" stroke-width="0.6"/>
<circle cx="589.20" cy="71.29" r="0.90" fill="none" stroke="#333" stroke-width="0.6"/>
<rect x="600.15" y="98.39" width="6.10" height="9.11" fill="#ffffff" stroke="#000" stroke-width="1.30"/>
<line x1="603.20" y1="98.39" x2="603.20" y2="97.92" stroke="#000" stroke-width="1.00"/>
<line x1="601.70" y1="97.92" x2="604.70" y2="97.92" stroke="#000" stroke-width="1.00"/>
<circle cx="601.60" cy="98.11" r="0.90" fill="none" stroke="#333" stroke-width="0.6"/>
<circle cx="603.20" cy="98.53" r="0.90" fill="none" stroke="#333" stroke-width="0.6"/>
<circle cx="604.80" cy="98.34" r="0.90" fill="none" stroke="#333" stroke-width="0.6"/>
<rect x="609.75" y="89.19" width="6.10" height="18.31" fill="#ecbfb8" stroke="#000" stroke-width="1.30"/>
<line x1="612.80" y1="89.19" x2="612.80" y2="88.63" stroke="#000" stroke-width="1.00"/>
<line x1="611.30" y1="88.63" x2="614.30" y2="88.63" stroke="#000" stroke-width="1.00"/>
<circle cx="611.20" cy="88.85" r="0.90" fill="none" stroke="#333" stroke-width="0.6"/>
<circle cx="612.80" cy="89.36" r="0.90" fill="none" stroke="#333" stroke-width="0.6"/>
<circle cx="614.40" cy="89.13" r="0.90" fill="none" stroke="#333" stroke-width="0.6"/>
<rect x="619.35" y="88.91" width="6.10" height="18.59" fill="#c0696f" stroke="#000" stroke-width="1.30"/>
<line x1="622.40" y1="88.91" x2="622.40" y2="88.44" stroke="#000" stroke-width="1.00"/>
<line x1="620.90" y1="88.44" x2="623.90" y2="88.44" stroke="#000" stroke-width="1.00"/>
<circle cx="620.80" cy="88.63" r="0.90" fill="none" stroke="#333" stroke-width="0.6"/>
<circle cx="622.40" cy="89.05" r="0.90" fill="none" stroke="#333" stroke-width="0.6"/>
<circle cx="624.00" cy="88.86" r="0.90" fill="none" stroke="#333" stroke-width="0.6"/>
<rect x="634.85" y="97.83" width="6.10" height="9.67" fill="#ffffff" stroke="#000" stroke-width="1.30"/>
<line x1="637.90" y1="97.83" x2="637.90" y2="97.36" stroke="#000" stroke-width="1.00"/>
<line x1="636.40" y1="97.36" x2="639.40" y2="97.36" stroke="#000" stroke-width="1.00"/>
<circle cx="636.30" cy="97.55" r="0.90" fill="none" stroke="#333" stroke-width="0.6"/>
<circle cx="637.90" cy="97.97" r="0.90" fill="none" stroke="#333" stroke-width="0.6"/>
<circle cx="639.50" cy="97.78" r="0.90" fill="none" stroke="#333" stroke-width="0.6"/>
<rect x="644.45" y="52.57" width="6.10" height="54.93" fill="#ecbfb8" stroke="#000" stroke-width="1.30"/>
<line x1="647.50" y1="52.57" x2="647.50" y2="51.82" stroke="#000" stroke-width="1.00"/>
<line x1="646.00" y1="51.82" x2="649.00" y2="51.82" stroke="#000" stroke-width="1.00"/>
<circle cx="645.90" cy="52.12" r="0.90" fill="none" stroke="#333" stroke-width="0.6"/>
<circle cx="647.50" cy="52.79" r="0.90" fill="none" stroke="#333" stroke-width="0.6"/>
<circle cx="649.10" cy="52.49" r="0.90" fill="none" stroke="#333" stroke-width="0.6"/>
<rect x="654.05" y="52.10" width="6.10" height="55.40" fill="#c0696f" stroke="#000" stroke-width="1.30"/>
<line x1="657.10" y1="52.10" x2="657.10" y2="51.54" stroke="#000" stroke-width="1.00"/>
<line x1="655.60" y1="51.54" x2="658.60" y2="51.54" stroke="#000" stroke-width="1.00"/>
<circle cx="655.50" cy="51.76" r="0.90" fill="none" stroke="#333" stroke-width="0.6"/>
<circle cx="657.10" cy="52.27" r="0.90" fill="none" stroke="#333" stroke-width="0.6"/>
<circle cx="658.70" cy="52.04" r="0.90" fill="none" stroke="#333" stroke-width="0.6"/>
<line x1="568.40" y1="57.80" x2="588.20" y2="57.80" stroke="#000" stroke-width="1.30"/>
<text x="572.50" y="60.10" font-size="11.20" text-anchor="middle" font-weight="bold" fill="#000">*</text>
<text x="578.30" y="60.10" font-size="11.20" text-anchor="middle" font-weight="bold" fill="#000">*</text>
<text x="584.10" y="60.10" font-size="11.20" text-anchor="middle" font-weight="bold" fill="#000">*</text>
<line x1="568.20" y1="64.60" x2="578.20" y2="64.60" stroke="#000" stroke-width="1.30"/>
<text x="567.40" y="66.90" font-size="11.20" text-anchor="middle" font-weight="bold" fill="#000">*</text>
<text x="573.20" y="66.90" font-size="11.20" text-anchor="middle" font-weight="bold" fill="#000">*</text>
<text x="579.00" y="66.90" font-size="11.20" text-anchor="middle" font-weight="bold" fill="#000">*</text>
<line x1="603.20" y1="75.60" x2="623.00" y2="75.60" stroke="#000" stroke-width="1.30"/>
<text x="607.30" y="77.90" font-size="11.20" text-anchor="middle" font-weight="bold" fill="#000">*</text>
<text x="613.10" y="77.90" font-size="11.20" text-anchor="middle" font-weight="bold" fill="#000">*</text>
<text x="618.90" y="77.90" font-size="11.20" text-anchor="middle" font-weight="bold" fill="#000">*</text>
<line x1="603.00" y1="83.00" x2="613.00" y2="83.00" stroke="#000" stroke-width="1.30"/>
<text x="602.20" y="85.30" font-size="11.20" text-anchor="middle" font-weight="bold" fill="#000">*</text>
<text x="608.00" y="85.30" font-size="11.20" text-anchor="middle" font-weight="bold" fill="#000">*</text>
<text x="613.80" y="85.30" font-size="11.20" text-anchor="middle" font-weight="bold" fill="#000">*</text>
<line x1="637.90" y1="39.40" x2="657.70" y2="39.40" stroke="#000" stroke-width="1.30"/>
<text x="642.00" y="41.70" font-size="11.20" text-anchor="middle" font-weight="bold" fill="#000">*</text>
<text x="647.80" y="41.70" font-size="11.20" text-anchor="middle" font-weight="bold" fill="#000">*</text>
<text x="653.60" y="41.70" font-size="11.20" text-anchor="middle" font-weight="bold" fill="#000">*</text>
<line x1="637.70" y1="46.20" x2="647.70" y2="46.20" stroke="#000" stroke-width="1.30"/>
<text x="636.90" y="48.50" font-size="11.20" text-anchor="middle" font-weight="bold" fill="#000">*</text>
<text x="642.70" y="48.50" font-size="11.20" text-anchor="middle" font-weight="bold" fill="#000">*</text>
<text x="648.50" y="48.50" font-size="11.20" text-anchor="middle" font-weight="bold" fill="#000">*</text>
<text x="578.00" y="122.30" font-size="9.10" text-anchor="middle" font-weight="bold" fill="#000">HK1</text>
<text x="612.80" y="122.30" font-size="9.10" text-anchor="middle" font-weight="bold" fill="#000">C666-1</text>
<text x="647.50" y="122.30" font-size="9.10" text-anchor="middle" font-weight="bold" fill="#000">BxPC3</text>
<text x="523.90" y="70.20" font-size="11.00" text-anchor="middle" font-weight="bold" fill="#000" transform="rotate(-90 523.9 70.2)">Relative invaded</text>
<text x="537.20" y="70.20" font-size="11.00" text-anchor="middle" font-weight="bold" fill="#000" transform="rotate(-90 537.2 70.2)">cells (%)</text>
<rect x="570.20" y="3.00" width="10.80" height="4.00" fill="#ffffff" stroke="#000" stroke-width="1.20"/>
<text x="588.00" y="8.30" font-size="9.30" text-anchor="start" font-weight="bold" fill="#000">vector</text>
<rect x="570.20" y="13.60" width="10.80" height="4.00" fill="#ecbfb8" stroke="#000" stroke-width="1.20"/>
<text x="588.00" y="18.90" font-size="9.30" text-anchor="start" font-weight="bold" fill="#000">wt<tspan font-style="italic">IL1B</tspan></text>
<rect x="570.20" y="24.20" width="10.80" height="4.00" fill="#c0696f" stroke="#000" stroke-width="1.20"/>
<text x="588.00" y="29.50" font-size="9.30" text-anchor="start" font-weight="bold" fill="#000">mt<tspan font-style="italic">IL1B</tspan></text>
<text x="5.60" y="157.00" font-size="20.00" text-anchor="start" font-weight="bold" fill="#000">B</text>
<line x1="90.00" y1="148.20" x2="90.00" y2="248.60" stroke="#000" stroke-width="1.80"/>
<line x1="84.80" y1="248.00" x2="90.00" y2="248.00" stroke="#000" stroke-width="1.80"/>
<text x="82.80" y="251.46" font-size="9.60" text-anchor="end" font-weight="bold" fill="#000">0</text>
<line x1="84.80" y1="214.90" x2="90.00" y2="214.90" stroke="#000" stroke-width="1.80"/>
<text x="82.80" y="218.36" font-size="9.60" text-anchor="end" font-weight="bold" fill="#000">50</text>
<line x1="84.80" y1="181.90" x2="90.00" y2="181.90" stroke="#000" stroke-width="1.80"/>
<text x="82.80" y="185.36" font-size="9.60" text-anchor="end" font-weight="bold" fill="#000">100</text>
<line x1="84.80" y1="148.80" x2="90.00" y2="148.80" stroke="#000" stroke-width="1.80"/>
<text x="82.80" y="152.26" font-size="9.60" text-anchor="end" font-weight="bold" fill="#000">150</text>
<line x1="89.10" y1="248.00" x2="252.00" y2="248.00" stroke="#000" stroke-width="1.80"/>
<line x1="132.00" y1="248.00" x2="132.00" y2="253.00" stroke="#000" stroke-width="1.80"/>
<line x1="214.40" y1="248.00" x2="214.40" y2="253.00" stroke="#000" stroke-width="1.80"/>
<rect x="95.95" y="185.17" width="6.70" height="62.83" fill="#ffffff" stroke="#000" stroke-width="1.50"/>
<line x1="99.30" y1="185.17" x2="99.30" y2="181.87" stroke="#000" stroke-width="1.20"/>
<line x1="97.50" y1="181.87" x2="101.10" y2="181.87" stroke="#000" stroke-width="1.20"/>
<circle cx="97.70" cy="183.19" r="1.00" fill="none" stroke="#333" stroke-width="0.6"/>
<circle cx="99.30" cy="186.17" r="1.00" fill="none" stroke="#333" stroke-width="0.6"/>
<circle cx="100.90" cy="184.84" r="1.00" fill="none" stroke="#333" stroke-width="0.6"/>
<rect x="106.85" y="237.42" width="6.70" height="10.58" fill="#c8e0d4" stroke="#000" stroke-width="1.50"/>
<line x1="110.20" y1="237.42" x2="110.20" y2="236.76" stroke="#000" stroke-width="1.20"/>
<line x1="108.40" y1="236.76" x2="112.00" y2="236.76" stroke="#000" stroke-width="1.20"/>
<circle cx="108.60" cy="237.02" r="1.00" fill="none" stroke="#333" stroke-width="0.6"/>
<circle cx="110.20" cy="237.62" r="1.00" fill="none" stroke="#333" stroke-width="0.6"/>
<circle cx="111.80" cy="237.35" r="1.00" fill="none" stroke="#333" stroke-width="0.6"/>
<rect x="117.75" y="192.45" width="6.70" height="55.55" fill="#f4dcc0" stroke="#000" stroke-width="1.50"/>
<line x1="121.10" y1="192.45" x2="121.10" y2="189.80" stroke="#000" stroke-width="1.20"/>
<line x1="119.30" y1="189.80" x2="122.90" y2="189.80" stroke="#000" stroke-width="1.20"/>
<circle cx="119.50" cy="190.86" r="1.00" fill="none" stroke="#333" stroke-width="0.6"/>
<circle cx="121.10" cy="193.24" r="1.00" fill="none" stroke="#333" stroke-width="0.6"/>
<circle cx="122.70" cy="192.18" r="1.00" fill="none" stroke="#333" stroke-width="0.6"/>
<rect x="128.65" y="237.42" width="6.70" height="10.58" fill="#f0dcf0" stroke="#000" stroke-width="1.50"/>
<line x1="132.00" y1="237.42" x2="132.00" y2="236.76" stroke="#000" stroke-width="1.20"/>
<line x1="130.20" y1="236.76" x2="133.80" y2="236.76" stroke="#000" stroke-width="1.20"/>
<circle cx="130.40" cy="237.02" r="1.00" fill="none" stroke="#333" stroke-width="0.6"/>
<circle cx="132.00" cy="237.62" r="1.00" fill="none" stroke="#333" stroke-width="0.6"/>
<circle cx="133.60" cy="237.35" r="1.00" fill="none" stroke="#333" stroke-width="0.6"/>
<rect x="139.55" y="235.43" width="6.70" height="12.57" fill="#6a9c84" stroke="#000" stroke-width="1.50"/>
<line x1="142.90" y1="235.43" x2="142.90" y2="234.11" stroke="#000" stroke-width="1.20"/>
<line x1="141.10" y1="234.11" x2="144.70" y2="234.11" stroke="#000" stroke-width="1.20"/>
<circle cx="141.30" cy="234.64" r="1.00" fill="none" stroke="#333" stroke-width="0.6"/>
<circle cx="142.90" cy="235.83" r="1.00" fill="none" stroke="#333" stroke-width="0.6"/>
<circle cx="144.50" cy="235.30" r="1.00" fill="none" stroke="#333" stroke-width="0.6"/>
<rect x="150.45" y="186.50" width="6.70" height="61.50" fill="#e6b070" stroke="#000" stroke-width="1.50"/>
<line x1="153.80" y1="186.50" x2="153.80" y2="185.83" stroke="#000" stroke-width="1.20"/>
<line x1="152.00" y1="185.83" x2="155.60" y2="185.83" stroke="#000" stroke-width="1.20"/>
<circle cx="152.20" cy="186.10" r="1.00" fill="none" stroke="#333" stroke-width="0.6"/>
<circle cx="153.80" cy="186.69" r="1.00" fill="none" stroke="#333" stroke-width="0.6"/>
<circle cx="155.40" cy="186.43" r="1.00" fill="none" stroke="#333" stroke-width="0.6"/>
<rect x="161.35" y="236.76" width="6.70" height="11.24" fill="#d898cc" stroke="#000" stroke-width="1.50"/>
<line x1="164.70" y1="236.76" x2="164.70" y2="235.43" stroke="#000" stroke-width="1.20"/>
<line x1="162.90" y1="235.43" x2="166.50" y2="235.43" stroke="#000" stroke-width="1.20"/>
<circle cx="163.10" cy="235.96" r="1.00" fill="none" stroke="#333" stroke-width="0.6"/>
<circle cx="164.70" cy="237.15" r="1.00" fill="none" stroke="#333" stroke-width="0.6"/>
<circle cx="166.30" cy="236.63" r="1.00" fill="none" stroke="#333" stroke-width="0.6"/>
<rect x="178.35" y="181.87" width="6.70" height="66.13" fill="#ffffff" stroke="#000" stroke-width="1.50"/>
<line x1="181.70" y1="181.87" x2="181.70" y2="180.54" stroke="#000" stroke-width="1.20"/>
<line x1="179.90" y1="180.54" x2="183.50" y2="180.54" stroke="#000" stroke-width="1.20"/>
<circle cx="180.10" cy="181.07" r="1.00" fill="none" stroke="#333" stroke-width="0.6"/>
<circle cx="181.70" cy="182.26" r="1.00" fill="none" stroke="#333" stroke-width="0.6"/>
<circle cx="183.30" cy="181.73" r="1.00" fill="none" stroke="#333" stroke-width="0.6"/>
<rect x="189.25" y="234.77" width="6.70" height="13.23" fill="#c8e0d4" stroke="#000" stroke-width="1.50"/>
<line x1="192.60" y1="234.77" x2="192.60" y2="234.11" stroke="#000" stroke-width="1.20"/>
<line x1="190.80" y1="234.11" x2="194.40" y2="234.11" stroke="#000" stroke-width="1.20"/>
<circle cx="191.00" cy="234.38" r="1.00" fill="none" stroke="#333" stroke-width="0.6"/>
<circle cx="192.60" cy="234.97" r="1.00" fill="none" stroke="#333" stroke-width="0.6"/>
<circle cx="194.20" cy="234.71" r="1.00" fill="none" stroke="#333" stroke-width="0.6"/>
<rect x="200.15" y="189.14" width="6.70" height="58.86" fill="#f4dcc0" stroke="#000" stroke-width="1.50"/>
<line x1="203.50" y1="189.14" x2="203.50" y2="187.82" stroke="#000" stroke-width="1.20"/>
<line x1="201.70" y1="187.82" x2="205.30" y2="187.82" stroke="#000" stroke-width="1.20"/>
<circle cx="201.90" cy="188.35" r="1.00" fill="none" stroke="#333" stroke-width="0.6"/>
<circle cx="203.50" cy="189.54" r="1.00" fill="none" stroke="#333" stroke-width="0.6"/>
<circle cx="205.10" cy="189.01" r="1.00" fill="none" stroke="#333" stroke-width="0.6"/>
<rect x="211.05" y="235.43" width="6.70" height="12.57" fill="#f0dcf0" stroke="#000" stroke-width="1.50"/>
<line x1="214.40" y1="235.43" x2="214.40" y2="234.77" stroke="#000" stroke-width="1.20"/>
<line x1="212.60" y1="234.77" x2="216.20" y2="234.77" stroke="#000" stroke-width="1.20"/>
<circle cx="212.80" cy="235.04" r="1.00" fill="none" stroke="#333" stroke-width="0.6"/>
<circle cx="214.40" cy="235.63" r="1.00" fill="none" stroke="#333" stroke-width="0.6"/>
<circle cx="216.00" cy="235.37" r="1.00" fill="none" stroke="#333" stroke-width="0.6"/>
<rect x="221.95" y="236.76" width="6.70" height="11.24" fill="#6a9c84" stroke="#000" stroke-width="1.50"/>
<line x1="225.30" y1="236.76" x2="225.30" y2="236.10" stroke="#000" stroke-width="1.20"/>
<line x1="223.50" y1="236.10" x2="227.10" y2="236.10" stroke="#000" stroke-width="1.20"/>
<circle cx="223.70" cy="236.36" r="1.00" fill="none" stroke="#333" stroke-width="0.6"/>
<circle cx="225.30" cy="236.96" r="1.00" fill="none" stroke="#333" stroke-width="0.6"/>
<circle cx="226.90" cy="236.69" r="1.00" fill="none" stroke="#333" stroke-width="0.6"/>
<rect x="232.85" y="183.85" width="6.70" height="64.15" fill="#e6b070" stroke="#000" stroke-width="1.50"/>
<line x1="236.20" y1="183.85" x2="236.20" y2="182.53" stroke="#000" stroke-width="1.20"/>
<line x1="234.40" y1="182.53" x2="238.00" y2="182.53" stroke="#000" stroke-width="1.20"/>
<circle cx="234.60" cy="183.06" r="1.00" fill="none" stroke="#333" stroke-width="0.6"/>
<circle cx="236.20" cy="184.25" r="1.00" fill="none" stroke="#333" stroke-width="0.6"/>
<circle cx="237.80" cy="183.72" r="1.00" fill="none" stroke="#333" stroke-width="0.6"/>
<rect x="243.75" y="237.42" width="6.70" height="10.58" fill="#d898cc" stroke="#000" stroke-width="1.50"/>
<line x1="247.10" y1="237.42" x2="247.10" y2="236.76" stroke="#000" stroke-width="1.20"/>
<line x1="245.30" y1="236.76" x2="248.90" y2="236.76" stroke="#000" stroke-width="1.20"/>
<circle cx="245.50" cy="237.02" r="1.00" fill="none" stroke="#333" stroke-width="0.6"/>
<circle cx="247.10" cy="237.62" r="1.00" fill="none" stroke="#333" stroke-width="0.6"/>
<circle cx="248.70" cy="237.35" r="1.00" fill="none" stroke="#333" stroke-width="0.6"/>
<line x1="99.40" y1="148.60" x2="143.00" y2="148.60" stroke="#000" stroke-width="1.60"/>
<text x="114.10" y="150.40" font-size="13.90" text-anchor="middle" font-weight="bold" fill="#000">*</text>
<text x="121.20" y="150.40" font-size="13.90" text-anchor="middle" font-weight="bold" fill="#000">*</text>
<text x="128.30" y="150.40" font-size="13.90" text-anchor="middle" font-weight="bold" fill="#000">*</text>
<line x1="98.00" y1="160.00" x2="112.00" y2="160.00" stroke="#000" stroke-width="1.60"/>
<text x="97.90" y="161.80" font-size="13.90" text-anchor="middle" font-weight="bold" fill="#000">*</text>
<text x="105.00" y="161.80" font-size="13.90" text-anchor="middle" font-weight="bold" fill="#000">*</text>
<text x="112.10" y="161.80" font-size="13.90" text-anchor="middle" font-weight="bold" fill="#000">*</text>
<line x1="109.00" y1="174.40" x2="132.40" y2="174.40" stroke="#000" stroke-width="1.60"/>
<text x="120.70" y="172.40" font-size="10.60" text-anchor="middle" font-weight="bold" fill="#000">ns</text>
<line x1="109.00" y1="185.40" x2="122.00" y2="185.40" stroke="#000" stroke-width="1.60"/>
<text x="108.40" y="187.20" font-size="13.90" text-anchor="middle" font-weight="bold" fill="#000">*</text>
<text x="115.50" y="187.20" font-size="13.90" text-anchor="middle" font-weight="bold" fill="#000">*</text>
<text x="122.60" y="187.20" font-size="13.90" text-anchor="middle" font-weight="bold" fill="#000">*</text>
<line x1="142.00" y1="170.60" x2="165.00" y2="170.60" stroke="#000" stroke-width="1.60"/>
<text x="153.50" y="168.60" font-size="10.60" text-anchor="middle" font-weight="bold" fill="#000">ns</text>
<line x1="141.60" y1="180.60" x2="155.00" y2="180.60" stroke="#000" stroke-width="1.60"/>
<text x="141.20" y="182.40" font-size="13.90" text-anchor="middle" font-weight="bold" fill="#000">*</text>
<text x="148.30" y="182.40" font-size="13.90" text-anchor="middle" font-weight="bold" fill="#000">*</text>
<text x="155.40" y="182.40" font-size="13.90" text-anchor="middle" font-weight="bold" fill="#000">*</text>
<line x1="181.00" y1="145.40" x2="225.40" y2="145.40" stroke="#000" stroke-width="1.60"/>
<text x="196.10" y="147.20" font-size="13.90" text-anchor="middle" font-weight="bold" fill="#000">*</text>
<text x="203.20" y="147.20" font-size="13.90" text-anchor="middle" font-weight="bold" fill="#000">*</text>
<text x="210.30" y="147.20" font-size="13.90" text-anchor="middle" font-weight="bold" fill="#000">*</text>
<line x1="180.00" y1="156.40" x2="194.40" y2="156.40" stroke="#000" stroke-width="1.60"/>
<text x="180.10" y="158.20" font-size="13.90" text-anchor="middle" font-weight="bold" fill="#000">*</text>
<text x="187.20" y="158.20" font-size="13.90" text-anchor="middle" font-weight="bold" fill="#000">*</text>
<text x="194.30" y="158.20" font-size="13.90" text-anchor="middle" font-weight="bold" fill="#000">*</text>
<line x1="191.40" y1="170.60" x2="214.60" y2="170.60" stroke="#000" stroke-width="1.60"/>
<text x="203.00" y="168.60" font-size="10.60" text-anchor="middle" font-weight="bold" fill="#000">ns</text>
<line x1="191.00" y1="181.40" x2="204.00" y2="181.40" stroke="#000" stroke-width="1.60"/>
<text x="190.40" y="183.20" font-size="13.90" text-anchor="middle" font-weight="bold" fill="#000">*</text>
<text x="197.50" y="183.20" font-size="13.90" text-anchor="middle" font-weight="bold" fill="#000">*</text>
<text x="204.60" y="183.20" font-size="13.90" text-anchor="middle" font-weight="bold" fill="#000">*</text>
<line x1="224.00" y1="168.00" x2="247.40" y2="168.00" stroke="#000" stroke-width="1.60"/>
<text x="235.70" y="166.00" font-size="10.60" text-anchor="middle" font-weight="bold" fill="#000">ns</text>
<line x1="223.60" y1="178.00" x2="237.00" y2="178.00" stroke="#000" stroke-width="1.60"/>
<text x="223.20" y="179.80" font-size="13.90" text-anchor="middle" font-weight="bold" fill="#000">*</text>
<text x="230.30" y="179.80" font-size="13.90" text-anchor="middle" font-weight="bold" fill="#000">*</text>
<text x="237.40" y="179.80" font-size="13.90" text-anchor="middle" font-weight="bold" fill="#000">*</text>
<text x="132.00" y="266.30" font-size="11.00" text-anchor="middle" font-weight="bold" fill="#000">HK1</text>
<text x="214.40" y="266.30" font-size="11.00" text-anchor="middle" font-weight="bold" fill="#000">FaDu</text>
<text x="43.50" y="198.40" font-size="12.80" text-anchor="middle" font-weight="bold" fill="#000" transform="rotate(-90 43.5 198.4)">Relative migrated</text>
<text x="59.40" y="198.40" font-size="12.80" text-anchor="middle" font-weight="bold" fill="#000" transform="rotate(-90 59.4 198.4)">cells (%)</text>
<line x1="340.00" y1="155.90" x2="340.00" y2="248.60" stroke="#000" stroke-width="1.80"/>
<line x1="334.80" y1="248.00" x2="340.00" y2="248.00" stroke="#000" stroke-width="1.80"/>
<text x="332.80" y="251.46" font-size="9.60" text-anchor="end" font-weight="bold" fill="#000">0</text>
<line x1="334.80" y1="217.80" x2="340.00" y2="217.80" stroke="#000" stroke-width="1.80"/>
<text x="332.80" y="221.26" font-size="9.60" text-anchor="end" font-weight="bold" fill="#000">50</text>
<line x1="334.80" y1="187.10" x2="340.00" y2="187.10" stroke="#000" stroke-width="1.80"/>
<text x="332.80" y="190.56" font-size="9.60" text-anchor="end" font-weight="bold" fill="#000">100</text>
<line x1="334.80" y1="156.50" x2="340.00" y2="156.50" stroke="#000" stroke-width="1.80"/>
<text x="332.80" y="159.96" font-size="9.60" text-anchor="end" font-weight="bold" fill="#000">150</text>
<line x1="339.10" y1="248.00" x2="507.00" y2="248.00" stroke="#000" stroke-width="1.80"/>
<line x1="382.20" y1="248.00" x2="382.20" y2="253.00" stroke="#000" stroke-width="1.80"/>
<line x1="465.00" y1="248.00" x2="465.00" y2="253.00" stroke="#000" stroke-width="1.80"/>
<rect x="346.15" y="188.22" width="6.70" height="59.78" fill="#ffffff" stroke="#000" stroke-width="1.50"/>
<line x1="349.50" y1="188.22" x2="349.50" y2="187.00" stroke="#000" stroke-width="1.20"/>
<line x1="347.70" y1="187.00" x2="351.30" y2="187.00" stroke="#000" stroke-width="1.20"/>
<circle cx="347.90" cy="187.49" r="1.00" fill="none" stroke="#333" stroke-width="0.6"/>
<circle cx="349.50" cy="188.59" r="1.00" fill="none" stroke="#333" stroke-width="0.6"/>
<circle cx="351.10" cy="188.10" r="1.00" fill="none" stroke="#333" stroke-width="0.6"/>
<rect x="357.05" y="239.46" width="6.70" height="8.54" fill="#c8e0d4" stroke="#000" stroke-width="1.50"/>
<line x1="360.40" y1="239.46" x2="360.40" y2="238.85" stroke="#000" stroke-width="1.20"/>
<line x1="358.60" y1="238.85" x2="362.20" y2="238.85" stroke="#000" stroke-width="1.20"/>
<circle cx="358.80" cy="239.09" r="1.00" fill="none" stroke="#333" stroke-width="0.6"/>
<circle cx="360.40" cy="239.64" r="1.00" fill="none" stroke="#333" stroke-width="0.6"/>
<circle cx="362.00" cy="239.40" r="1.00" fill="none" stroke="#333" stroke-width="0.6"/>
<rect x="367.95" y="174.19" width="6.70" height="73.81" fill="#f4dcc0" stroke="#000" stroke-width="1.50"/>
<line x1="371.30" y1="174.19" x2="371.30" y2="172.97" stroke="#000" stroke-width="1.20"/>
<line x1="369.50" y1="172.97" x2="373.10" y2="172.97" stroke="#000" stroke-width="1.20"/>
<circle cx="369.70" cy="173.46" r="1.00" fill="none" stroke="#333" stroke-width="0.6"/>
<circle cx="371.30" cy="174.56" r="1.00" fill="none" stroke="#333" stroke-width="0.6"/>
<circle cx="372.90" cy="174.07" r="1.00" fill="none" stroke="#333" stroke-width="0.6"/>
<rect x="378.85" y="239.46" width="6.70" height="8.54" fill="#f0dcf0" stroke="#000" stroke-width="1.50"/>
<line x1="382.20" y1="239.46" x2="382.20" y2="238.85" stroke="#000" stroke-width="1.20"/>
<line x1="380.40" y1="238.85" x2="384.00" y2="238.85" stroke="#000" stroke-width="1.20"/>
<circle cx="380.60" cy="239.09" r="1.00" fill="none" stroke="#333" stroke-width="0.6"/>
<circle cx="382.20" cy="239.64" r="1.00" fill="none" stroke="#333" stroke-width="0.6"/>
<circle cx="383.80" cy="239.40" r="1.00" fill="none" stroke="#333" stroke-width="0.6"/>
<rect x="389.75" y="239.46" width="6.70" height="8.54" fill="#6a9c84" stroke="#000" stroke-width="1.50"/>
<line x1="393.10" y1="239.46" x2="393.10" y2="238.85" stroke="#000" stroke-width="1.20"/>
<line x1="391.30" y1="238.85" x2="394.90" y2="238.85" stroke="#000" stroke-width="1.20"/>
<circle cx="391.50" cy="239.09" r="1.00" fill="none" stroke="#333" stroke-width="0.6"/>
<circle cx="393.10" cy="239.64" r="1.00" fill="none" stroke="#333" stroke-width="0.6"/>
<circle cx="394.70" cy="239.40" r="1.00" fill="none" stroke="#333" stroke-width="0.6"/>
<rect x="400.65" y="171.14" width="6.70" height="76.86" fill="#e6b070" stroke="#000" stroke-width="1.50"/>
<line x1="404.00" y1="171.14" x2="404.00" y2="169.92" stroke="#000" stroke-width="1.20"/>
<line x1="402.20" y1="169.92" x2="405.80" y2="169.92" stroke="#000" stroke-width="1.20"/>
<circle cx="402.40" cy="170.41" r="1.00" fill="none" stroke="#333" stroke-width="0.6"/>
<circle cx="404.00" cy="171.51" r="1.00" fill="none" stroke="#333" stroke-width="0.6"/>
<circle cx="405.60" cy="171.02" r="1.00" fill="none" stroke="#333" stroke-width="0.6"/>
<rect x="411.55" y="238.85" width="6.70" height="9.15" fill="#d898cc" stroke="#000" stroke-width="1.50"/>
<line x1="414.90" y1="238.85" x2="414.90" y2="238.24" stroke="#000" stroke-width="1.20"/>
<line x1="413.10" y1="238.24" x2="416.70" y2="238.24" stroke="#000" stroke-width="1.20"/>
<circle cx="413.30" cy="238.48" r="1.00" fill="none" stroke="#333" stroke-width="0.6"/>
<circle cx="414.90" cy="239.03" r="1.00" fill="none" stroke="#333" stroke-width="0.6"/>
<circle cx="416.50" cy="238.79" r="1.00" fill="none" stroke="#333" stroke-width="0.6"/>
<rect x="428.95" y="187.61" width="6.70" height="60.39" fill="#ffffff" stroke="#000" stroke-width="1.50"/>
<line x1="432.30" y1="187.61" x2="432.30" y2="186.39" stroke="#000" stroke-width="1.20"/>
<line x1="430.50" y1="186.39" x2="434.10" y2="186.39" stroke="#000" stroke-width="1.20"/>
<circle cx="430.70" cy="186.88" r="1.00" fill="none" stroke="#333" stroke-width="0.6"/>
<circle cx="432.30" cy="187.98" r="1.00" fill="none" stroke="#333" stroke-width="0.6"/>
<circle cx="433.90" cy="187.49" r="1.00" fill="none" stroke="#333" stroke-width="0.6"/>
<rect x="439.85" y="239.46" width="6.70" height="8.54" fill="#c8e0d4" stroke="#000" stroke-width="1.50"/>
<line x1="443.20" y1="239.46" x2="443.20" y2="238.85" stroke="#000" stroke-width="1.20"/>
<line x1="441.40" y1="238.85" x2="445.00" y2="238.85" stroke="#000" stroke-width="1.20"/>
<circle cx="441.60" cy="239.09" r="1.00" fill="none" stroke="#333" stroke-width="0.6"/>
<circle cx="443.20" cy="239.64" r="1.00" fill="none" stroke="#333" stroke-width="0.6"/>
<circle cx="444.80" cy="239.40" r="1.00" fill="none" stroke="#333" stroke-width="0.6"/>
<rect x="450.75" y="191.27" width="6.70" height="56.73" fill="#f4dcc0" stroke="#000" stroke-width="1.50"/>
<line x1="454.10" y1="191.27" x2="454.10" y2="190.05" stroke="#000" stroke-width="1.20"/>
<line x1="452.30" y1="190.05" x2="455.90" y2="190.05" stroke="#000" stroke-width="1.20"/>
<circle cx="452.50" cy="190.54" r="1.00" fill="none" stroke="#333" stroke-width="0.6"/>
<circle cx="454.10" cy="191.64" r="1.00" fill="none" stroke="#333" stroke-width="0.6"/>
<circle cx="455.70" cy="191.15" r="1.00" fill="none" stroke="#333" stroke-width="0.6"/>
<rect x="461.65" y="239.46" width="6.70" height="8.54" fill="#f0dcf0" stroke="#000" stroke-width="1.50"/>
<line x1="465.00" y1="239.46" x2="465.00" y2="238.85" stroke="#000" stroke-width="1.20"/>
<line x1="463.20" y1="238.85" x2="466.80" y2="238.85" stroke="#000" stroke-width="1.20"/>
<circle cx="463.40" cy="239.09" r="1.00" fill="none" stroke="#333" stroke-width="0.6"/>
<circle cx="465.00" cy="239.64" r="1.00" fill="none" stroke="#333" stroke-width="0.6"/>
<circle cx="466.60" cy="239.40" r="1.00" fill="none" stroke="#333" stroke-width="0.6"/>
<rect x="472.55" y="240.07" width="6.70" height="7.93" fill="#6a9c84" stroke="#000" stroke-width="1.50"/>
<line x1="475.90" y1="240.07" x2="475.90" y2="239.46" stroke="#000" stroke-width="1.20"/>
<line x1="474.10" y1="239.46" x2="477.70" y2="239.46" stroke="#000" stroke-width="1.20"/>
<circle cx="474.30" cy="239.70" r="1.00" fill="none" stroke="#333" stroke-width="0.6"/>
<circle cx="475.90" cy="240.25" r="1.00" fill="none" stroke="#333" stroke-width="0.6"/>
<circle cx="477.50" cy="240.01" r="1.00" fill="none" stroke="#333" stroke-width="0.6"/>
<rect x="483.45" y="186.39" width="6.70" height="61.61" fill="#e6b070" stroke="#000" stroke-width="1.50"/>
<line x1="486.80" y1="186.39" x2="486.80" y2="182.73" stroke="#000" stroke-width="1.20"/>
<line x1="485.00" y1="182.73" x2="488.60" y2="182.73" stroke="#000" stroke-width="1.20"/>
<circle cx="485.20" cy="184.19" r="1.00" fill="none" stroke="#333" stroke-width="0.6"/>
<circle cx="486.80" cy="187.49" r="1.00" fill="none" stroke="#333" stroke-width="0.6"/>
<circle cx="488.40" cy="186.02" r="1.00" fill="none" stroke="#333" stroke-width="0.6"/>
<rect x="494.35" y="240.68" width="6.70" height="7.32" fill="#d898cc" stroke="#000" stroke-width="1.50"/>
<line x1="497.70" y1="240.68" x2="497.70" y2="240.07" stroke="#000" stroke-width="1.20"/>
<line x1="495.90" y1="240.07" x2="499.50" y2="240.07" stroke="#000" stroke-width="1.20"/>
<circle cx="496.10" cy="240.31" r="1.00" fill="none" stroke="#333" stroke-width="0.6"/>
<circle cx="497.70" cy="240.86" r="1.00" fill="none" stroke="#333" stroke-width="0.6"/>
<circle cx="499.30" cy="240.62" r="1.00" fill="none" stroke="#333" stroke-width="0.6"/>
<line x1="349.00" y1="135.60" x2="393.60" y2="135.60" stroke="#000" stroke-width="1.60"/>
<text x="364.20" y="137.40" font-size="13.90" text-anchor="middle" font-weight="bold" fill="#000">*</text>
<text x="371.30" y="137.40" font-size="13.90" text-anchor="middle" font-weight="bold" fill="#000">*</text>
<text x="378.40" y="137.40" font-size="13.90" text-anchor="middle" font-weight="bold" fill="#000">*</text>
<line x1="348.00" y1="146.00" x2="363.00" y2="146.00" stroke="#000" stroke-width="1.60"/>
<text x="348.40" y="147.80" font-size="13.90" text-anchor="middle" font-weight="bold" fill="#000">*</text>
<text x="355.50" y="147.80" font-size="13.90" text-anchor="middle" font-weight="bold" fill="#000">*</text>
<text x="362.60" y="147.80" font-size="13.90" text-anchor="middle" font-weight="bold" fill="#000">*</text>
<line x1="360.00" y1="160.00" x2="382.60" y2="160.00" stroke="#000" stroke-width="1.60"/>
<text x="371.30" y="158.00" font-size="10.60" text-anchor="middle" font-weight="bold" fill="#000">ns</text>
<line x1="359.40" y1="171.00" x2="373.00" y2="171.00" stroke="#000" stroke-width="1.60"/>
<text x="359.10" y="172.80" font-size="13.90" text-anchor="middle" font-weight="bold" fill="#000">*</text>
<text x="366.20" y="172.80" font-size="13.90" text-anchor="middle" font-weight="bold" fill="#000">*</text>
<text x="373.30" y="172.80" font-size="13.90" text-anchor="middle" font-weight="bold" fill="#000">*</text>
<line x1="392.40" y1="156.40" x2="416.00" y2="156.40" stroke="#000" stroke-width="1.60"/>
<text x="404.20" y="154.40" font-size="10.60" text-anchor="middle" font-weight="bold" fill="#000">ns</text>
<line x1="392.00" y1="167.00" x2="405.00" y2="167.00" stroke="#000" stroke-width="1.60"/>
<text x="391.40" y="168.80" font-size="13.90" text-anchor="middle" font-weight="bold" fill="#000">*</text>
<text x="398.50" y="168.80" font-size="13.90" text-anchor="middle" font-weight="bold" fill="#000">*</text>
<text x="405.60" y="168.80" font-size="13.90" text-anchor="middle" font-weight="bold" fill="#000">*</text>
<line x1="431.60" y1="150.40" x2="476.00" y2="150.40" stroke="#000" stroke-width="1.60"/>
<text x="446.70" y="152.20" font-size="13.90" text-anchor="middle" font-weight="bold" fill="#000">*</text>
<text x="453.80" y="152.20" font-size="13.90" text-anchor="middle" font-weight="bold" fill="#000">*</text>
<text x="460.90" y="152.20" font-size="13.90" text-anchor="middle" font-weight="bold" fill="#000">*</text>
<line x1="431.00" y1="161.40" x2="445.00" y2="161.40" stroke="#000" stroke-width="1.60"/>
<text x="430.90" y="163.20" font-size="13.90" text-anchor="middle" font-weight="bold" fill="#000">*</text>
<text x="438.00" y="163.20" font-size="13.90" text-anchor="middle" font-weight="bold" fill="#000">*</text>
<text x="445.10" y="163.20" font-size="13.90" text-anchor="middle" font-weight="bold" fill="#000">*</text>
<line x1="442.00" y1="175.60" x2="465.00" y2="175.60" stroke="#000" stroke-width="1.60"/>
<text x="453.50" y="173.60" font-size="10.60" text-anchor="middle" font-weight="bold" fill="#000">ns</text>
<line x1="441.60" y1="186.60" x2="455.00" y2="186.60" stroke="#000" stroke-width="1.60"/>
<text x="441.20" y="188.40" font-size="13.90" text-anchor="middle" font-weight="bold" fill="#000">*</text>
<text x="448.30" y="188.40" font-size="13.90" text-anchor="middle" font-weight="bold" fill="#000">*</text>
<text x="455.40" y="188.40" font-size="13.90" text-anchor="middle" font-weight="bold" fill="#000">*</text>
<line x1="475.00" y1="167.60" x2="498.00" y2="167.60" stroke="#000" stroke-width="1.60"/>
<text x="486.50" y="165.60" font-size="10.60" text-anchor="middle" font-weight="bold" fill="#000">ns</text>
<line x1="474.40" y1="178.00" x2="487.60" y2="178.00" stroke="#000" stroke-width="1.60"/>
<text x="473.90" y="179.80" font-size="13.90" text-anchor="middle" font-weight="bold" fill="#000">*</text>
<text x="481.00" y="179.80" font-size="13.90" text-anchor="middle" font-weight="bold" fill="#000">*</text>
<text x="488.10" y="179.80" font-size="13.90" text-anchor="middle" font-weight="bold" fill="#000">*</text>
<text x="382.20" y="266.30" font-size="11.00" text-anchor="middle" font-weight="bold" fill="#000">HK1</text>
<text x="465.00" y="266.30" font-size="11.00" text-anchor="middle" font-weight="bold" fill="#000">FaDu</text>
<text x="294.10" y="202.40" font-size="12.80" text-anchor="middle" font-weight="bold" fill="#000" transform="rotate(-90 294.1 202.4)">Relative invaded</text>
<text x="310.00" y="202.40" font-size="12.80" text-anchor="middle" font-weight="bold" fill="#000" transform="rotate(-90 310 202.4)">cells (%)</text>
<rect x="524.15" y="153.55" width="12.50" height="4.70" fill="#ffffff" stroke="#000" stroke-width="1.50"/>
<text x="546.50" y="159.90" font-size="11.10" text-anchor="start" font-weight="bold" fill="#000">KO-NC</text>
<rect x="524.15" y="167.17" width="12.50" height="4.70" fill="#c8e0d4" stroke="#000" stroke-width="1.50"/>
<text x="546.50" y="173.52" font-size="11.10" text-anchor="start" font-weight="bold" fill="#000">KO-#1+vector</text>
<rect x="524.15" y="180.79" width="12.50" height="4.70" fill="#f4dcc0" stroke="#000" stroke-width="1.50"/>
<text x="546.50" y="187.14" font-size="11.10" text-anchor="start" font-weight="bold" fill="#000">KO-#1+mt<tspan font-style="italic">IL1B</tspan></text>
<rect x="524.15" y="194.41" width="12.50" height="4.70" fill="#f0dcf0" stroke="#000" stroke-width="1.50"/>
<text x="546.50" y="200.76" font-size="11.10" text-anchor="start" font-weight="bold" fill="#000">KO-#1+IL-1β</text>
<rect x="524.15" y="208.03" width="12.50" height="4.70" fill="#6a9c84" stroke="#000" stroke-width="1.50"/>
<text x="546.50" y="214.38" font-size="11.10" text-anchor="start" font-weight="bold" fill="#000">KO-#2+vector</text>
<rect x="524.15" y="221.65" width="12.50" height="4.70" fill="#e6b070" stroke="#000" stroke-width="1.50"/>
<text x="546.50" y="228.00" font-size="11.10" text-anchor="start" font-weight="bold" fill="#000">KO-#2+mt<tspan font-style="italic">IL1B</tspan></text>
<rect x="524.15" y="235.27" width="12.50" height="4.70" fill="#d898cc" stroke="#000" stroke-width="1.50"/>
<text x="546.50" y="241.62" font-size="11.10" text-anchor="start" font-weight="bold" fill="#000">KO-#2+IL-1β</text>
<text x="6.00" y="278.00" font-size="20.00" text-anchor="start" font-weight="bold" fill="#000">C</text>
<line x1="38.00" y1="286.60" x2="38.00" y2="371.70" stroke="#000" stroke-width="1.70"/>
<line x1="33.50" y1="371.10" x2="38.00" y2="371.10" stroke="#000" stroke-width="1.70"/>
<text x="31.70" y="374.70" font-size="10.00" text-anchor="end" font-weight="bold" fill="#000">16</text>
<line x1="33.50" y1="354.32" x2="38.00" y2="354.32" stroke="#000" stroke-width="1.70"/>
<text x="31.70" y="357.92" font-size="10.00" text-anchor="end" font-weight="bold" fill="#000">18</text>
<line x1="33.50" y1="337.54" x2="38.00" y2="337.54" stroke="#000" stroke-width="1.70"/>
<text x="31.70" y="341.14" font-size="10.00" text-anchor="end" font-weight="bold" fill="#000">20</text>
<line x1="33.50" y1="320.76" x2="38.00" y2="320.76" stroke="#000" stroke-width="1.70"/>
<text x="31.70" y="324.36" font-size="10.00" text-anchor="end" font-weight="bold" fill="#000">22</text>
<line x1="33.50" y1="303.98" x2="38.00" y2="303.98" stroke="#000" stroke-width="1.70"/>
<text x="31.70" y="307.58" font-size="10.00" text-anchor="end" font-weight="bold" fill="#000">24</text>
<line x1="33.50" y1="287.20" x2="38.00" y2="287.20" stroke="#000" stroke-width="1.70"/>
<text x="31.70" y="290.80" font-size="10.00" text-anchor="end" font-weight="bold" fill="#000">26</text>
<line x1="37.30" y1="371.10" x2="159.90" y2="371.10" stroke="#000" stroke-width="1.70"/>
<line x1="38.00" y1="371.10" x2="38.00" y2="375.40" stroke="#000" stroke-width="1.40"/>
<line x1="58.20" y1="371.10" x2="58.20" y2="373.60" stroke="#000" stroke-width="1.40"/>
<line x1="78.40" y1="371.10" x2="78.40" y2="375.40" stroke="#000" stroke-width="1.40"/>
<line x1="98.60" y1="371.10" x2="98.60" y2="373.60" stroke="#000" stroke-width="1.40"/>
<line x1="118.80" y1="371.10" x2="118.80" y2="375.40" stroke="#000" stroke-width="1.40"/>
<line x1="139.00" y1="371.10" x2="139.00" y2="373.60" stroke="#000" stroke-width="1.40"/>
<line x1="159.20" y1="371.10" x2="159.20" y2="375.40" stroke="#000" stroke-width="1.40"/>
<text x="38.00" y="387.40" font-size="10.00" text-anchor="middle" font-weight="bold" fill="#000">0</text>
<text x="78.40" y="387.40" font-size="10.00" text-anchor="middle" font-weight="bold" fill="#000">2</text>
<text x="118.80" y="387.40" font-size="10.00" text-anchor="middle" font-weight="bold" fill="#000">4</text>
<text x="159.20" y="387.40" font-size="10.00" text-anchor="middle" font-weight="bold" fill="#000">6</text>
<text x="167.50" y="387.40" font-size="10.40" text-anchor="start" font-weight="bold" fill="#000">Week</text>
<text x="99.00" y="290.00" font-size="11.30" text-anchor="middle" font-weight="bold" fill="#000">HK1</text>
<line x1="38.00" y1="349.29" x2="38.00" y2="359.35" stroke="#111111" stroke-width="1.20"/>
<line x1="35.80" y1="349.29" x2="40.20" y2="349.29" stroke="#111111" stroke-width="1.20"/>
<line x1="35.80" y1="359.35" x2="40.20" y2="359.35" stroke="#111111" stroke-width="1.20"/>
<line x1="58.20" y1="333.35" x2="58.20" y2="345.09" stroke="#111111" stroke-width="1.20"/>
<line x1="56.00" y1="333.35" x2="60.40" y2="333.35" stroke="#111111" stroke-width="1.20"/>
<line x1="56.00" y1="345.09" x2="60.40" y2="345.09" stroke="#111111" stroke-width="1.20"/>
<line x1="78.40" y1="314.89" x2="78.40" y2="321.60" stroke="#111111" stroke-width="1.20"/>
<line x1="76.20" y1="314.89" x2="80.60" y2="314.89" stroke="#111111" stroke-width="1.20"/>
<line x1="76.20" y1="321.60" x2="80.60" y2="321.60" stroke="#111111" stroke-width="1.20"/>
<line x1="98.60" y1="312.37" x2="98.60" y2="325.79" stroke="#111111" stroke-width="1.20"/>
<line x1="96.40" y1="312.37" x2="100.80" y2="312.37" stroke="#111111" stroke-width="1.20"/>
<line x1="96.40" y1="325.79" x2="100.80" y2="325.79" stroke="#111111" stroke-width="1.20"/>
<line x1="118.80" y1="308.18" x2="118.80" y2="323.28" stroke="#111111" stroke-width="1.20"/>
<line x1="116.60" y1="308.18" x2="121.00" y2="308.18" stroke="#111111" stroke-width="1.20"/>
<line x1="116.60" y1="323.28" x2="121.00" y2="323.28" stroke="#111111" stroke-width="1.20"/>
<line x1="139.00" y1="304.82" x2="139.00" y2="321.60" stroke="#111111" stroke-width="1.20"/>
<line x1="136.80" y1="304.82" x2="141.20" y2="304.82" stroke="#111111" stroke-width="1.20"/>
<line x1="136.80" y1="321.60" x2="141.20" y2="321.60" stroke="#111111" stroke-width="1.20"/>
<polyline points="38.00,354.32 58.20,339.22 78.40,318.24 98.60,319.08 118.80,315.73 139.00,313.21" fill="none" stroke="#111111" stroke-width="1.60"/>
<circle cx="38.00" cy="354.32" r="2.60" fill="#111111"/>
<circle cx="58.20" cy="339.22" r="2.60" fill="#111111"/>
<circle cx="78.40" cy="318.24" r="2.60" fill="#111111"/>
<circle cx="98.60" cy="319.08" r="2.60" fill="#111111"/>
<circle cx="118.80" cy="315.73" r="2.60" fill="#111111"/>
<circle cx="139.00" cy="313.21" r="2.60" fill="#111111"/>
<line x1="38.00" y1="344.25" x2="38.00" y2="361.03" stroke="#e8a29c" stroke-width="1.20"/>
<line x1="35.80" y1="344.25" x2="40.20" y2="344.25" stroke="#e8a29c" stroke-width="1.20"/>
<line x1="35.80" y1="361.03" x2="40.20" y2="361.03" stroke="#e8a29c" stroke-width="1.20"/>
<line x1="58.20" y1="329.15" x2="58.20" y2="349.29" stroke="#e8a29c" stroke-width="1.20"/>
<line x1="56.00" y1="329.15" x2="60.40" y2="329.15" stroke="#e8a29c" stroke-width="1.20"/>
<line x1="56.00" y1="349.29" x2="60.40" y2="349.29" stroke="#e8a29c" stroke-width="1.20"/>
<line x1="78.40" y1="310.69" x2="78.40" y2="335.86" stroke="#e8a29c" stroke-width="1.20"/>
<line x1="76.20" y1="310.69" x2="80.60" y2="310.69" stroke="#e8a29c" stroke-width="1.20"/>
<line x1="76.20" y1="335.86" x2="80.60" y2="335.86" stroke="#e8a29c" stroke-width="1.20"/>
<line x1="98.60" y1="319.08" x2="98.60" y2="339.22" stroke="#e8a29c" stroke-width="1.20"/>
<line x1="96.40" y1="319.08" x2="100.80" y2="319.08" stroke="#e8a29c" stroke-width="1.20"/>
<line x1="96.40" y1="339.22" x2="100.80" y2="339.22" stroke="#e8a29c" stroke-width="1.20"/>
<line x1="118.80" y1="319.08" x2="118.80" y2="334.18" stroke="#e8a29c" stroke-width="1.20"/>
<line x1="116.60" y1="319.08" x2="121.00" y2="319.08" stroke="#e8a29c" stroke-width="1.20"/>
<line x1="116.60" y1="334.18" x2="121.00" y2="334.18" stroke="#e8a29c" stroke-width="1.20"/>
<line x1="139.00" y1="326.63" x2="139.00" y2="343.41" stroke="#e8a29c" stroke-width="1.20"/>
<line x1="136.80" y1="326.63" x2="141.20" y2="326.63" stroke="#e8a29c" stroke-width="1.20"/>
<line x1="136.80" y1="343.41" x2="141.20" y2="343.41" stroke="#e8a29c" stroke-width="1.20"/>
<polyline points="38.00,352.64 58.20,339.22 78.40,323.28 98.60,329.15 118.80,326.63 139.00,335.02" fill="none" stroke="#e8a29c" stroke-width="1.80"/>
<rect x="35.40" y="350.04" width="5.20" height="5.20" fill="#e8a29c"/>
<rect x="55.60" y="336.62" width="5.20" height="5.20" fill="#e8a29c"/>
<rect x="75.80" y="320.68" width="5.20" height="5.20" fill="#e8a29c"/>
<rect x="96.00" y="326.55" width="5.20" height="5.20" fill="#e8a29c"/>
<rect x="116.20" y="324.03" width="5.20" height="5.20" fill="#e8a29c"/>
<rect x="136.40" y="332.42" width="5.20" height="5.20" fill="#e8a29c"/>
<line x1="38.00" y1="349.29" x2="38.00" y2="362.71" stroke="#c4676c" stroke-width="1.20"/>
<line x1="35.80" y1="349.29" x2="40.20" y2="349.29" stroke="#c4676c" stroke-width="1.20"/>
<line x1="35.80" y1="362.71" x2="40.20" y2="362.71" stroke="#c4676c" stroke-width="1.20"/>
<line x1="58.20" y1="335.02" x2="58.20" y2="348.45" stroke="#c4676c" stroke-width="1.20"/>
<line x1="56.00" y1="335.02" x2="60.40" y2="335.02" stroke="#c4676c" stroke-width="1.20"/>
<line x1="56.00" y1="348.45" x2="60.40" y2="348.45" stroke="#c4676c" stroke-width="1.20"/>
<line x1="78.40" y1="318.24" x2="78.40" y2="333.35" stroke="#c4676c" stroke-width="1.20"/>
<line x1="76.20" y1="318.24" x2="80.60" y2="318.24" stroke="#c4676c" stroke-width="1.20"/>
<line x1="76.20" y1="333.35" x2="80.60" y2="333.35" stroke="#c4676c" stroke-width="1.20"/>
<line x1="98.60" y1="318.24" x2="98.60" y2="331.67" stroke="#c4676c" stroke-width="1.20"/>
<line x1="96.40" y1="318.24" x2="100.80" y2="318.24" stroke="#c4676c" stroke-width="1.20"/>
<line x1="96.40" y1="331.67" x2="100.80" y2="331.67" stroke="#c4676c" stroke-width="1.20"/>
<line x1="118.80" y1="324.96" x2="118.80" y2="333.35" stroke="#c4676c" stroke-width="1.20"/>
<line x1="116.60" y1="324.96" x2="121.00" y2="324.96" stroke="#c4676c" stroke-width="1.20"/>
<line x1="116.60" y1="333.35" x2="121.00" y2="333.35" stroke="#c4676c" stroke-width="1.20"/>
<line x1="139.00" y1="327.47" x2="139.00" y2="345.93" stroke="#c4676c" stroke-width="1.20"/>
<line x1="136.80" y1="327.47" x2="141.20" y2="327.47" stroke="#c4676c" stroke-width="1.20"/>
<line x1="136.80" y1="345.93" x2="141.20" y2="345.93" stroke="#c4676c" stroke-width="1.20"/>
<polyline points="38.00,356.00 58.20,341.74 78.40,325.79 98.60,324.96 118.80,329.15 139.00,336.70" fill="none" stroke="#c4676c" stroke-width="1.80"/>
<path d="M38.00 352.94L35.01 358.07L40.99 358.07Z" fill="#c4676c"/>
<path d="M58.20 338.67L55.21 343.81L61.19 343.81Z" fill="#c4676c"/>
<path d="M78.40 322.73L75.41 327.87L81.39 327.87Z" fill="#c4676c"/>
<path d="M98.60 321.89L95.61 327.03L101.59 327.03Z" fill="#c4676c"/>
<path d="M118.80 326.09L115.81 331.22L121.79 331.22Z" fill="#c4676c"/>
<path d="M139.00 333.64L136.01 338.78L141.99 338.78Z" fill="#c4676c"/>
<text x="15.90" y="328.90" font-size="12.20" text-anchor="middle" font-weight="bold" fill="#000" transform="rotate(-90 15.9 328.9)">Weight (g)</text>
<line x1="146.30" y1="309.30" x2="146.30" y2="333.30" stroke="#000" stroke-width="1.60"/>
<text x="151.90" y="325.08" font-size="13.0" text-anchor="middle" font-weight="bold" transform="rotate(90 151.90 318.45)">*</text>
<text x="151.90" y="331.68" font-size="13.0" text-anchor="middle" font-weight="bold" transform="rotate(90 151.90 325.05)">*</text>
<line x1="157.40" y1="309.30" x2="157.40" y2="341.50" stroke="#000" stroke-width="1.60"/>
<text x="164.20" y="324.53" font-size="13.0" text-anchor="middle" font-weight="bold" transform="rotate(90 164.20 317.90)">*</text>
<text x="164.20" y="331.13" font-size="13.0" text-anchor="middle" font-weight="bold" transform="rotate(90 164.20 324.50)">*</text>
<text x="164.20" y="337.73" font-size="13.0" text-anchor="middle" font-weight="bold" transform="rotate(90 164.20 331.10)">*</text>
<line x1="171.70" y1="308.00" x2="182.50" y2="308.00" stroke="#111111" stroke-width="1.60"/>
<circle cx="177.10" cy="308.00" r="2.60" fill="#111111"/>
<text x="192.00" y="311.60" font-size="10.30" text-anchor="start" font-weight="bold" fill="#000">vector</text>
<line x1="171.70" y1="322.50" x2="182.50" y2="322.50" stroke="#e8a29c" stroke-width="1.60"/>
<rect x="174.50" y="319.90" width="5.20" height="5.20" fill="#e8a29c"/>
<text x="192.00" y="326.10" font-size="10.30" text-anchor="start" font-weight="bold" fill="#000">wt<tspan font-style="italic">IL1B</tspan></text>
<line x1="171.70" y1="337.00" x2="182.50" y2="337.00" stroke="#c4676c" stroke-width="1.60"/>
<path d="M177.10 333.94L174.11 339.07L180.09 339.07Z" fill="#c4676c"/>
<text x="192.00" y="340.60" font-size="10.30" text-anchor="start" font-weight="bold" fill="#000">mt<tspan font-style="italic">IL1B</tspan></text>
<line x1="272.60" y1="288.15" x2="272.60" y2="372.30" stroke="#000" stroke-width="1.70"/>
<line x1="268.10" y1="371.70" x2="272.60" y2="371.70" stroke="#000" stroke-width="1.70"/>
<text x="266.30" y="375.30" font-size="10.00" text-anchor="end" font-weight="bold" fill="#000">15</text>
<line x1="268.10" y1="344.05" x2="272.60" y2="344.05" stroke="#000" stroke-width="1.70"/>
<text x="266.30" y="347.65" font-size="10.00" text-anchor="end" font-weight="bold" fill="#000">20</text>
<line x1="268.10" y1="316.40" x2="272.60" y2="316.40" stroke="#000" stroke-width="1.70"/>
<text x="266.30" y="320.00" font-size="10.00" text-anchor="end" font-weight="bold" fill="#000">25</text>
<line x1="268.10" y1="288.75" x2="272.60" y2="288.75" stroke="#000" stroke-width="1.70"/>
<text x="266.30" y="292.35" font-size="10.00" text-anchor="end" font-weight="bold" fill="#000">30</text>
<line x1="271.90" y1="371.70" x2="393.72" y2="371.70" stroke="#000" stroke-width="1.70"/>
<line x1="272.60" y1="371.70" x2="272.60" y2="376.00" stroke="#000" stroke-width="1.40"/>
<line x1="292.67" y1="371.70" x2="292.67" y2="374.20" stroke="#000" stroke-width="1.40"/>
<line x1="312.74" y1="371.70" x2="312.74" y2="376.00" stroke="#000" stroke-width="1.40"/>
<line x1="332.81" y1="371.70" x2="332.81" y2="374.20" stroke="#000" stroke-width="1.40"/>
<line x1="352.88" y1="371.70" x2="352.88" y2="376.00" stroke="#000" stroke-width="1.40"/>
<line x1="372.95" y1="371.70" x2="372.95" y2="374.20" stroke="#000" stroke-width="1.40"/>
<line x1="393.02" y1="371.70" x2="393.02" y2="376.00" stroke="#000" stroke-width="1.40"/>
<text x="272.60" y="388.00" font-size="10.00" text-anchor="middle" font-weight="bold" fill="#000">0</text>
<text x="312.74" y="388.00" font-size="10.00" text-anchor="middle" font-weight="bold" fill="#000">2</text>
<text x="352.88" y="388.00" font-size="10.00" text-anchor="middle" font-weight="bold" fill="#000">4</text>
<text x="393.02" y="388.00" font-size="10.00" text-anchor="middle" font-weight="bold" fill="#000">6</text>
<text x="399.60" y="388.00" font-size="10.40" text-anchor="start" font-weight="bold" fill="#000">Week</text>
<text x="331.80" y="289.00" font-size="11.30" text-anchor="middle" font-weight="bold" fill="#000">HK1</text>
<line x1="272.60" y1="351.24" x2="272.60" y2="360.09" stroke="#111111" stroke-width="1.20"/>
<line x1="270.40" y1="351.24" x2="274.80" y2="351.24" stroke="#111111" stroke-width="1.20"/>
<line x1="270.40" y1="360.09" x2="274.80" y2="360.09" stroke="#111111" stroke-width="1.20"/>
<line x1="292.67" y1="344.05" x2="292.67" y2="352.90" stroke="#111111" stroke-width="1.20"/>
<line x1="290.47" y1="344.05" x2="294.87" y2="344.05" stroke="#111111" stroke-width="1.20"/>
<line x1="290.47" y1="352.90" x2="294.87" y2="352.90" stroke="#111111" stroke-width="1.20"/>
<line x1="312.74" y1="332.99" x2="312.74" y2="346.26" stroke="#111111" stroke-width="1.20"/>
<line x1="310.54" y1="332.99" x2="314.94" y2="332.99" stroke="#111111" stroke-width="1.20"/>
<line x1="310.54" y1="346.26" x2="314.94" y2="346.26" stroke="#111111" stroke-width="1.20"/>
<line x1="332.81" y1="332.99" x2="332.81" y2="344.05" stroke="#111111" stroke-width="1.20"/>
<line x1="330.61" y1="332.99" x2="335.01" y2="332.99" stroke="#111111" stroke-width="1.20"/>
<line x1="330.61" y1="344.05" x2="335.01" y2="344.05" stroke="#111111" stroke-width="1.20"/>
<line x1="352.88" y1="329.67" x2="352.88" y2="340.73" stroke="#111111" stroke-width="1.20"/>
<line x1="350.68" y1="329.67" x2="355.08" y2="329.67" stroke="#111111" stroke-width="1.20"/>
<line x1="350.68" y1="340.73" x2="355.08" y2="340.73" stroke="#111111" stroke-width="1.20"/>
<line x1="372.95" y1="327.46" x2="372.95" y2="347.37" stroke="#111111" stroke-width="1.20"/>
<line x1="370.75" y1="327.46" x2="375.15" y2="327.46" stroke="#111111" stroke-width="1.20"/>
<line x1="370.75" y1="347.37" x2="375.15" y2="347.37" stroke="#111111" stroke-width="1.20"/>
<polyline points="272.60,355.66 292.67,348.47 312.74,339.63 332.81,338.52 352.88,335.20 372.95,337.41" fill="none" stroke="#111111" stroke-width="1.60"/>
<circle cx="272.60" cy="355.66" r="2.60" fill="#111111"/>
<circle cx="292.67" cy="348.47" r="2.60" fill="#111111"/>
<circle cx="312.74" cy="339.63" r="2.60" fill="#111111"/>
<circle cx="332.81" cy="338.52" r="2.60" fill="#111111"/>
<circle cx="352.88" cy="335.20" r="2.60" fill="#111111"/>
<circle cx="372.95" cy="337.41" r="2.60" fill="#111111"/>
<line x1="272.60" y1="353.45" x2="272.60" y2="364.51" stroke="#99c5e6" stroke-width="1.20"/>
<line x1="270.40" y1="353.45" x2="274.80" y2="353.45" stroke="#99c5e6" stroke-width="1.20"/>
<line x1="270.40" y1="364.51" x2="274.80" y2="364.51" stroke="#99c5e6" stroke-width="1.20"/>
<line x1="292.67" y1="344.05" x2="292.67" y2="360.64" stroke="#99c5e6" stroke-width="1.20"/>
<line x1="290.47" y1="344.05" x2="294.87" y2="344.05" stroke="#99c5e6" stroke-width="1.20"/>
<line x1="290.47" y1="360.64" x2="294.87" y2="360.64" stroke="#99c5e6" stroke-width="1.20"/>
<line x1="312.74" y1="330.22" x2="312.74" y2="346.81" stroke="#99c5e6" stroke-width="1.20"/>
<line x1="310.54" y1="330.22" x2="314.94" y2="330.22" stroke="#99c5e6" stroke-width="1.20"/>
<line x1="310.54" y1="346.81" x2="314.94" y2="346.81" stroke="#99c5e6" stroke-width="1.20"/>
<line x1="332.81" y1="328.57" x2="332.81" y2="345.16" stroke="#99c5e6" stroke-width="1.20"/>
<line x1="330.61" y1="328.57" x2="335.01" y2="328.57" stroke="#99c5e6" stroke-width="1.20"/>
<line x1="330.61" y1="345.16" x2="335.01" y2="345.16" stroke="#99c5e6" stroke-width="1.20"/>
<line x1="352.88" y1="319.72" x2="352.88" y2="336.31" stroke="#99c5e6" stroke-width="1.20"/>
<line x1="350.68" y1="319.72" x2="355.08" y2="319.72" stroke="#99c5e6" stroke-width="1.20"/>
<line x1="350.68" y1="336.31" x2="355.08" y2="336.31" stroke="#99c5e6" stroke-width="1.20"/>
<line x1="372.95" y1="307.55" x2="372.95" y2="336.31" stroke="#99c5e6" stroke-width="1.20"/>
<line x1="370.75" y1="307.55" x2="375.15" y2="307.55" stroke="#99c5e6" stroke-width="1.20"/>
<line x1="370.75" y1="336.31" x2="375.15" y2="336.31" stroke="#99c5e6" stroke-width="1.20"/>
<polyline points="272.60,358.98 292.67,352.34 312.74,338.52 332.81,336.86 352.88,328.01 372.95,321.93" fill="none" stroke="#99c5e6" stroke-width="1.80"/>
<rect x="270.00" y="356.38" width="5.20" height="5.20" fill="#99c5e6"/>
<rect x="290.07" y="349.74" width="5.20" height="5.20" fill="#99c5e6"/>
<rect x="310.14" y="335.92" width="5.20" height="5.20" fill="#99c5e6"/>
<rect x="330.21" y="334.26" width="5.20" height="5.20" fill="#99c5e6"/>
<rect x="350.28" y="325.41" width="5.20" height="5.20" fill="#99c5e6"/>
<rect x="370.35" y="319.33" width="5.20" height="5.20" fill="#99c5e6"/>
<line x1="272.60" y1="351.79" x2="272.60" y2="362.85" stroke="#4a80b3" stroke-width="1.20"/>
<line x1="270.40" y1="351.79" x2="274.80" y2="351.79" stroke="#4a80b3" stroke-width="1.20"/>
<line x1="270.40" y1="362.85" x2="274.80" y2="362.85" stroke="#4a80b3" stroke-width="1.20"/>
<line x1="292.67" y1="344.05" x2="292.67" y2="355.11" stroke="#4a80b3" stroke-width="1.20"/>
<line x1="290.47" y1="344.05" x2="294.87" y2="344.05" stroke="#4a80b3" stroke-width="1.20"/>
<line x1="290.47" y1="355.11" x2="294.87" y2="355.11" stroke="#4a80b3" stroke-width="1.20"/>
<line x1="312.74" y1="330.22" x2="312.74" y2="346.81" stroke="#4a80b3" stroke-width="1.20"/>
<line x1="310.54" y1="330.22" x2="314.94" y2="330.22" stroke="#4a80b3" stroke-width="1.20"/>
<line x1="310.54" y1="346.81" x2="314.94" y2="346.81" stroke="#4a80b3" stroke-width="1.20"/>
<line x1="332.81" y1="327.46" x2="332.81" y2="340.73" stroke="#4a80b3" stroke-width="1.20"/>
<line x1="330.61" y1="327.46" x2="335.01" y2="327.46" stroke="#4a80b3" stroke-width="1.20"/>
<line x1="330.61" y1="340.73" x2="335.01" y2="340.73" stroke="#4a80b3" stroke-width="1.20"/>
<line x1="352.88" y1="318.61" x2="352.88" y2="335.20" stroke="#4a80b3" stroke-width="1.20"/>
<line x1="350.68" y1="318.61" x2="355.08" y2="318.61" stroke="#4a80b3" stroke-width="1.20"/>
<line x1="350.68" y1="335.20" x2="355.08" y2="335.20" stroke="#4a80b3" stroke-width="1.20"/>
<line x1="372.95" y1="309.76" x2="372.95" y2="329.67" stroke="#4a80b3" stroke-width="1.20"/>
<line x1="370.75" y1="309.76" x2="375.15" y2="309.76" stroke="#4a80b3" stroke-width="1.20"/>
<line x1="370.75" y1="329.67" x2="375.15" y2="329.67" stroke="#4a80b3" stroke-width="1.20"/>
<polyline points="272.60,357.32 292.67,349.58 312.74,338.52 332.81,334.10 352.88,326.91 372.95,319.72" fill="none" stroke="#4a80b3" stroke-width="1.80"/>
<path d="M272.60 354.26L269.61 359.40L275.59 359.40Z" fill="#4a80b3"/>
<path d="M292.67 346.52L289.68 351.65L295.66 351.65Z" fill="#4a80b3"/>
<path d="M312.74 335.46L309.75 340.59L315.73 340.59Z" fill="#4a80b3"/>
<path d="M332.81 331.03L329.82 336.17L335.80 336.17Z" fill="#4a80b3"/>
<path d="M352.88 323.84L349.89 328.98L355.87 328.98Z" fill="#4a80b3"/>
<path d="M372.95 316.66L369.96 321.79L375.94 321.79Z" fill="#4a80b3"/>
<text x="250.20" y="330.10" font-size="12.20" text-anchor="middle" font-weight="bold" fill="#000" transform="rotate(-90 250.2 330.1)">Weight (g)</text>
<line x1="381.50" y1="322.30" x2="381.50" y2="340.30" stroke="#000" stroke-width="1.60"/>
<text x="387.10" y="338.13" font-size="13.0" text-anchor="middle" font-weight="bold" transform="rotate(90 387.10 331.50)">*</text>
<line x1="393.10" y1="317.50" x2="393.10" y2="340.30" stroke="#000" stroke-width="1.60"/>
<text x="402.50" y="332.03" font-size="13.0" text-anchor="middle" font-weight="bold" transform="rotate(90 402.50 325.40)">*</text>
<text x="402.50" y="338.63" font-size="13.0" text-anchor="middle" font-weight="bold" transform="rotate(90 402.50 332.00)">*</text>
<line x1="449.90" y1="288.75" x2="449.90" y2="372.30" stroke="#000" stroke-width="1.70"/>
<line x1="445.40" y1="371.70" x2="449.90" y2="371.70" stroke="#000" stroke-width="1.70"/>
<text x="443.60" y="375.30" font-size="10.00" text-anchor="end" font-weight="bold" fill="#000">15</text>
<line x1="445.40" y1="344.25" x2="449.90" y2="344.25" stroke="#000" stroke-width="1.70"/>
<text x="443.60" y="347.85" font-size="10.00" text-anchor="end" font-weight="bold" fill="#000">20</text>
<line x1="445.40" y1="316.80" x2="449.90" y2="316.80" stroke="#000" stroke-width="1.70"/>
<text x="443.60" y="320.40" font-size="10.00" text-anchor="end" font-weight="bold" fill="#000">25</text>
<line x1="445.40" y1="289.35" x2="449.90" y2="289.35" stroke="#000" stroke-width="1.70"/>
<text x="443.60" y="292.95" font-size="10.00" text-anchor="end" font-weight="bold" fill="#000">30</text>
<line x1="449.20" y1="371.70" x2="572.70" y2="371.70" stroke="#000" stroke-width="1.70"/>
<line x1="449.90" y1="371.70" x2="449.90" y2="376.00" stroke="#000" stroke-width="1.40"/>
<line x1="470.25" y1="371.70" x2="470.25" y2="374.20" stroke="#000" stroke-width="1.40"/>
<line x1="490.60" y1="371.70" x2="490.60" y2="376.00" stroke="#000" stroke-width="1.40"/>
<line x1="510.95" y1="371.70" x2="510.95" y2="374.20" stroke="#000" stroke-width="1.40"/>
<line x1="531.30" y1="371.70" x2="531.30" y2="376.00" stroke="#000" stroke-width="1.40"/>
<line x1="551.65" y1="371.70" x2="551.65" y2="374.20" stroke="#000" stroke-width="1.40"/>
<line x1="572.00" y1="371.70" x2="572.00" y2="376.00" stroke="#000" stroke-width="1.40"/>
<text x="449.90" y="388.00" font-size="10.00" text-anchor="middle" font-weight="bold" fill="#000">0</text>
<text x="490.60" y="388.00" font-size="10.00" text-anchor="middle" font-weight="bold" fill="#000">2</text>
<text x="531.30" y="388.00" font-size="10.00" text-anchor="middle" font-weight="bold" fill="#000">4</text>
<text x="572.00" y="388.00" font-size="10.00" text-anchor="middle" font-weight="bold" fill="#000">6</text>
<text x="579.00" y="388.00" font-size="10.40" text-anchor="start" font-weight="bold" fill="#000">Week</text>
<text x="511.00" y="290.50" font-size="11.30" text-anchor="middle" font-weight="bold" fill="#000">FaDu</text>
<line x1="449.90" y1="351.94" x2="449.90" y2="360.72" stroke="#111111" stroke-width="1.20"/>
<line x1="447.70" y1="351.94" x2="452.10" y2="351.94" stroke="#111111" stroke-width="1.20"/>
<line x1="447.70" y1="360.72" x2="452.10" y2="360.72" stroke="#111111" stroke-width="1.20"/>
<line x1="470.25" y1="345.35" x2="470.25" y2="356.33" stroke="#111111" stroke-width="1.20"/>
<line x1="468.05" y1="345.35" x2="472.45" y2="345.35" stroke="#111111" stroke-width="1.20"/>
<line x1="468.05" y1="356.33" x2="472.45" y2="356.33" stroke="#111111" stroke-width="1.20"/>
<line x1="490.60" y1="326.68" x2="490.60" y2="335.47" stroke="#111111" stroke-width="1.20"/>
<line x1="488.40" y1="326.68" x2="492.80" y2="326.68" stroke="#111111" stroke-width="1.20"/>
<line x1="488.40" y1="335.47" x2="492.80" y2="335.47" stroke="#111111" stroke-width="1.20"/>
<line x1="510.95" y1="327.78" x2="510.95" y2="344.25" stroke="#111111" stroke-width="1.20"/>
<line x1="508.75" y1="327.78" x2="513.15" y2="327.78" stroke="#111111" stroke-width="1.20"/>
<line x1="508.75" y1="344.25" x2="513.15" y2="344.25" stroke="#111111" stroke-width="1.20"/>
<line x1="531.30" y1="320.09" x2="531.30" y2="353.03" stroke="#111111" stroke-width="1.20"/>
<line x1="529.10" y1="320.09" x2="533.50" y2="320.09" stroke="#111111" stroke-width="1.20"/>
<line x1="529.10" y1="353.03" x2="533.50" y2="353.03" stroke="#111111" stroke-width="1.20"/>
<line x1="551.65" y1="319.54" x2="551.65" y2="347.00" stroke="#111111" stroke-width="1.20"/>
<line x1="549.45" y1="319.54" x2="553.85" y2="319.54" stroke="#111111" stroke-width="1.20"/>
<line x1="549.45" y1="347.00" x2="553.85" y2="347.00" stroke="#111111" stroke-width="1.20"/>
<polyline points="449.90,356.33 470.25,350.84 490.60,331.07 510.95,336.01 531.30,336.56 551.65,333.27" fill="none" stroke="#111111" stroke-width="1.60"/>
<circle cx="449.90" cy="356.33" r="2.60" fill="#111111"/>
<circle cx="470.25" cy="350.84" r="2.60" fill="#111111"/>
<circle cx="490.60" cy="331.07" r="2.60" fill="#111111"/>
<circle cx="510.95" cy="336.01" r="2.60" fill="#111111"/>
<circle cx="531.30" cy="336.56" r="2.60" fill="#111111"/>
<circle cx="551.65" cy="333.27" r="2.60" fill="#111111"/>
<line x1="449.90" y1="356.33" x2="449.90" y2="365.11" stroke="#99c5e6" stroke-width="1.20"/>
<line x1="447.70" y1="356.33" x2="452.10" y2="356.33" stroke="#99c5e6" stroke-width="1.20"/>
<line x1="447.70" y1="365.11" x2="452.10" y2="365.11" stroke="#99c5e6" stroke-width="1.20"/>
<line x1="470.25" y1="342.60" x2="470.25" y2="351.39" stroke="#99c5e6" stroke-width="1.20"/>
<line x1="468.05" y1="342.60" x2="472.45" y2="342.60" stroke="#99c5e6" stroke-width="1.20"/>
<line x1="468.05" y1="351.39" x2="472.45" y2="351.39" stroke="#99c5e6" stroke-width="1.20"/>
<line x1="490.60" y1="323.39" x2="490.60" y2="334.37" stroke="#99c5e6" stroke-width="1.20"/>
<line x1="488.40" y1="323.39" x2="492.80" y2="323.39" stroke="#99c5e6" stroke-width="1.20"/>
<line x1="488.40" y1="334.37" x2="492.80" y2="334.37" stroke="#99c5e6" stroke-width="1.20"/>
<line x1="510.95" y1="323.94" x2="510.95" y2="334.92" stroke="#99c5e6" stroke-width="1.20"/>
<line x1="508.75" y1="323.94" x2="513.15" y2="323.94" stroke="#99c5e6" stroke-width="1.20"/>
<line x1="508.75" y1="334.92" x2="513.15" y2="334.92" stroke="#99c5e6" stroke-width="1.20"/>
<line x1="531.30" y1="317.90" x2="531.30" y2="328.88" stroke="#99c5e6" stroke-width="1.20"/>
<line x1="529.10" y1="317.90" x2="533.50" y2="317.90" stroke="#99c5e6" stroke-width="1.20"/>
<line x1="529.10" y1="328.88" x2="533.50" y2="328.88" stroke="#99c5e6" stroke-width="1.20"/>
<line x1="551.65" y1="312.41" x2="551.65" y2="323.39" stroke="#99c5e6" stroke-width="1.20"/>
<line x1="549.45" y1="312.41" x2="553.85" y2="312.41" stroke="#99c5e6" stroke-width="1.20"/>
<line x1="549.45" y1="323.39" x2="553.85" y2="323.39" stroke="#99c5e6" stroke-width="1.20"/>
<polyline points="449.90,360.72 470.25,347.00 490.60,328.88 510.95,329.43 531.30,323.39 551.65,317.90" fill="none" stroke="#99c5e6" stroke-width="1.80"/>
<rect x="447.30" y="358.12" width="5.20" height="5.20" fill="#99c5e6"/>
<rect x="467.65" y="344.39" width="5.20" height="5.20" fill="#99c5e6"/>
<rect x="488.00" y="326.28" width="5.20" height="5.20" fill="#99c5e6"/>
<rect x="508.35" y="326.83" width="5.20" height="5.20" fill="#99c5e6"/>
<rect x="528.70" y="320.79" width="5.20" height="5.20" fill="#99c5e6"/>
<rect x="549.05" y="315.30" width="5.20" height="5.20" fill="#99c5e6"/>
<line x1="449.90" y1="357.43" x2="449.90" y2="366.21" stroke="#4a80b3" stroke-width="1.20"/>
<line x1="447.70" y1="357.43" x2="452.10" y2="357.43" stroke="#4a80b3" stroke-width="1.20"/>
<line x1="447.70" y1="366.21" x2="452.10" y2="366.21" stroke="#4a80b3" stroke-width="1.20"/>
<line x1="470.25" y1="345.35" x2="470.25" y2="354.13" stroke="#4a80b3" stroke-width="1.20"/>
<line x1="468.05" y1="345.35" x2="472.45" y2="345.35" stroke="#4a80b3" stroke-width="1.20"/>
<line x1="468.05" y1="354.13" x2="472.45" y2="354.13" stroke="#4a80b3" stroke-width="1.20"/>
<line x1="490.60" y1="326.13" x2="490.60" y2="334.92" stroke="#4a80b3" stroke-width="1.20"/>
<line x1="488.40" y1="326.13" x2="492.80" y2="326.13" stroke="#4a80b3" stroke-width="1.20"/>
<line x1="488.40" y1="334.92" x2="492.80" y2="334.92" stroke="#4a80b3" stroke-width="1.20"/>
<line x1="510.95" y1="327.78" x2="510.95" y2="338.76" stroke="#4a80b3" stroke-width="1.20"/>
<line x1="508.75" y1="327.78" x2="513.15" y2="327.78" stroke="#4a80b3" stroke-width="1.20"/>
<line x1="508.75" y1="338.76" x2="513.15" y2="338.76" stroke="#4a80b3" stroke-width="1.20"/>
<line x1="531.30" y1="320.64" x2="531.30" y2="331.62" stroke="#4a80b3" stroke-width="1.20"/>
<line x1="529.10" y1="320.64" x2="533.50" y2="320.64" stroke="#4a80b3" stroke-width="1.20"/>
<line x1="529.10" y1="331.62" x2="533.50" y2="331.62" stroke="#4a80b3" stroke-width="1.20"/>
<line x1="551.65" y1="315.70" x2="551.65" y2="326.68" stroke="#4a80b3" stroke-width="1.20"/>
<line x1="549.45" y1="315.70" x2="553.85" y2="315.70" stroke="#4a80b3" stroke-width="1.20"/>
<line x1="549.45" y1="326.68" x2="553.85" y2="326.68" stroke="#4a80b3" stroke-width="1.20"/>
<polyline points="449.90,361.82 470.25,349.74 490.60,330.52 510.95,333.27 531.30,326.13 551.65,321.19" fill="none" stroke="#4a80b3" stroke-width="1.80"/>
<path d="M449.90 358.76L446.91 363.89L452.89 363.89Z" fill="#4a80b3"/>
<path d="M470.25 346.68L467.26 351.81L473.24 351.81Z" fill="#4a80b3"/>
<path d="M490.60 327.46L487.61 332.60L493.59 332.60Z" fill="#4a80b3"/>
<path d="M510.95 330.21L507.96 335.34L513.94 335.34Z" fill="#4a80b3"/>
<path d="M531.30 323.07L528.31 328.21L534.29 328.21Z" fill="#4a80b3"/>
<path d="M551.65 318.13L548.66 323.27L554.64 323.27Z" fill="#4a80b3"/>
<text x="426.40" y="330.40" font-size="12.20" text-anchor="middle" font-weight="bold" fill="#000" transform="rotate(-90 426.4 330.4)">Weight (g)</text>
<line x1="558.40" y1="321.90" x2="558.40" y2="335.40" stroke="#000" stroke-width="1.60"/>
<text x="564.70" y="335.13" font-size="13.0" text-anchor="middle" font-weight="bold" transform="rotate(90 564.70 328.50)">*</text>
<line x1="570.70" y1="314.50" x2="570.70" y2="336.90" stroke="#000" stroke-width="1.60"/>
<text x="576.40" y="332.63" font-size="13.0" text-anchor="middle" font-weight="bold" transform="rotate(90 576.40 326.00)">*</text>
<line x1="590.00" y1="307.60" x2="602.00" y2="307.60" stroke="#111111" stroke-width="1.60"/>
<circle cx="596.00" cy="307.60" r="2.60" fill="#111111"/>
<text x="609.60" y="311.20" font-size="10.30" text-anchor="start" font-weight="bold" fill="#000">shNC</text>
<line x1="590.00" y1="321.80" x2="602.00" y2="321.80" stroke="#99c5e6" stroke-width="1.60"/>
<rect x="593.40" y="319.20" width="5.20" height="5.20" fill="#99c5e6"/>
<text x="609.60" y="325.40" font-size="10.30" text-anchor="start" font-weight="bold" fill="#000">shPro-IL-1β#1</text>
<line x1="590.00" y1="336.00" x2="602.00" y2="336.00" stroke="#4a80b3" stroke-width="1.60"/>
<path d="M596.00 332.94L593.01 338.07L598.99 338.07Z" fill="#4a80b3"/>
<text x="609.60" y="339.60" font-size="10.30" text-anchor="start" font-weight="bold" fill="#000">shPro-IL-1β#2</text>
<text x="5.60" y="413.00" font-size="20.00" text-anchor="start" font-weight="bold" fill="#000">D</text>
<text x="53.50" y="414.30" font-size="11.30" text-anchor="middle" font-weight="bold" fill="#000">vector</text>
<text x="126.50" y="414.30" font-size="11.30" text-anchor="middle" font-weight="bold" fill="#000">wt<tspan font-style="italic">IL1B</tspan></text>
<text x="199.50" y="414.30" font-size="11.30" text-anchor="middle" font-weight="bold" fill="#000">mt<tspan font-style="italic">IL1B</tspan></text>
<text x="276.50" y="414.30" font-size="11.30" text-anchor="middle" font-weight="bold" fill="#000">shNC</text>
<text x="349.50" y="414.30" font-size="11.30" text-anchor="middle" font-weight="bold" fill="#000">sh#1</text>
<text x="422.70" y="414.30" font-size="11.30" text-anchor="middle" font-weight="bold" fill="#000">sh#2</text>
<text x="500.30" y="414.30" font-size="11.30" text-anchor="middle" font-weight="bold" fill="#000">shNC</text>
<text x="573.20" y="414.30" font-size="11.30" text-anchor="middle" font-weight="bold" fill="#000">sh#1</text>
<text x="645.70" y="414.30" font-size="11.30" text-anchor="middle" font-weight="bold" fill="#000">sh#2</text>
<text x="13.50" y="447.00" font-size="11.50" text-anchor="middle" font-weight="bold" fill="#000" transform="rotate(-90 13.5 447)">H&amp;E</text>
<text x="13.50" y="506.00" font-size="11.50" text-anchor="middle" font-weight="bold" fill="#000" transform="rotate(-90 13.5 506)">Pan-CK</text>
<g clip-path="url(#cp1)">
<rect x="19.00" y="420.00" width="69.00" height="54.60" fill="#c2a4d8" stroke="none" stroke-width="0.00"/>
<rect x="19.00" y="420.00" width="69.00" height="54.60" filter="url(#nf1)"/>
<rect x="19.00" y="420.00" width="69.00" height="54.60" filter="url(#nf2)"/>
<ellipse cx="51.43" cy="447.30" rx="11.73" ry="12.01" fill="#8060c0" opacity="0.30"/>
</g>
<g clip-path="url(#cp2)">
<rect x="19.00" y="478.60" width="69.00" height="54.80" fill="#4a3c84" stroke="none" stroke-width="0.00"/>
<g filter="url(#hf3)"><rect x="13.00" y="472.60" width="81.00" height="66.80" fill="url(#hp3)"/></g>
<rect x="19.00" y="478.60" width="69.00" height="54.80" filter="url(#nf3)"/>
<rect x="19.00" y="478.60" width="69.00" height="54.80" filter="url(#nf4)"/>
<ellipse cx="51.43" cy="507.10" rx="11.04" ry="12.60" fill="#6a4a6c" opacity="0.70"/>
<ellipse cx="51.43" cy="507.10" rx="6.90" ry="7.67" fill="#80606a" opacity="0.40"/>
</g>
<g clip-path="url(#cp4)">
<rect x="92.00" y="420.00" width="69.00" height="54.60" fill="#72308a" stroke="none" stroke-width="0.00"/>
<rect x="92.00" y="420.00" width="69.00" height="54.60" filter="url(#nf5)"/>
<rect x="92.00" y="420.00" width="69.00" height="54.60" filter="url(#nf6)"/>
<rect x="92.00" y="420.00" width="69.00" height="54.60" filter="url(#nf7)"/>
<polygon points="92.00,420.00 133.40,420.00 132.71,420.55 121.67,424.37 103.04,435.29 92.00,448.94" fill="#e4e4e4" opacity="1.00"/>
<polygon points="127.88,456.04 134.78,452.76 140.30,453.85 136.16,459.31 130.64,463.68" fill="#f4f4f4" opacity="1.00"/>
<ellipse cx="126.50" cy="477.88" rx="17.94" ry="6.55" fill="#f4f4f4" opacity="1.00"/>
<polygon points="155.48,422.18 161.00,422.18 161.00,439.66 157.55,436.38" fill="#f0f0f0" opacity="1.00"/>
</g>
<g clip-path="url(#cp5)">
<rect x="92.00" y="478.60" width="69.00" height="54.80" fill="#66568e" stroke="none" stroke-width="0.00"/>
<rect x="92.00" y="478.60" width="69.00" height="54.80" filter="url(#nf8)"/>
<rect x="92.00" y="478.60" width="69.00" height="54.80" filter="url(#nf9)"/>
<rect x="92.00" y="478.60" width="69.00" height="54.80" filter="url(#nf10)"/>
<polygon points="92.00,478.60 127.88,478.60 112.70,482.98 92.00,496.68" fill="#efebe6" opacity="1.00"/>
</g>
<g clip-path="url(#cp6)">
<rect x="165.00" y="420.00" width="69.00" height="54.60" fill="#a868ac" stroke="none" stroke-width="0.00"/>
<rect x="165.00" y="420.00" width="69.00" height="54.60" filter="url(#nf11)"/>
<rect x="165.00" y="420.00" width="69.00" height="54.60" filter="url(#nf12)"/>
<rect x="165.00" y="420.00" width="69.00" height="54.60" filter="url(#nf13)"/>
<polygon points="165.00,453.85 165.00,474.60 185.70,474.60" fill="#e2e2e2" opacity="1.00"/>
</g>
<g clip-path="url(#cp7)">
<rect x="165.00" y="478.60" width="69.00" height="54.80" fill="#6c5682" stroke="none" stroke-width="0.00"/>
<rect x="165.00" y="478.60" width="69.00" height="54.80" filter="url(#nf14)"/>
<rect x="165.00" y="478.60" width="69.00" height="54.80" filter="url(#nf15)"/>
<rect x="165.00" y="478.60" width="69.00" height="54.80" filter="url(#nf16)"/>
<polygon points="165.00,518.06 165.00,533.40 187.08,533.40" fill="#f2eee8" opacity="1.00"/>
</g>
<g clip-path="url(#cp8)">
<rect x="242.00" y="420.00" width="69.00" height="54.60" fill="#baa2d6" stroke="none" stroke-width="0.00"/>
<rect x="242.00" y="420.00" width="69.00" height="54.60" filter="url(#nf17)"/>
<rect x="242.00" y="420.00" width="69.00" height="54.60" filter="url(#nf18)"/>
<ellipse cx="284.78" cy="447.30" rx="17.25" ry="16.38" fill="#8a6cc0" opacity="0.25"/>
</g>
<g clip-path="url(#cp9)">
<rect x="242.00" y="478.60" width="69.00" height="54.80" fill="#6864a8" stroke="none" stroke-width="0.00"/>
<ellipse cx="283.40" cy="506.00" rx="26.22" ry="25.21" fill="#8480c0" opacity="0.80"/>
<rect x="242.00" y="478.60" width="69.00" height="54.80" filter="url(#nf19)"/>
<rect x="242.00" y="478.60" width="69.00" height="54.80" filter="url(#nf20)"/>
<ellipse cx="279.95" cy="500.52" rx="4.83" ry="4.93" fill="#5e4058" opacity="0.75"/>
<ellipse cx="288.23" cy="510.38" rx="6.21" ry="6.58" fill="#5e4058" opacity="0.75"/>
<ellipse cx="252.35" cy="506.00" rx="8.28" ry="24.66" fill="#ffffff" opacity="0.18"/>
</g>
<g clip-path="url(#cp10)">
<rect x="315.00" y="420.00" width="69.00" height="54.60" fill="#c08ac4" stroke="none" stroke-width="0.00"/>
<g filter="url(#hf11)"><rect x="309.00" y="414.00" width="81.00" height="66.60" fill="url(#hp11)"/></g>
<rect x="315.00" y="420.00" width="69.00" height="54.60" filter="url(#nf21)"/>
<polygon points="315.00,420.00 384.00,420.00 384.00,423.28 315.00,425.46" fill="#ececec" opacity="0.90"/>
</g>
<g clip-path="url(#cp12)">
<rect x="315.00" y="478.60" width="69.00" height="54.80" fill="#584a9c" stroke="none" stroke-width="0.00"/>
<g filter="url(#hf13)"><rect x="309.00" y="472.60" width="81.00" height="66.80" fill="url(#hp13)"/></g>
<rect x="315.00" y="478.60" width="69.00" height="54.80" filter="url(#nf22)"/>
</g>
<g clip-path="url(#cp14)">
<rect x="388.40" y="420.00" width="68.60" height="54.60" fill="#b4609e" stroke="none" stroke-width="0.00"/>
<g filter="url(#hf15)"><rect x="382.40" y="414.00" width="80.60" height="66.60" fill="url(#hp15)"/></g>
<rect x="388.40" y="420.00" width="68.60" height="54.60" filter="url(#nf23)"/>
<polygon points="388.40,420.00 406.92,420.00 402.12,441.84 391.14,456.04 388.40,462.59" fill="#e8e8e8" opacity="1.00"/>
</g>
<g clip-path="url(#cp16)">
<rect x="388.40" y="478.60" width="68.60" height="54.80" fill="#6a5aa6" stroke="none" stroke-width="0.00"/>
<g filter="url(#hf17)"><rect x="382.40" y="472.60" width="80.60" height="66.80" fill="url(#hp17)"/></g>
<rect x="388.40" y="478.60" width="68.60" height="54.80" filter="url(#nf24)"/>
<polygon points="388.40,478.60 406.92,478.60 402.12,500.52 392.52,513.67 388.40,522.44" fill="#f8f8fa" opacity="1.00"/>
</g>
<g clip-path="url(#cp18)">
<rect x="465.60" y="420.00" width="69.40" height="54.60" fill="#baa4d6" stroke="none" stroke-width="0.00"/>
<rect x="465.60" y="420.00" width="69.40" height="54.60" filter="url(#nf25)"/>
<rect x="465.60" y="420.00" width="69.40" height="54.60" filter="url(#nf26)"/>
<ellipse cx="507.24" cy="445.66" rx="13.88" ry="14.20" fill="#8060b0" opacity="0.35"/>
</g>
<g clip-path="url(#cp19)">
<rect x="465.60" y="478.60" width="69.40" height="54.80" fill="#5a4c9c" stroke="none" stroke-width="0.00"/>
<g filter="url(#hf20)"><rect x="459.60" y="472.60" width="81.40" height="66.80" fill="url(#hp20)"/></g>
<ellipse cx="514.18" cy="507.10" rx="20.82" ry="24.66" fill="#7c78b8" opacity="0.50"/>
<ellipse cx="514.87" cy="507.64" rx="11.80" ry="14.80" fill="#5e4258" opacity="0.75"/>
</g>
<g clip-path="url(#cp21)">
<rect x="538.80" y="420.00" width="68.80" height="54.60" fill="#b46aa8" stroke="none" stroke-width="0.00"/>
<g filter="url(#hf22)"><rect x="532.80" y="414.00" width="80.80" height="66.60" fill="url(#hp22)"/></g>
<rect x="538.80" y="420.00" width="68.80" height="54.60" filter="url(#nf27)"/>
</g>
<g clip-path="url(#cp23)">
<rect x="538.80" y="478.60" width="68.80" height="54.80" fill="#5c4c9c" stroke="none" stroke-width="0.00"/>
<g filter="url(#hf24)"><rect x="532.80" y="472.60" width="80.80" height="66.80" fill="url(#hp24)"/></g>
<rect x="538.80" y="478.60" width="68.80" height="54.80" filter="url(#nf28)"/>
</g>
<g clip-path="url(#cp25)">
<rect x="611.40" y="420.00" width="68.60" height="54.60" fill="#b872ac" stroke="none" stroke-width="0.00"/>
<g filter="url(#hf26)"><rect x="605.40" y="414.00" width="80.60" height="66.60" fill="url(#hp26)"/></g>
<rect x="611.40" y="420.00" width="68.60" height="54.60" filter="url(#nf29)"/>
<polygon points="659.42,420.00 680.00,420.00 680.00,439.11 673.14,426.55" fill="#ececec" opacity="1.00"/>
</g>
<g clip-path="url(#cp27)">
<rect x="611.40" y="478.60" width="68.60" height="54.80" fill="#625098" stroke="none" stroke-width="0.00"/>
<g filter="url(#hf28)"><rect x="605.40" y="472.60" width="80.60" height="66.80" fill="url(#hp28)"/></g>
<rect x="611.40" y="478.60" width="68.60" height="54.80" filter="url(#nf30)"/>
<polygon points="655.99,478.60 680.00,478.60 680.00,495.04" fill="#fbfbff" opacity="1.00"/>
</g>
<line x1="667.60" y1="522.00" x2="679.00" y2="522.00" stroke="#000" stroke-width="1.40"/>
<text x="666.00" y="530.50" font-size="7.50" text-anchor="middle" font-weight="bold" fill="#000">100 μm</text>
<line x1="86.40" y1="554.50" x2="86.40" y2="631.30" stroke="#000" stroke-width="1.70"/>
<line x1="81.90" y1="630.70" x2="86.40" y2="630.70" stroke="#000" stroke-width="1.70"/>
<text x="80.10" y="634.30" font-size="10.00" text-anchor="end" font-weight="bold" fill="#000">0</text>
<line x1="81.90" y1="615.58" x2="86.40" y2="615.58" stroke="#000" stroke-width="1.70"/>
<text x="80.10" y="619.18" font-size="10.00" text-anchor="end" font-weight="bold" fill="#000">5</text>
<line x1="81.90" y1="600.46" x2="86.40" y2="600.46" stroke="#000" stroke-width="1.70"/>
<text x="80.10" y="604.06" font-size="10.00" text-anchor="end" font-weight="bold" fill="#000">10</text>
<line x1="81.90" y1="585.34" x2="86.40" y2="585.34" stroke="#000" stroke-width="1.70"/>
<text x="80.10" y="588.94" font-size="10.00" text-anchor="end" font-weight="bold" fill="#000">15</text>
<line x1="81.90" y1="570.22" x2="86.40" y2="570.22" stroke="#000" stroke-width="1.70"/>
<text x="80.10" y="573.82" font-size="10.00" text-anchor="end" font-weight="bold" fill="#000">20</text>
<line x1="81.90" y1="555.10" x2="86.40" y2="555.10" stroke="#000" stroke-width="1.70"/>
<text x="80.10" y="558.70" font-size="10.00" text-anchor="end" font-weight="bold" fill="#000">25</text>
<line x1="85.70" y1="630.70" x2="200.00" y2="630.70" stroke="#000" stroke-width="1.70"/>
<line x1="105.70" y1="630.70" x2="105.70" y2="635.00" stroke="#000" stroke-width="1.40"/>
<text x="105.70" y="645.70" font-size="10.00" text-anchor="middle" font-weight="bold" fill="#000">vector</text>
<line x1="145.60" y1="630.70" x2="145.60" y2="635.00" stroke="#000" stroke-width="1.40"/>
<text x="145.60" y="645.70" font-size="10.00" text-anchor="middle" font-weight="bold" fill="#000">wt<tspan font-style="italic">IL1B</tspan></text>
<line x1="185.60" y1="630.70" x2="185.60" y2="635.00" stroke="#000" stroke-width="1.40"/>
<text x="185.60" y="645.70" font-size="10.00" text-anchor="middle" font-weight="bold" fill="#000">mt<tspan font-style="italic">IL1B</tspan></text>
<text x="143.70" y="551.20" font-size="11.30" text-anchor="middle" font-weight="bold" fill="#000">HK1</text>
<circle cx="94.70" cy="619.51" r="2.60" fill="#111111"/>
<circle cx="94.70" cy="625.26" r="2.60" fill="#111111"/>
<circle cx="105.70" cy="621.33" r="2.60" fill="#111111"/>
<circle cx="116.70" cy="616.49" r="2.60" fill="#111111"/>
<circle cx="116.70" cy="621.93" r="2.60" fill="#111111"/>
<line x1="92.70" y1="620.42" x2="118.70" y2="620.42" stroke="#111111" stroke-width="1.60"/>
<line x1="105.70" y1="619.21" x2="105.70" y2="621.63" stroke="#111111" stroke-width="1.40"/>
<line x1="99.20" y1="619.21" x2="112.20" y2="619.21" stroke="#111111" stroke-width="1.50"/>
<line x1="99.20" y1="621.63" x2="112.20" y2="621.63" stroke="#111111" stroke-width="1.50"/>
<rect x="143.00" y="591.81" width="5.20" height="5.20" fill="#e6a49e"/>
<rect x="132.50" y="607.23" width="5.20" height="5.20" fill="#e6a49e"/>
<rect x="154.00" y="598.46" width="5.20" height="5.20" fill="#e6a49e"/>
<rect x="154.00" y="604.82" width="5.20" height="5.20" fill="#e6a49e"/>
<rect x="143.00" y="600.88" width="5.20" height="5.20" fill="#e6a49e"/>
<line x1="132.60" y1="603.18" x2="158.60" y2="603.18" stroke="#e6a49e" stroke-width="1.60"/>
<line x1="145.60" y1="600.76" x2="145.60" y2="605.60" stroke="#e6a49e" stroke-width="1.40"/>
<line x1="139.10" y1="600.76" x2="152.10" y2="600.76" stroke="#e6a49e" stroke-width="1.50"/>
<line x1="139.10" y1="605.60" x2="152.10" y2="605.60" stroke="#e6a49e" stroke-width="1.50"/>
<path d="M185.60 558.39L182.61 563.53L188.59 563.53Z" fill="#c8666c"/>
<path d="M174.60 601.03L171.61 606.16L177.59 606.16Z" fill="#c8666c"/>
<path d="M196.60 598.61L193.61 603.74L199.59 603.74Z" fill="#c8666c"/>
<path d="M185.60 580.46L182.61 585.60L188.59 585.60Z" fill="#c8666c"/>
<path d="M185.60 590.14L182.61 595.28L188.59 595.28Z" fill="#c8666c"/>
<line x1="172.60" y1="588.67" x2="198.60" y2="588.67" stroke="#c8666c" stroke-width="1.60"/>
<line x1="185.60" y1="581.11" x2="185.60" y2="596.23" stroke="#c8666c" stroke-width="1.40"/>
<line x1="179.10" y1="581.11" x2="192.10" y2="581.11" stroke="#c8666c" stroke-width="1.50"/>
<line x1="179.10" y1="596.23" x2="192.10" y2="596.23" stroke="#c8666c" stroke-width="1.50"/>
<line x1="106.80" y1="566.40" x2="182.50" y2="566.40" stroke="#000" stroke-width="1.40"/>
<text x="138.95" y="568.00" font-size="13.00" text-anchor="middle" font-weight="bold" fill="#000">*</text>
<text x="144.65" y="568.00" font-size="13.00" text-anchor="middle" font-weight="bold" fill="#000">*</text>
<text x="150.35" y="568.00" font-size="13.00" text-anchor="middle" font-weight="bold" fill="#000">*</text>
<line x1="106.00" y1="576.70" x2="146.00" y2="576.70" stroke="#000" stroke-width="1.40"/>
<text x="126.00" y="578.30" font-size="13.00" text-anchor="middle" font-weight="bold" fill="#000">*</text>
<text x="37.10" y="593.00" font-size="11.00" text-anchor="middle" font-weight="bold" fill="#000" transform="rotate(-90 37.1 593)">No. of lung</text>
<text x="49.80" y="593.00" font-size="11.00" text-anchor="middle" font-weight="bold" fill="#000" transform="rotate(-90 49.8 593)">metastatic nodules</text>
<text x="62.30" y="593.00" font-size="11.00" text-anchor="middle" font-weight="bold" fill="#000" transform="rotate(-90 62.3 593)">by H&amp;E staining</text>
<line x1="307.00" y1="553.40" x2="307.00" y2="630.80" stroke="#000" stroke-width="1.70"/>
<line x1="302.50" y1="630.20" x2="307.00" y2="630.20" stroke="#000" stroke-width="1.70"/>
<text x="300.70" y="633.80" font-size="10.00" text-anchor="end" font-weight="bold" fill="#000">0</text>
<line x1="302.50" y1="604.80" x2="307.00" y2="604.80" stroke="#000" stroke-width="1.70"/>
<text x="300.70" y="608.40" font-size="10.00" text-anchor="end" font-weight="bold" fill="#000">5</text>
<line x1="302.50" y1="579.40" x2="307.00" y2="579.40" stroke="#000" stroke-width="1.70"/>
<text x="300.70" y="583.00" font-size="10.00" text-anchor="end" font-weight="bold" fill="#000">10</text>
<line x1="302.50" y1="554.00" x2="307.00" y2="554.00" stroke="#000" stroke-width="1.70"/>
<text x="300.70" y="557.60" font-size="10.00" text-anchor="end" font-weight="bold" fill="#000">15</text>
<line x1="306.30" y1="630.20" x2="426.40" y2="630.20" stroke="#000" stroke-width="1.70"/>
<line x1="326.80" y1="630.20" x2="326.80" y2="634.50" stroke="#000" stroke-width="1.40"/>
<text x="326.80" y="645.20" font-size="10.00" text-anchor="middle" font-weight="bold" fill="#000">shNC</text>
<line x1="366.80" y1="630.20" x2="366.80" y2="634.50" stroke="#000" stroke-width="1.40"/>
<text x="366.80" y="645.20" font-size="10.00" text-anchor="middle" font-weight="bold" fill="#000">sh#1</text>
<line x1="406.50" y1="630.20" x2="406.50" y2="634.50" stroke="#000" stroke-width="1.40"/>
<text x="406.50" y="645.20" font-size="10.00" text-anchor="middle" font-weight="bold" fill="#000">sh#2</text>
<text x="359.30" y="551.20" font-size="11.30" text-anchor="middle" font-weight="bold" fill="#000">HK1</text>
<circle cx="326.80" cy="569.24" r="2.60" fill="#111111"/>
<circle cx="316.30" cy="609.88" r="2.60" fill="#111111"/>
<circle cx="337.80" cy="609.88" r="2.60" fill="#111111"/>
<circle cx="326.80" cy="600.74" r="2.60" fill="#111111"/>
<circle cx="326.80" cy="604.80" r="2.60" fill="#111111"/>
<line x1="313.80" y1="599.21" x2="339.80" y2="599.21" stroke="#111111" stroke-width="1.60"/>
<line x1="326.80" y1="591.59" x2="326.80" y2="606.83" stroke="#111111" stroke-width="1.40"/>
<line x1="320.30" y1="591.59" x2="333.30" y2="591.59" stroke="#111111" stroke-width="1.50"/>
<line x1="320.30" y1="606.83" x2="333.30" y2="606.83" stroke="#111111" stroke-width="1.50"/>
<rect x="353.20" y="623.03" width="5.20" height="5.20" fill="#99c5e6"/>
<rect x="359.20" y="626.58" width="5.20" height="5.20" fill="#99c5e6"/>
<rect x="364.20" y="626.58" width="5.20" height="5.20" fill="#99c5e6"/>
<rect x="369.20" y="626.58" width="5.20" height="5.20" fill="#99c5e6"/>
<rect x="375.20" y="626.58" width="5.20" height="5.20" fill="#99c5e6"/>
<line x1="353.80" y1="628.17" x2="379.80" y2="628.17" stroke="#99c5e6" stroke-width="1.60"/>
<line x1="366.80" y1="627.41" x2="366.80" y2="628.93" stroke="#99c5e6" stroke-width="1.40"/>
<line x1="360.30" y1="627.41" x2="373.30" y2="627.41" stroke="#99c5e6" stroke-width="1.50"/>
<line x1="360.30" y1="628.93" x2="373.30" y2="628.93" stroke="#99c5e6" stroke-width="1.50"/>
<path d="M406.50 616.98L403.51 622.11L409.49 622.11Z" fill="#4a80b3"/>
<path d="M395.50 627.14L392.51 632.27L398.49 632.27Z" fill="#4a80b3"/>
<path d="M417.50 627.14L414.51 632.27L420.49 632.27Z" fill="#4a80b3"/>
<path d="M401.50 624.60L398.51 629.73L404.49 629.73Z" fill="#4a80b3"/>
<path d="M411.50 623.07L408.51 628.21L414.49 628.21Z" fill="#4a80b3"/>
<line x1="393.50" y1="627.15" x2="419.50" y2="627.15" stroke="#4a80b3" stroke-width="1.60"/>
<line x1="406.50" y1="625.12" x2="406.50" y2="629.18" stroke="#4a80b3" stroke-width="1.40"/>
<line x1="400.00" y1="625.12" x2="413.00" y2="625.12" stroke="#4a80b3" stroke-width="1.50"/>
<line x1="400.00" y1="629.18" x2="413.00" y2="629.18" stroke="#4a80b3" stroke-width="1.50"/>
<line x1="332.70" y1="565.40" x2="399.00" y2="565.40" stroke="#000" stroke-width="1.40"/>
<text x="363.00" y="567.00" font-size="13.00" text-anchor="middle" font-weight="bold" fill="#000">*</text>
<text x="368.70" y="567.00" font-size="13.00" text-anchor="middle" font-weight="bold" fill="#000">*</text>
<line x1="331.80" y1="576.00" x2="366.70" y2="576.00" stroke="#000" stroke-width="1.40"/>
<text x="346.40" y="577.60" font-size="13.00" text-anchor="middle" font-weight="bold" fill="#000">*</text>
<text x="352.10" y="577.60" font-size="13.00" text-anchor="middle" font-weight="bold" fill="#000">*</text>
<text x="257.10" y="591.60" font-size="11.00" text-anchor="middle" font-weight="bold" fill="#000" transform="rotate(-90 257.1 591.6)">No. of lung</text>
<text x="269.80" y="591.60" font-size="11.00" text-anchor="middle" font-weight="bold" fill="#000" transform="rotate(-90 269.8 591.6)">metastatic nodules</text>
<text x="282.50" y="591.60" font-size="11.00" text-anchor="middle" font-weight="bold" fill="#000" transform="rotate(-90 282.5 591.6)">by H&amp;E staining</text>
<line x1="530.70" y1="553.40" x2="530.70" y2="630.80" stroke="#000" stroke-width="1.70"/>
<line x1="526.20" y1="630.20" x2="530.70" y2="630.20" stroke="#000" stroke-width="1.70"/>
<text x="524.40" y="633.80" font-size="10.00" text-anchor="end" font-weight="bold" fill="#000">0</text>
<line x1="526.20" y1="604.80" x2="530.70" y2="604.80" stroke="#000" stroke-width="1.70"/>
<text x="524.40" y="608.40" font-size="10.00" text-anchor="end" font-weight="bold" fill="#000">5</text>
<line x1="526.20" y1="579.40" x2="530.70" y2="579.40" stroke="#000" stroke-width="1.70"/>
<text x="524.40" y="583.00" font-size="10.00" text-anchor="end" font-weight="bold" fill="#000">10</text>
<line x1="526.20" y1="554.00" x2="530.70" y2="554.00" stroke="#000" stroke-width="1.70"/>
<text x="524.40" y="557.60" font-size="10.00" text-anchor="end" font-weight="bold" fill="#000">15</text>
<line x1="530.00" y1="630.20" x2="651.40" y2="630.20" stroke="#000" stroke-width="1.70"/>
<line x1="550.90" y1="630.20" x2="550.90" y2="634.50" stroke="#000" stroke-width="1.40"/>
<text x="550.90" y="645.20" font-size="10.00" text-anchor="middle" font-weight="bold" fill="#000">shNC</text>
<line x1="590.90" y1="630.20" x2="590.90" y2="634.50" stroke="#000" stroke-width="1.40"/>
<text x="590.90" y="645.20" font-size="10.00" text-anchor="middle" font-weight="bold" fill="#000">sh#1</text>
<line x1="630.70" y1="630.20" x2="630.70" y2="634.50" stroke="#000" stroke-width="1.40"/>
<text x="630.70" y="645.20" font-size="10.00" text-anchor="middle" font-weight="bold" fill="#000">sh#2</text>
<text x="586.00" y="549.50" font-size="11.30" text-anchor="middle" font-weight="bold" fill="#000">FaDu</text>
<circle cx="550.90" cy="569.24" r="2.60" fill="#111111"/>
<circle cx="539.90" cy="595.15" r="2.60" fill="#111111"/>
<circle cx="561.90" cy="595.15" r="2.60" fill="#111111"/>
<circle cx="550.90" cy="604.80" r="2.60" fill="#111111"/>
<circle cx="550.90" cy="614.96" r="2.60" fill="#111111"/>
<line x1="537.90" y1="595.15" x2="563.90" y2="595.15" stroke="#111111" stroke-width="1.60"/>
<line x1="550.90" y1="587.53" x2="550.90" y2="602.77" stroke="#111111" stroke-width="1.40"/>
<line x1="544.40" y1="587.53" x2="557.40" y2="587.53" stroke="#111111" stroke-width="1.50"/>
<line x1="544.40" y1="602.77" x2="557.40" y2="602.77" stroke="#111111" stroke-width="1.50"/>
<rect x="577.30" y="626.08" width="5.20" height="5.20" fill="#99c5e6"/>
<rect x="583.30" y="623.54" width="5.20" height="5.20" fill="#99c5e6"/>
<rect x="588.30" y="622.52" width="5.20" height="5.20" fill="#99c5e6"/>
<rect x="593.30" y="622.52" width="5.20" height="5.20" fill="#99c5e6"/>
<rect x="599.30" y="616.93" width="5.20" height="5.20" fill="#99c5e6"/>
<line x1="577.90" y1="625.63" x2="603.90" y2="625.63" stroke="#99c5e6" stroke-width="1.60"/>
<line x1="590.90" y1="624.10" x2="590.90" y2="627.15" stroke="#99c5e6" stroke-width="1.40"/>
<line x1="584.40" y1="624.10" x2="597.40" y2="624.10" stroke="#99c5e6" stroke-width="1.50"/>
<line x1="584.40" y1="627.15" x2="597.40" y2="627.15" stroke="#99c5e6" stroke-width="1.50"/>
<path d="M619.70 616.98L616.71 622.11L622.69 622.11Z" fill="#4a80b3"/>
<path d="M641.70 616.98L638.71 622.11L644.69 622.11Z" fill="#4a80b3"/>
<path d="M630.70 627.14L627.71 632.27L633.69 632.27Z" fill="#4a80b3"/>
<path d="M625.70 621.04L622.71 626.18L628.69 626.18Z" fill="#4a80b3"/>
<path d="M635.70 620.03L632.71 625.16L638.69 625.16Z" fill="#4a80b3"/>
<line x1="617.70" y1="623.09" x2="643.70" y2="623.09" stroke="#4a80b3" stroke-width="1.60"/>
<line x1="630.70" y1="621.31" x2="630.70" y2="624.87" stroke="#4a80b3" stroke-width="1.40"/>
<line x1="624.20" y1="621.31" x2="637.20" y2="621.31" stroke="#4a80b3" stroke-width="1.50"/>
<line x1="624.20" y1="624.87" x2="637.20" y2="624.87" stroke="#4a80b3" stroke-width="1.50"/>
<line x1="556.00" y1="563.10" x2="626.50" y2="563.10" stroke="#000" stroke-width="1.40"/>
<text x="588.40" y="564.70" font-size="13.00" text-anchor="middle" font-weight="bold" fill="#000">*</text>
<text x="594.10" y="564.70" font-size="13.00" text-anchor="middle" font-weight="bold" fill="#000">*</text>
<line x1="556.00" y1="574.00" x2="592.10" y2="574.00" stroke="#000" stroke-width="1.40"/>
<text x="571.20" y="575.60" font-size="13.00" text-anchor="middle" font-weight="bold" fill="#000">*</text>
<text x="576.90" y="575.60" font-size="13.00" text-anchor="middle" font-weight="bold" fill="#000">*</text>
<text x="481.40" y="591.60" font-size="11.00" text-anchor="middle" font-weight="bold" fill="#000" transform="rotate(-90 481.4 591.6)">No. of lung</text>
<text x="494.20" y="591.60" font-size="11.00" text-anchor="middle" font-weight="bold" fill="#000" transform="rotate(-90 494.2 591.6)">metastatic nodules</text>
<text x="507.00" y="591.60" font-size="11.00" text-anchor="middle" font-weight="bold" fill="#000" transform="rotate(-90 507 591.6)">by H&amp;E staining</text>
<text x="5.60" y="678.20" font-size="20.00" text-anchor="start" font-weight="bold" fill="#000">E</text>
<text x="126.00" y="670.60" font-size="14.60" text-anchor="middle" font-weight="bold" fill="#000">HK1</text>
<line x1="42.00" y1="677.70" x2="210.00" y2="677.70" stroke="#000" stroke-width="1.80"/>
<text x="324.80" y="670.60" font-size="14.60" text-anchor="middle" font-weight="bold" fill="#000">HK1</text>
<line x1="240.80" y1="677.70" x2="408.70" y2="677.70" stroke="#000" stroke-width="1.80"/>
<text x="552.20" y="670.60" font-size="14.60" text-anchor="middle" font-weight="bold" fill="#000">FaDu</text>
<line x1="468.90" y1="677.70" x2="637.00" y2="677.70" stroke="#000" stroke-width="1.80"/>
<text x="63.00" y="691.60" font-size="10.00" text-anchor="middle" font-weight="bold" fill="#000">vector</text>
<text x="127.60" y="691.60" font-size="10.00" text-anchor="middle" font-weight="bold" fill="#000">wt<tspan font-style="italic">IL1B</tspan></text>
<text x="189.70" y="691.60" font-size="10.00" text-anchor="middle" font-weight="bold" fill="#000">mt<tspan font-style="italic">IL1B</tspan></text>
<text x="259.00" y="691.60" font-size="10.00" text-anchor="middle" font-weight="bold" fill="#000">shNC</text>
<text x="320.30" y="691.60" font-size="10.00" text-anchor="middle" font-weight="bold" fill="#000">shPro-IL-1β#1</text>
<text x="392.90" y="691.60" font-size="10.00" text-anchor="middle" font-weight="bold" fill="#000">shPro-IL-1β#2</text>
<text x="487.00" y="691.60" font-size="10.00" text-anchor="middle" font-weight="bold" fill="#000">shNC</text>
<text x="548.50" y="691.60" font-size="10.00" text-anchor="middle" font-weight="bold" fill="#000">shPro-IL-1β#1</text>
<text x="620.80" y="691.60" font-size="10.00" text-anchor="middle" font-weight="bold" fill="#000">shPro-IL-1β#2</text>
<text x="3.60" y="732.30" font-size="12.50" text-anchor="start" font-weight="bold" fill="#000">10 d</text>
<text x="3.60" y="793.80" font-size="12.50" text-anchor="start" font-weight="bold" fill="#000">30 d</text>
<g clip-path="url(#cp29)">
<rect x="32.60" y="699.00" width="62.40" height="57.60" fill="#4a4a4a" stroke="none" stroke-width="0.00"/>
<rect x="32.60" y="724.34" width="62.40" height="32.26" fill="#505050" stroke="none" stroke-width="0.00"/>
<rect x="38.84" y="699.00" width="49.92" height="25.34" fill="#3a3a3a" stroke="none" stroke-width="0.00"/>
<rect x="41.34" y="699.00" width="8.11" height="25.34" fill="#262626" stroke="none" stroke-width="0.00"/>
<rect x="43.52" y="699.00" width="3.74" height="23.04" fill="#585858" stroke="none" stroke-width="0.00"/>
<rect x="77.53" y="699.00" width="8.11" height="25.34" fill="#262626" stroke="none" stroke-width="0.00"/>
<rect x="79.71" y="699.00" width="3.74" height="23.04" fill="#585858" stroke="none" stroke-width="0.00"/>
<rect x="58.81" y="699.00" width="9.98" height="17.28" fill="#4c4c4c" stroke="none" stroke-width="0.00"/>
<path d="M65.67 705.91 C69.42 707.06 71.91 716.28 73.16 723.19 C74.41 727.80 77.53 731.26 80.02 734.71 C85.02 735.86 90.01 738.17 88.76 742.78 C86.26 746.23 83.77 745.08 81.27 745.08 C82.52 749.69 83.77 753.72 83.77 757.75 L46.33 757.75 C46.33 753.14 46.95 749.69 48.20 746.23 C45.08 746.23 40.09 745.08 40.09 741.62 C41.34 738.17 46.33 735.86 50.70 733.56 C52.57 730.10 55.06 726.65 56.94 723.19 C58.18 716.28 61.30 707.06 65.67 705.91 Z" fill="url(#mbody)"/>
<g clip-path="url(#bd30)">
<rect x="32.60" y="699.00" width="62.40" height="57.60" filter="url(#nf31)"/>
</g>
<rect x="32.60" y="699.00" width="62.40" height="57.60" filter="url(#nf32)"/>
<ellipse cx="65.65" cy="721.30" rx="9.80" ry="10.50" fill="#7010ff"/>
<ellipse cx="65.65" cy="721.30" rx="9.02" ry="9.66" fill="#1808ff"/>
<ellipse cx="65.65" cy="721.30" rx="7.15" ry="7.67" fill="#2060ff"/>
<ellipse cx="65.65" cy="721.30" rx="6.76" ry="7.24" fill="#40d8ff"/>
<ellipse cx="65.65" cy="721.30" rx="6.27" ry="6.72" fill="#40f0a0"/>
<ellipse cx="65.65" cy="721.30" rx="5.78" ry="6.19" fill="#40ff20"/>
<ellipse cx="65.65" cy="721.30" rx="4.12" ry="4.41" fill="#a0ff20"/>
<ellipse cx="65.65" cy="721.30" rx="3.72" ry="3.99" fill="#ffff20"/>
<ellipse cx="65.65" cy="721.30" rx="3.33" ry="3.57" fill="#ff8000"/>
<ellipse cx="65.65" cy="721.30" rx="2.74" ry="2.94" fill="#ff2010"/>
</g>
<g clip-path="url(#cp31)">
<rect x="32.60" y="761.00" width="62.40" height="57.00" fill="#4a4a4a" stroke="none" stroke-width="0.00"/>
<rect x="32.60" y="786.08" width="62.40" height="31.92" fill="#505050" stroke="none" stroke-width="0.00"/>
<rect x="38.84" y="761.00" width="49.92" height="25.08" fill="#3a3a3a" stroke="none" stroke-width="0.00"/>
<rect x="41.34" y="761.00" width="8.11" height="25.08" fill="#262626" stroke="none" stroke-width="0.00"/>
<rect x="43.52" y="761.00" width="3.74" height="22.80" fill="#585858" stroke="none" stroke-width="0.00"/>
<rect x="77.53" y="761.00" width="8.11" height="25.08" fill="#262626" stroke="none" stroke-width="0.00"/>
<rect x="79.71" y="761.00" width="3.74" height="22.80" fill="#585858" stroke="none" stroke-width="0.00"/>
<rect x="58.81" y="761.00" width="9.98" height="17.10" fill="#4c4c4c" stroke="none" stroke-width="0.00"/>
<path d="M65.67 770.69 C69.42 771.83 71.91 780.95 73.16 787.79 C74.41 792.35 77.53 795.77 80.02 796.34 C85.02 797.48 90.01 799.76 88.76 804.32 C86.26 807.74 83.77 806.60 81.27 806.60 C82.52 811.16 83.77 815.15 83.77 819.14 L46.33 819.14 C46.33 814.58 46.95 811.16 48.20 807.74 C45.08 807.74 40.09 806.60 40.09 803.18 C41.34 799.76 46.33 797.48 50.70 795.20 C52.57 794.63 55.06 791.21 56.94 787.79 C58.18 780.95 61.30 771.83 65.67 770.69 Z" fill="url(#mbody)"/>
<g clip-path="url(#bd32)">
<rect x="32.60" y="761.00" width="62.40" height="57.00" filter="url(#nf33)"/>
</g>
<rect x="32.60" y="761.00" width="62.40" height="57.00" filter="url(#nf34)"/>
<ellipse cx="60.00" cy="781.00" rx="7.60" ry="7.60" fill="#7010ff"/>
<ellipse cx="60.00" cy="791.50" rx="5.60" ry="8.50" fill="#7010ff"/>
<ellipse cx="60.00" cy="781.00" rx="6.99" ry="6.99" fill="#1808ff"/>
<ellipse cx="60.00" cy="791.50" rx="5.15" ry="7.82" fill="#1808ff"/>
<ellipse cx="60.00" cy="781.00" rx="5.55" ry="5.55" fill="#2060ff"/>
<ellipse cx="60.00" cy="791.50" rx="4.09" ry="6.21" fill="#2060ff"/>
<ellipse cx="60.00" cy="781.00" rx="5.24" ry="5.24" fill="#40d8ff"/>
<ellipse cx="60.00" cy="791.50" rx="3.86" ry="5.86" fill="#40d8ff"/>
<ellipse cx="60.00" cy="781.00" rx="4.86" ry="4.86" fill="#40f0a0"/>
<ellipse cx="60.00" cy="791.50" rx="3.58" ry="5.44" fill="#40f0a0"/>
<ellipse cx="60.00" cy="781.00" rx="4.48" ry="4.48" fill="#40ff20"/>
<ellipse cx="60.00" cy="781.00" rx="3.19" ry="3.19" fill="#a0ff20"/>
<ellipse cx="60.00" cy="781.00" rx="2.89" ry="2.89" fill="#ffff20"/>
<ellipse cx="60.00" cy="781.00" rx="2.58" ry="2.58" fill="#ff8000"/>
<ellipse cx="60.00" cy="781.00" rx="1.90" ry="1.90" fill="#ff2010"/>
</g>
<g clip-path="url(#cp33)">
<rect x="96.60" y="699.00" width="62.20" height="57.60" fill="#4a4a4a" stroke="none" stroke-width="0.00"/>
<rect x="96.60" y="724.34" width="62.20" height="32.26" fill="#505050" stroke="none" stroke-width="0.00"/>
<rect x="102.82" y="699.00" width="49.76" height="25.34" fill="#3a3a3a" stroke="none" stroke-width="0.00"/>
<rect x="105.31" y="699.00" width="8.09" height="25.34" fill="#262626" stroke="none" stroke-width="0.00"/>
<rect x="107.48" y="699.00" width="3.73" height="23.04" fill="#585858" stroke="none" stroke-width="0.00"/>
<rect x="141.38" y="699.00" width="8.09" height="25.34" fill="#262626" stroke="none" stroke-width="0.00"/>
<rect x="143.56" y="699.00" width="3.73" height="23.04" fill="#585858" stroke="none" stroke-width="0.00"/>
<rect x="122.72" y="699.00" width="9.95" height="17.28" fill="#4c4c4c" stroke="none" stroke-width="0.00"/>
<path d="M129.57 705.91 C133.30 707.06 135.79 716.28 137.03 723.19 C138.27 727.80 141.38 731.26 143.87 734.71 C148.85 735.86 153.82 738.17 152.58 742.78 C150.09 746.23 147.60 745.08 145.12 745.08 C146.36 749.69 147.60 753.72 147.60 757.75 L110.28 757.75 C110.28 753.14 110.91 749.69 112.15 746.23 C109.04 746.23 104.06 745.08 104.06 741.62 C105.31 738.17 110.28 735.86 114.64 733.56 C116.50 730.10 118.99 726.65 120.86 723.19 C122.10 716.28 125.21 707.06 129.57 705.91 Z" fill="url(#mbody)"/>
<g clip-path="url(#bd34)">
<rect x="96.60" y="699.00" width="62.20" height="57.60" filter="url(#nf35)"/>
</g>
<rect x="96.60" y="699.00" width="62.20" height="57.60" filter="url(#nf36)"/>
<ellipse cx="130.20" cy="717.00" rx="9.00" ry="8.60" fill="#7010ff"/>
<ellipse cx="130.20" cy="717.00" rx="8.28" ry="7.91" fill="#1808ff"/>
<ellipse cx="130.20" cy="717.00" rx="6.57" ry="6.28" fill="#2060ff"/>
<ellipse cx="130.20" cy="717.00" rx="6.21" ry="5.93" fill="#40d8ff"/>
<ellipse cx="130.20" cy="717.00" rx="5.76" ry="5.50" fill="#40f0a0"/>
<ellipse cx="130.20" cy="717.00" rx="5.31" ry="5.07" fill="#40ff20"/>
<ellipse cx="130.20" cy="717.00" rx="3.78" ry="3.61" fill="#a0ff20"/>
<ellipse cx="130.20" cy="717.00" rx="3.42" ry="3.27" fill="#ffff20"/>
<ellipse cx="130.20" cy="717.00" rx="3.06" ry="2.92" fill="#ff8000"/>
<ellipse cx="130.20" cy="717.00" rx="2.70" ry="2.58" fill="#ff2010"/>
</g>
<g clip-path="url(#cp35)">
<rect x="96.60" y="761.00" width="62.20" height="57.00" fill="#4a4a4a" stroke="none" stroke-width="0.00"/>
<rect x="96.60" y="786.08" width="62.20" height="31.92" fill="#505050" stroke="none" stroke-width="0.00"/>
<rect x="102.82" y="761.00" width="49.76" height="25.08" fill="#3a3a3a" stroke="none" stroke-width="0.00"/>
<rect x="105.31" y="761.00" width="8.09" height="25.08" fill="#262626" stroke="none" stroke-width="0.00"/>
<rect x="107.48" y="761.00" width="3.73" height="22.80" fill="#585858" stroke="none" stroke-width="0.00"/>
<rect x="141.38" y="761.00" width="8.09" height="25.08" fill="#262626" stroke="none" stroke-width="0.00"/>
<rect x="143.56" y="761.00" width="3.73" height="22.80" fill="#585858" stroke="none" stroke-width="0.00"/>
<rect x="122.72" y="761.00" width="9.95" height="17.10" fill="#4c4c4c" stroke="none" stroke-width="0.00"/>
<path d="M129.57 770.69 C133.30 771.83 135.79 780.95 137.03 787.79 C138.27 792.35 141.38 795.77 143.87 796.34 C148.85 797.48 153.82 799.76 152.58 804.32 C150.09 807.74 147.60 806.60 145.12 806.60 C146.36 811.16 147.60 815.15 147.60 819.14 L110.28 819.14 C110.28 814.58 110.91 811.16 112.15 807.74 C109.04 807.74 104.06 806.60 104.06 803.18 C105.31 799.76 110.28 797.48 114.64 795.20 C116.50 794.63 118.99 791.21 120.86 787.79 C122.10 780.95 125.21 771.83 129.57 770.69 Z" fill="url(#mbody)"/>
<g clip-path="url(#bd36)">
<rect x="96.60" y="761.00" width="62.20" height="57.00" filter="url(#nf37)"/>
</g>
<rect x="96.60" y="761.00" width="62.20" height="57.00" filter="url(#nf38)"/>
<ellipse cx="125.40" cy="786.00" rx="9.50" ry="13.00" fill="#7010ff"/>
<ellipse cx="125.40" cy="786.00" rx="8.74" ry="11.96" fill="#1808ff"/>
<ellipse cx="125.40" cy="786.00" rx="6.93" ry="9.49" fill="#2060ff"/>
<ellipse cx="125.40" cy="786.00" rx="6.55" ry="8.97" fill="#40d8ff"/>
<ellipse cx="125.40" cy="786.00" rx="6.08" ry="8.32" fill="#40f0a0"/>
<ellipse cx="125.40" cy="786.00" rx="5.70" ry="7.80" fill="#40ff20"/>
<ellipse cx="125.40" cy="786.00" rx="5.34" ry="7.31" fill="#a0ff20"/>
<ellipse cx="125.40" cy="786.00" rx="4.99" ry="6.83" fill="#ffff20"/>
<ellipse cx="125.40" cy="786.00" rx="4.63" ry="6.34" fill="#ff8000"/>
<ellipse cx="125.40" cy="786.00" rx="4.28" ry="5.85" fill="#ff2010"/>
</g>
<g clip-path="url(#cp37)">
<rect x="160.50" y="699.00" width="62.80" height="57.60" fill="#4a4a4a" stroke="none" stroke-width="0.00"/>
<rect x="160.50" y="724.34" width="62.80" height="32.26" fill="#505050" stroke="none" stroke-width="0.00"/>
<rect x="166.78" y="699.00" width="50.24" height="25.34" fill="#3a3a3a" stroke="none" stroke-width="0.00"/>
<rect x="169.29" y="699.00" width="8.16" height="25.34" fill="#262626" stroke="none" stroke-width="0.00"/>
<rect x="171.49" y="699.00" width="3.77" height="23.04" fill="#585858" stroke="none" stroke-width="0.00"/>
<rect x="205.72" y="699.00" width="8.16" height="25.34" fill="#262626" stroke="none" stroke-width="0.00"/>
<rect x="207.91" y="699.00" width="3.77" height="23.04" fill="#585858" stroke="none" stroke-width="0.00"/>
<rect x="186.88" y="699.00" width="10.05" height="17.28" fill="#4c4c4c" stroke="none" stroke-width="0.00"/>
<path d="M193.78 705.91 C197.55 707.06 200.06 716.28 201.32 723.19 C202.58 727.80 205.72 731.26 208.23 734.71 C213.25 735.86 218.28 738.17 217.02 742.78 C214.51 746.23 212.00 745.08 209.48 745.08 C210.74 749.69 212.00 753.72 212.00 757.75 L174.32 757.75 C174.32 753.14 174.94 749.69 176.20 746.23 C173.06 746.23 168.04 745.08 168.04 741.62 C169.29 738.17 174.32 735.86 178.71 733.56 C180.60 730.10 183.11 726.65 184.99 723.19 C186.25 716.28 189.39 707.06 193.78 705.91 Z" fill="url(#mbody)"/>
<g clip-path="url(#bd38)">
<rect x="160.50" y="699.00" width="62.80" height="57.60" filter="url(#nf39)"/>
</g>
<rect x="160.50" y="699.00" width="62.80" height="57.60" filter="url(#nf40)"/>
<ellipse cx="190.00" cy="718.30" rx="9.60" ry="10.00" fill="#7010ff"/>
<ellipse cx="190.00" cy="718.30" rx="8.83" ry="9.20" fill="#1808ff"/>
<ellipse cx="190.00" cy="718.30" rx="7.01" ry="7.30" fill="#2060ff"/>
<ellipse cx="190.00" cy="718.30" rx="6.62" ry="6.90" fill="#40d8ff"/>
<ellipse cx="190.00" cy="718.30" rx="6.14" ry="6.40" fill="#40f0a0"/>
<ellipse cx="190.00" cy="718.30" rx="5.66" ry="5.90" fill="#40ff20"/>
<ellipse cx="190.00" cy="718.30" rx="4.03" ry="4.20" fill="#a0ff20"/>
<ellipse cx="190.00" cy="718.30" rx="3.65" ry="3.80" fill="#ffff20"/>
<ellipse cx="190.00" cy="718.30" rx="3.26" ry="3.40" fill="#ff8000"/>
<ellipse cx="190.00" cy="718.30" rx="2.40" ry="2.50" fill="#ff2010"/>
</g>
<g clip-path="url(#cp39)">
<rect x="160.50" y="761.00" width="62.80" height="57.00" fill="#4a4a4a" stroke="none" stroke-width="0.00"/>
<rect x="160.50" y="786.08" width="62.80" height="31.92" fill="#505050" stroke="none" stroke-width="0.00"/>
<rect x="166.78" y="761.00" width="50.24" height="25.08" fill="#3a3a3a" stroke="none" stroke-width="0.00"/>
<rect x="169.29" y="761.00" width="8.16" height="25.08" fill="#262626" stroke="none" stroke-width="0.00"/>
<rect x="171.49" y="761.00" width="3.77" height="22.80" fill="#585858" stroke="none" stroke-width="0.00"/>
<rect x="205.72" y="761.00" width="8.16" height="25.08" fill="#262626" stroke="none" stroke-width="0.00"/>
<rect x="207.91" y="761.00" width="3.77" height="22.80" fill="#585858" stroke="none" stroke-width="0.00"/>
<rect x="186.88" y="761.00" width="10.05" height="17.10" fill="#4c4c4c" stroke="none" stroke-width="0.00"/>
<path d="M193.78 770.69 C197.55 771.83 200.06 780.95 201.32 787.79 C202.58 792.35 205.72 795.77 208.23 796.34 C213.25 797.48 218.28 799.76 217.02 804.32 C214.51 807.74 212.00 806.60 209.48 806.60 C210.74 811.16 212.00 815.15 212.00 819.14 L174.32 819.14 C174.32 814.58 174.94 811.16 176.20 807.74 C173.06 807.74 168.04 806.60 168.04 803.18 C169.29 799.76 174.32 797.48 178.71 795.20 C180.60 794.63 183.11 791.21 184.99 787.79 C186.25 780.95 189.39 771.83 193.78 770.69 Z" fill="url(#mbody)"/>
<g clip-path="url(#bd40)">
<rect x="160.50" y="761.00" width="62.80" height="57.00" filter="url(#nf41)"/>
</g>
<rect x="160.50" y="761.00" width="62.80" height="57.00" filter="url(#nf42)"/>
<ellipse cx="191.50" cy="786.50" rx="9.80" ry="14.50" fill="#7010ff" transform="rotate(15 191.50 786.50)"/>
<ellipse cx="191.50" cy="786.50" rx="9.02" ry="13.34" fill="#1808ff" transform="rotate(15 191.50 786.50)"/>
<ellipse cx="191.50" cy="786.50" rx="7.15" ry="10.58" fill="#2060ff" transform="rotate(15 191.50 786.50)"/>
<ellipse cx="191.50" cy="786.50" rx="6.76" ry="10.00" fill="#40d8ff" transform="rotate(15 191.50 786.50)"/>
<ellipse cx="191.50" cy="786.50" rx="6.27" ry="9.28" fill="#40f0a0" transform="rotate(15 191.50 786.50)"/>
<ellipse cx="191.50" cy="786.50" rx="5.78" ry="8.55" fill="#40ff20" transform="rotate(15 191.50 786.50)"/>
<ellipse cx="188.00" cy="789.50" rx="3.23" ry="3.53" fill="#a0ff20"/>
<ellipse cx="190.20" cy="780.00" rx="2.94" ry="3.15" fill="#a0ff20"/>
<ellipse cx="188.00" cy="789.50" rx="3.16" ry="3.45" fill="#ffff20"/>
<ellipse cx="190.20" cy="780.00" rx="2.66" ry="2.85" fill="#ffff20"/>
<ellipse cx="188.00" cy="789.50" rx="3.09" ry="3.38" fill="#ff8000"/>
<ellipse cx="190.20" cy="780.00" rx="2.38" ry="2.55" fill="#ff8000"/>
<ellipse cx="188.00" cy="789.50" rx="3.03" ry="3.30" fill="#ff2010"/>
</g>
<g clip-path="url(#cp41)">
<rect x="230.00" y="699.00" width="62.20" height="57.60" fill="#4a4a4a" stroke="none" stroke-width="0.00"/>
<rect x="230.00" y="724.34" width="62.20" height="32.26" fill="#505050" stroke="none" stroke-width="0.00"/>
<rect x="236.22" y="699.00" width="49.76" height="25.34" fill="#3a3a3a" stroke="none" stroke-width="0.00"/>
<rect x="238.71" y="699.00" width="8.09" height="25.34" fill="#262626" stroke="none" stroke-width="0.00"/>
<rect x="240.88" y="699.00" width="3.73" height="23.04" fill="#585858" stroke="none" stroke-width="0.00"/>
<rect x="274.78" y="699.00" width="8.09" height="25.34" fill="#262626" stroke="none" stroke-width="0.00"/>
<rect x="276.96" y="699.00" width="3.73" height="23.04" fill="#585858" stroke="none" stroke-width="0.00"/>
<rect x="256.12" y="699.00" width="9.95" height="17.28" fill="#4c4c4c" stroke="none" stroke-width="0.00"/>
<path d="M262.97 705.91 C266.70 707.06 269.19 716.28 270.43 723.19 C271.67 727.80 274.78 731.26 277.27 734.71 C282.25 735.86 287.22 738.17 285.98 742.78 C283.49 746.23 281.00 745.08 278.52 745.08 C279.76 749.69 281.00 753.72 281.00 757.75 L243.68 757.75 C243.68 753.14 244.31 749.69 245.55 746.23 C242.44 746.23 237.46 745.08 237.46 741.62 C238.71 738.17 243.68 735.86 248.04 733.56 C249.90 730.10 252.39 726.65 254.26 723.19 C255.50 716.28 258.61 707.06 262.97 705.91 Z" fill="url(#mbody)"/>
<g clip-path="url(#bd42)">
<rect x="230.00" y="699.00" width="62.20" height="57.60" filter="url(#nf43)"/>
</g>
<rect x="230.00" y="699.00" width="62.20" height="57.60" filter="url(#nf44)"/>
<ellipse cx="261.60" cy="719.70" rx="9.50" ry="10.50" fill="#7010ff"/>
<ellipse cx="261.60" cy="719.70" rx="8.74" ry="9.66" fill="#1808ff"/>
<ellipse cx="261.60" cy="719.70" rx="6.93" ry="7.67" fill="#2060ff"/>
<ellipse cx="261.60" cy="719.70" rx="6.55" ry="7.24" fill="#40d8ff"/>
<ellipse cx="261.60" cy="719.70" rx="6.08" ry="6.72" fill="#40f0a0"/>
<ellipse cx="261.60" cy="719.70" rx="5.60" ry="6.19" fill="#40ff20"/>
<ellipse cx="261.60" cy="719.70" rx="3.99" ry="4.41" fill="#a0ff20"/>
<ellipse cx="261.60" cy="719.70" rx="3.61" ry="3.99" fill="#ffff20"/>
<ellipse cx="261.60" cy="719.70" rx="3.23" ry="3.57" fill="#ff8000"/>
<ellipse cx="261.60" cy="719.70" rx="2.85" ry="3.15" fill="#ff2010"/>
</g>
<g clip-path="url(#cp43)">
<rect x="230.00" y="761.00" width="62.20" height="57.00" fill="#4a4a4a" stroke="none" stroke-width="0.00"/>
<rect x="230.00" y="786.08" width="62.20" height="31.92" fill="#505050" stroke="none" stroke-width="0.00"/>
<rect x="236.22" y="761.00" width="49.76" height="25.08" fill="#3a3a3a" stroke="none" stroke-width="0.00"/>
<rect x="238.71" y="761.00" width="8.09" height="25.08" fill="#262626" stroke="none" stroke-width="0.00"/>
<rect x="240.88" y="761.00" width="3.73" height="22.80" fill="#585858" stroke="none" stroke-width="0.00"/>
<rect x="274.78" y="761.00" width="8.09" height="25.08" fill="#262626" stroke="none" stroke-width="0.00"/>
<rect x="276.96" y="761.00" width="3.73" height="22.80" fill="#585858" stroke="none" stroke-width="0.00"/>
<rect x="256.12" y="761.00" width="9.95" height="17.10" fill="#4c4c4c" stroke="none" stroke-width="0.00"/>
<path d="M261.10 771.26 C266.08 772.40 269.81 780.95 271.67 789.50 C274.78 792.92 277.27 798.62 278.52 803.18 C283.49 805.46 289.71 806.60 289.71 811.16 C287.22 814.58 283.49 813.44 281.00 814.58 L282.25 819.14 L239.95 819.14 L241.20 814.58 C238.71 814.58 233.11 815.15 232.49 811.16 C233.73 806.60 239.95 806.60 243.68 803.18 C244.93 798.62 247.42 792.92 250.53 789.50 C252.39 780.95 256.12 772.40 261.10 771.26 Z" fill="url(#mbody)"/>
<g clip-path="url(#bd44)">
<rect x="230.00" y="761.00" width="62.20" height="57.00" filter="url(#nf45)"/>
</g>
<rect x="230.00" y="761.00" width="62.20" height="57.00" filter="url(#nf46)"/>
<ellipse cx="259.30" cy="783.20" rx="10.00" ry="13.50" fill="#7010ff"/>
<ellipse cx="259.30" cy="783.20" rx="9.20" ry="12.42" fill="#1808ff"/>
<ellipse cx="259.30" cy="783.20" rx="7.30" ry="9.86" fill="#2060ff"/>
<ellipse cx="259.30" cy="783.20" rx="6.90" ry="9.31" fill="#40d8ff"/>
<ellipse cx="259.30" cy="783.20" rx="6.40" ry="8.64" fill="#40f0a0"/>
<ellipse cx="259.30" cy="783.20" rx="5.90" ry="7.96" fill="#40ff20"/>
<ellipse cx="259.30" cy="783.20" rx="4.20" ry="5.67" fill="#a0ff20"/>
<ellipse cx="259.30" cy="783.20" rx="3.80" ry="5.13" fill="#ffff20"/>
<ellipse cx="259.30" cy="783.20" rx="3.40" ry="4.59" fill="#ff8000"/>
<ellipse cx="259.30" cy="783.20" rx="2.00" ry="2.70" fill="#ff2010"/>
</g>
<g clip-path="url(#cp45)">
<rect x="293.90" y="699.00" width="62.10" height="57.60" fill="#4a4a4a" stroke="none" stroke-width="0.00"/>
<rect x="293.90" y="724.34" width="62.10" height="32.26" fill="#505050" stroke="none" stroke-width="0.00"/>
<rect x="300.11" y="699.00" width="49.68" height="25.34" fill="#3a3a3a" stroke="none" stroke-width="0.00"/>
<rect x="302.59" y="699.00" width="8.07" height="25.34" fill="#262626" stroke="none" stroke-width="0.00"/>
<rect x="304.77" y="699.00" width="3.73" height="23.04" fill="#585858" stroke="none" stroke-width="0.00"/>
<rect x="338.61" y="699.00" width="8.07" height="25.34" fill="#262626" stroke="none" stroke-width="0.00"/>
<rect x="340.79" y="699.00" width="3.73" height="23.04" fill="#585858" stroke="none" stroke-width="0.00"/>
<rect x="319.98" y="699.00" width="9.94" height="17.28" fill="#4c4c4c" stroke="none" stroke-width="0.00"/>
<path d="M326.81 705.91 C330.54 707.06 333.02 716.28 334.26 723.19 C335.51 727.80 338.61 731.26 341.10 734.71 C346.06 735.86 351.03 738.17 349.79 742.78 C347.31 746.23 344.82 745.08 342.34 745.08 C343.58 749.69 344.82 753.72 344.82 757.75 L307.56 757.75 C307.56 753.14 308.18 749.69 309.42 746.23 C306.32 746.23 301.35 745.08 301.35 741.62 C302.59 738.17 307.56 735.86 311.91 733.56 C313.77 730.10 316.26 726.65 318.12 723.19 C319.36 716.28 322.47 707.06 326.81 705.91 Z" fill="url(#mbody)"/>
<g clip-path="url(#bd46)">
<rect x="293.90" y="699.00" width="62.10" height="57.60" filter="url(#nf47)"/>
</g>
<rect x="293.90" y="699.00" width="62.10" height="57.60" filter="url(#nf48)"/>
<ellipse cx="322.80" cy="719.70" rx="9.00" ry="9.50" fill="#7010ff"/>
<ellipse cx="322.80" cy="719.70" rx="8.28" ry="8.74" fill="#1808ff"/>
<ellipse cx="322.80" cy="719.70" rx="6.57" ry="6.93" fill="#2060ff"/>
<ellipse cx="322.80" cy="719.70" rx="6.21" ry="6.55" fill="#40d8ff"/>
<ellipse cx="322.80" cy="719.70" rx="5.76" ry="6.08" fill="#40f0a0"/>
<ellipse cx="322.80" cy="719.70" rx="5.31" ry="5.60" fill="#40ff20"/>
<ellipse cx="322.80" cy="719.70" rx="3.78" ry="3.99" fill="#a0ff20"/>
<ellipse cx="322.80" cy="719.70" rx="3.42" ry="3.61" fill="#ffff20"/>
<ellipse cx="322.80" cy="719.70" rx="3.06" ry="3.23" fill="#ff8000"/>
<ellipse cx="322.80" cy="719.70" rx="2.70" ry="2.85" fill="#ff2010"/>
</g>
<g clip-path="url(#cp47)">
<rect x="293.90" y="761.00" width="62.10" height="57.00" fill="#4a4a4a" stroke="none" stroke-width="0.00"/>
<rect x="293.90" y="786.08" width="62.10" height="31.92" fill="#505050" stroke="none" stroke-width="0.00"/>
<rect x="300.11" y="761.00" width="49.68" height="25.08" fill="#3a3a3a" stroke="none" stroke-width="0.00"/>
<rect x="302.59" y="761.00" width="8.07" height="25.08" fill="#262626" stroke="none" stroke-width="0.00"/>
<rect x="304.77" y="761.00" width="3.73" height="22.80" fill="#585858" stroke="none" stroke-width="0.00"/>
<rect x="338.61" y="761.00" width="8.07" height="25.08" fill="#262626" stroke="none" stroke-width="0.00"/>
<rect x="340.79" y="761.00" width="3.73" height="22.80" fill="#585858" stroke="none" stroke-width="0.00"/>
<rect x="319.98" y="761.00" width="9.94" height="17.10" fill="#4c4c4c" stroke="none" stroke-width="0.00"/>
<path d="M324.95 771.26 C329.92 772.40 333.64 780.95 335.51 789.50 C338.61 792.92 341.10 798.62 342.34 803.18 C347.31 805.46 353.52 806.60 353.52 811.16 C351.03 814.58 347.31 813.44 344.82 814.58 L346.06 819.14 L303.84 819.14 L305.08 814.58 C302.59 814.58 297.00 815.15 296.38 811.16 C297.63 806.60 303.84 806.60 307.56 803.18 C308.80 798.62 311.29 792.92 314.39 789.50 C316.26 780.95 319.98 772.40 324.95 771.26 Z" fill="url(#mbody)"/>
<g clip-path="url(#bd48)">
<rect x="293.90" y="761.00" width="62.10" height="57.00" filter="url(#nf49)"/>
</g>
<rect x="293.90" y="761.00" width="62.10" height="57.00" filter="url(#nf50)"/>
<ellipse cx="324.80" cy="781.80" rx="11.00" ry="11.00" fill="#7010ff"/>
<ellipse cx="324.80" cy="781.80" rx="10.12" ry="10.12" fill="#1808ff"/>
<ellipse cx="324.80" cy="781.80" rx="8.03" ry="8.03" fill="#2060ff"/>
<ellipse cx="324.80" cy="781.80" rx="7.59" ry="7.59" fill="#40d8ff"/>
<ellipse cx="324.80" cy="781.80" rx="7.04" ry="7.04" fill="#40f0a0"/>
<ellipse cx="324.80" cy="781.80" rx="6.60" ry="6.60" fill="#40ff20"/>
<ellipse cx="324.80" cy="781.80" rx="6.19" ry="6.19" fill="#a0ff20"/>
<ellipse cx="324.80" cy="781.80" rx="5.78" ry="5.78" fill="#ffff20"/>
<ellipse cx="324.80" cy="781.80" rx="5.36" ry="5.36" fill="#ff8000"/>
<ellipse cx="324.80" cy="781.80" rx="4.95" ry="4.95" fill="#ff2010"/>
</g>
<g clip-path="url(#cp49)">
<rect x="357.70" y="699.00" width="62.80" height="57.60" fill="#4a4a4a" stroke="none" stroke-width="0.00"/>
<rect x="357.70" y="724.34" width="62.80" height="32.26" fill="#505050" stroke="none" stroke-width="0.00"/>
<rect x="363.98" y="699.00" width="50.24" height="25.34" fill="#3a3a3a" stroke="none" stroke-width="0.00"/>
<rect x="366.49" y="699.00" width="8.16" height="25.34" fill="#262626" stroke="none" stroke-width="0.00"/>
<rect x="368.69" y="699.00" width="3.77" height="23.04" fill="#585858" stroke="none" stroke-width="0.00"/>
<rect x="402.92" y="699.00" width="8.16" height="25.34" fill="#262626" stroke="none" stroke-width="0.00"/>
<rect x="405.11" y="699.00" width="3.77" height="23.04" fill="#585858" stroke="none" stroke-width="0.00"/>
<rect x="384.08" y="699.00" width="10.05" height="17.28" fill="#4c4c4c" stroke="none" stroke-width="0.00"/>
<path d="M390.98 705.91 C394.75 707.06 397.26 716.28 398.52 723.19 C399.78 727.80 402.92 731.26 405.43 734.71 C410.45 735.86 415.48 738.17 414.22 742.78 C411.71 746.23 409.20 745.08 406.68 745.08 C407.94 749.69 409.20 753.72 409.20 757.75 L371.52 757.75 C371.52 753.14 372.14 749.69 373.40 746.23 C370.26 746.23 365.24 745.08 365.24 741.62 C366.49 738.17 371.52 735.86 375.91 733.56 C377.80 730.10 380.31 726.65 382.19 723.19 C383.45 716.28 386.59 707.06 390.98 705.91 Z" fill="url(#mbody)"/>
<g clip-path="url(#bd50)">
<rect x="357.70" y="699.00" width="62.80" height="57.60" filter="url(#nf51)"/>
</g>
<rect x="357.70" y="699.00" width="62.80" height="57.60" filter="url(#nf52)"/>
<ellipse cx="385.40" cy="719.70" rx="9.50" ry="9.50" fill="#7010ff"/>
<ellipse cx="385.40" cy="719.70" rx="8.74" ry="8.74" fill="#1808ff"/>
<ellipse cx="385.40" cy="719.70" rx="6.93" ry="6.93" fill="#2060ff"/>
<ellipse cx="385.40" cy="719.70" rx="6.55" ry="6.55" fill="#40d8ff"/>
<ellipse cx="385.40" cy="719.70" rx="6.08" ry="6.08" fill="#40f0a0"/>
<ellipse cx="385.40" cy="719.70" rx="5.60" ry="5.60" fill="#40ff20"/>
<ellipse cx="385.40" cy="719.70" rx="3.99" ry="3.99" fill="#a0ff20"/>
<ellipse cx="385.40" cy="719.70" rx="3.61" ry="3.61" fill="#ffff20"/>
<ellipse cx="385.40" cy="719.70" rx="3.23" ry="3.23" fill="#ff8000"/>
<ellipse cx="385.40" cy="719.70" rx="2.85" ry="2.85" fill="#ff2010"/>
</g>
<g clip-path="url(#cp51)">
<rect x="357.70" y="761.00" width="62.80" height="57.00" fill="#4a4a4a" stroke="none" stroke-width="0.00"/>
<rect x="357.70" y="786.08" width="62.80" height="31.92" fill="#505050" stroke="none" stroke-width="0.00"/>
<rect x="363.98" y="761.00" width="50.24" height="25.08" fill="#3a3a3a" stroke="none" stroke-width="0.00"/>
<rect x="366.49" y="761.00" width="8.16" height="25.08" fill="#262626" stroke="none" stroke-width="0.00"/>
<rect x="368.69" y="761.00" width="3.77" height="22.80" fill="#585858" stroke="none" stroke-width="0.00"/>
<rect x="402.92" y="761.00" width="8.16" height="25.08" fill="#262626" stroke="none" stroke-width="0.00"/>
<rect x="405.11" y="761.00" width="3.77" height="22.80" fill="#585858" stroke="none" stroke-width="0.00"/>
<rect x="384.08" y="761.00" width="10.05" height="17.10" fill="#4c4c4c" stroke="none" stroke-width="0.00"/>
<path d="M389.10 771.26 C394.12 772.40 397.89 780.95 399.78 789.50 C402.92 792.92 405.43 798.62 406.68 803.18 C411.71 805.46 417.99 806.60 417.99 811.16 C415.48 814.58 411.71 813.44 409.20 814.58 L410.45 819.14 L367.75 819.14 L369.00 814.58 C366.49 814.58 360.84 815.15 360.21 811.16 C361.47 806.60 367.75 806.60 371.52 803.18 C372.77 798.62 375.28 792.92 378.42 789.50 C380.31 780.95 384.08 772.40 389.10 771.26 Z" fill="url(#mbody)"/>
<g clip-path="url(#bd52)">
<rect x="357.70" y="761.00" width="62.80" height="57.00" filter="url(#nf53)"/>
</g>
<rect x="357.70" y="761.00" width="62.80" height="57.00" filter="url(#nf54)"/>
<ellipse cx="386.00" cy="780.40" rx="10.50" ry="11.00" fill="#7010ff"/>
<ellipse cx="386.00" cy="780.40" rx="9.66" ry="10.12" fill="#1808ff"/>
<ellipse cx="386.00" cy="780.40" rx="7.67" ry="8.03" fill="#2060ff"/>
<ellipse cx="386.00" cy="780.40" rx="7.24" ry="7.59" fill="#40d8ff"/>
<ellipse cx="386.00" cy="780.40" rx="6.72" ry="7.04" fill="#40f0a0"/>
<ellipse cx="386.00" cy="780.40" rx="6.30" ry="6.60" fill="#40ff20"/>
<ellipse cx="386.00" cy="780.40" rx="5.64" ry="5.91" fill="#a0ff20"/>
<ellipse cx="386.00" cy="780.40" rx="4.99" ry="5.22" fill="#ffff20"/>
<ellipse cx="386.00" cy="780.40" rx="4.33" ry="4.54" fill="#ff8000"/>
<ellipse cx="386.00" cy="780.40" rx="3.67" ry="3.85" fill="#ff2010"/>
</g>
<g clip-path="url(#cp53)">
<rect x="458.60" y="699.00" width="61.70" height="57.60" fill="#4a4a4a" stroke="none" stroke-width="0.00"/>
<rect x="458.60" y="724.34" width="61.70" height="32.26" fill="#505050" stroke="none" stroke-width="0.00"/>
<rect x="464.77" y="699.00" width="49.36" height="25.34" fill="#3a3a3a" stroke="none" stroke-width="0.00"/>
<rect x="467.24" y="699.00" width="8.02" height="25.34" fill="#262626" stroke="none" stroke-width="0.00"/>
<rect x="469.40" y="699.00" width="3.70" height="23.04" fill="#585858" stroke="none" stroke-width="0.00"/>
<rect x="503.02" y="699.00" width="8.02" height="25.34" fill="#262626" stroke="none" stroke-width="0.00"/>
<rect x="505.18" y="699.00" width="3.70" height="23.04" fill="#585858" stroke="none" stroke-width="0.00"/>
<rect x="484.51" y="699.00" width="9.87" height="17.28" fill="#4c4c4c" stroke="none" stroke-width="0.00"/>
<path d="M489.45 706.49 C494.39 707.64 498.09 716.28 499.94 724.92 C503.02 731.26 505.49 737.02 506.73 741.62 C511.66 743.93 517.83 745.08 517.83 749.69 C515.36 753.14 511.66 751.99 509.19 753.14 L510.43 757.75 L468.47 757.75 L469.71 753.14 C467.24 753.14 461.69 753.72 461.07 749.69 C462.30 745.08 468.47 745.08 472.17 741.62 C473.41 737.02 475.88 731.26 478.96 724.92 C480.81 716.28 484.51 707.64 489.45 706.49 Z" fill="url(#mbody)"/>
<g clip-path="url(#bd54)">
<rect x="458.60" y="699.00" width="61.70" height="57.60" filter="url(#nf55)"/>
</g>
<rect x="458.60" y="699.00" width="61.70" height="57.60" filter="url(#nf56)"/>
<ellipse cx="485.90" cy="721.00" rx="8.00" ry="8.00" fill="#7010ff"/>
<ellipse cx="485.90" cy="721.00" rx="7.36" ry="7.36" fill="#1808ff"/>
<ellipse cx="485.90" cy="721.00" rx="5.84" ry="5.84" fill="#2060ff"/>
<ellipse cx="485.90" cy="721.00" rx="5.52" ry="5.52" fill="#40d8ff"/>
<ellipse cx="485.90" cy="721.00" rx="5.12" ry="5.12" fill="#40f0a0"/>
<ellipse cx="485.90" cy="721.00" rx="4.72" ry="4.72" fill="#40ff20"/>
<ellipse cx="485.90" cy="721.00" rx="3.36" ry="3.36" fill="#a0ff20"/>
<ellipse cx="485.90" cy="721.00" rx="3.04" ry="3.04" fill="#ffff20"/>
<ellipse cx="485.90" cy="721.00" rx="2.72" ry="2.72" fill="#ff8000"/>
<ellipse cx="485.90" cy="721.00" rx="1.60" ry="1.60" fill="#ff2010"/>
</g>
<g clip-path="url(#cp55)">
<rect x="458.60" y="761.00" width="61.70" height="57.00" fill="#4a4a4a" stroke="none" stroke-width="0.00"/>
<rect x="458.60" y="786.08" width="61.70" height="31.92" fill="#505050" stroke="none" stroke-width="0.00"/>
<rect x="464.77" y="761.00" width="49.36" height="25.08" fill="#3a3a3a" stroke="none" stroke-width="0.00"/>
<rect x="467.24" y="761.00" width="8.02" height="25.08" fill="#262626" stroke="none" stroke-width="0.00"/>
<rect x="469.40" y="761.00" width="3.70" height="22.80" fill="#585858" stroke="none" stroke-width="0.00"/>
<rect x="503.02" y="761.00" width="8.02" height="25.08" fill="#262626" stroke="none" stroke-width="0.00"/>
<rect x="505.18" y="761.00" width="3.70" height="22.80" fill="#585858" stroke="none" stroke-width="0.00"/>
<rect x="484.51" y="761.00" width="9.87" height="17.10" fill="#4c4c4c" stroke="none" stroke-width="0.00"/>
<path d="M489.45 771.26 C494.39 772.40 498.09 780.95 499.94 789.50 C503.02 792.92 505.49 798.62 506.73 803.18 C511.66 805.46 517.83 806.60 517.83 811.16 C515.36 814.58 511.66 813.44 509.19 814.58 L510.43 819.14 L468.47 819.14 L469.71 814.58 C467.24 814.58 461.69 815.15 461.07 811.16 C462.30 806.60 468.47 806.60 472.17 803.18 C473.41 798.62 475.88 792.92 478.96 789.50 C480.81 780.95 484.51 772.40 489.45 771.26 Z" fill="url(#mbody)"/>
<g clip-path="url(#bd56)">
<rect x="458.60" y="761.00" width="61.70" height="57.00" filter="url(#nf57)"/>
</g>
<rect x="458.60" y="761.00" width="61.70" height="57.00" filter="url(#nf58)"/>
<ellipse cx="485.20" cy="780.50" rx="9.80" ry="9.60" fill="#7010ff"/>
<ellipse cx="484.80" cy="791.00" rx="7.60" ry="8.20" fill="#7010ff"/>
<ellipse cx="485.20" cy="780.50" rx="9.02" ry="8.83" fill="#1808ff"/>
<ellipse cx="484.80" cy="791.00" rx="6.99" ry="7.54" fill="#1808ff"/>
<ellipse cx="485.20" cy="780.50" rx="7.15" ry="7.01" fill="#2060ff"/>
<ellipse cx="484.80" cy="791.00" rx="5.55" ry="5.99" fill="#2060ff"/>
<ellipse cx="485.20" cy="780.50" rx="6.76" ry="6.62" fill="#40d8ff"/>
<ellipse cx="484.80" cy="791.00" rx="5.24" ry="5.66" fill="#40d8ff"/>
<ellipse cx="485.20" cy="780.50" rx="6.27" ry="6.14" fill="#40f0a0"/>
<ellipse cx="484.80" cy="791.00" rx="4.86" ry="5.25" fill="#40f0a0"/>
<ellipse cx="485.20" cy="780.50" rx="6.47" ry="6.34" fill="#40ff20"/>
<ellipse cx="484.80" cy="791.00" rx="4.48" ry="4.84" fill="#40ff20"/>
<ellipse cx="485.20" cy="780.50" rx="5.88" ry="5.76" fill="#a0ff20"/>
<ellipse cx="484.80" cy="791.00" rx="3.19" ry="3.44" fill="#a0ff20"/>
<ellipse cx="485.20" cy="780.50" rx="5.88" ry="5.76" fill="#ffff20"/>
<ellipse cx="484.80" cy="791.00" rx="2.89" ry="3.12" fill="#ffff20"/>
<ellipse cx="485.20" cy="780.50" rx="5.88" ry="5.76" fill="#ff8000"/>
<ellipse cx="485.20" cy="780.50" rx="5.88" ry="5.76" fill="#ff2010"/>
</g>
<g clip-path="url(#cp57)">
<rect x="522.00" y="699.00" width="61.80" height="57.60" fill="#4a4a4a" stroke="none" stroke-width="0.00"/>
<rect x="522.00" y="724.34" width="61.80" height="32.26" fill="#505050" stroke="none" stroke-width="0.00"/>
<rect x="528.18" y="699.00" width="49.44" height="25.34" fill="#3a3a3a" stroke="none" stroke-width="0.00"/>
<rect x="530.65" y="699.00" width="8.03" height="25.34" fill="#262626" stroke="none" stroke-width="0.00"/>
<rect x="532.81" y="699.00" width="3.71" height="23.04" fill="#585858" stroke="none" stroke-width="0.00"/>
<rect x="566.50" y="699.00" width="8.03" height="25.34" fill="#262626" stroke="none" stroke-width="0.00"/>
<rect x="568.66" y="699.00" width="3.71" height="23.04" fill="#585858" stroke="none" stroke-width="0.00"/>
<rect x="547.96" y="699.00" width="9.89" height="17.28" fill="#4c4c4c" stroke="none" stroke-width="0.00"/>
<path d="M552.90 706.49 C557.84 707.64 561.55 716.28 563.41 724.92 C566.50 731.26 568.97 737.02 570.20 741.62 C575.15 743.93 581.33 745.08 581.33 749.69 C578.86 753.14 575.15 751.99 572.68 753.14 L573.91 757.75 L531.89 757.75 L533.12 753.14 C530.65 753.14 525.09 753.72 524.47 749.69 C525.71 745.08 531.89 745.08 535.60 741.62 C536.83 737.02 539.30 731.26 542.39 724.92 C544.25 716.28 547.96 707.64 552.90 706.49 Z" fill="url(#mbody)"/>
<g clip-path="url(#bd58)">
<rect x="522.00" y="699.00" width="61.80" height="57.60" filter="url(#nf59)"/>
</g>
<rect x="522.00" y="699.00" width="61.80" height="57.60" filter="url(#nf60)"/>
<ellipse cx="550.80" cy="721.00" rx="8.00" ry="8.00" fill="#7010ff"/>
<ellipse cx="550.80" cy="721.00" rx="7.36" ry="7.36" fill="#1808ff"/>
<ellipse cx="550.80" cy="721.00" rx="5.84" ry="5.84" fill="#2060ff"/>
<ellipse cx="550.80" cy="721.00" rx="5.52" ry="5.52" fill="#40d8ff"/>
<ellipse cx="550.80" cy="721.00" rx="5.12" ry="5.12" fill="#40f0a0"/>
<ellipse cx="550.80" cy="721.00" rx="4.72" ry="4.72" fill="#40ff20"/>
<ellipse cx="550.80" cy="721.00" rx="3.36" ry="3.36" fill="#a0ff20"/>
<ellipse cx="550.80" cy="721.00" rx="3.04" ry="3.04" fill="#ffff20"/>
<ellipse cx="550.80" cy="721.00" rx="2.72" ry="2.72" fill="#ff8000"/>
<ellipse cx="550.80" cy="721.00" rx="2.00" ry="2.00" fill="#ff2010"/>
</g>
<g clip-path="url(#cp59)">
<rect x="522.00" y="761.00" width="61.80" height="57.00" fill="#4a4a4a" stroke="none" stroke-width="0.00"/>
<rect x="522.00" y="786.08" width="61.80" height="31.92" fill="#505050" stroke="none" stroke-width="0.00"/>
<rect x="528.18" y="761.00" width="49.44" height="25.08" fill="#3a3a3a" stroke="none" stroke-width="0.00"/>
<rect x="530.65" y="761.00" width="8.03" height="25.08" fill="#262626" stroke="none" stroke-width="0.00"/>
<rect x="532.81" y="761.00" width="3.71" height="22.80" fill="#585858" stroke="none" stroke-width="0.00"/>
<rect x="566.50" y="761.00" width="8.03" height="25.08" fill="#262626" stroke="none" stroke-width="0.00"/>
<rect x="568.66" y="761.00" width="3.71" height="22.80" fill="#585858" stroke="none" stroke-width="0.00"/>
<rect x="547.96" y="761.00" width="9.89" height="17.10" fill="#4c4c4c" stroke="none" stroke-width="0.00"/>
<path d="M552.90 771.26 C557.84 772.40 561.55 780.95 563.41 789.50 C566.50 792.92 568.97 798.62 570.20 803.18 C575.15 805.46 581.33 806.60 581.33 811.16 C578.86 814.58 575.15 813.44 572.68 814.58 L573.91 819.14 L531.89 819.14 L533.12 814.58 C530.65 814.58 525.09 815.15 524.47 811.16 C525.71 806.60 531.89 806.60 535.60 803.18 C536.83 798.62 539.30 792.92 542.39 789.50 C544.25 780.95 547.96 772.40 552.90 771.26 Z" fill="url(#mbody)"/>
<g clip-path="url(#bd60)">
<rect x="522.00" y="761.00" width="61.80" height="57.00" filter="url(#nf61)"/>
</g>
<rect x="522.00" y="761.00" width="61.80" height="57.00" filter="url(#nf62)"/>
<ellipse cx="550.00" cy="780.40" rx="10.00" ry="10.50" fill="#7010ff"/>
<ellipse cx="550.00" cy="780.40" rx="9.20" ry="9.66" fill="#1808ff"/>
<ellipse cx="550.00" cy="780.40" rx="7.30" ry="7.67" fill="#2060ff"/>
<ellipse cx="550.00" cy="780.40" rx="6.90" ry="7.24" fill="#40d8ff"/>
<ellipse cx="550.00" cy="780.40" rx="6.40" ry="6.72" fill="#40f0a0"/>
<ellipse cx="550.00" cy="780.40" rx="6.00" ry="6.30" fill="#40ff20"/>
<ellipse cx="550.00" cy="780.40" rx="5.75" ry="6.04" fill="#a0ff20"/>
<ellipse cx="550.00" cy="780.40" rx="5.50" ry="5.78" fill="#ffff20"/>
<ellipse cx="550.00" cy="780.40" rx="5.25" ry="5.51" fill="#ff8000"/>
<ellipse cx="550.00" cy="780.40" rx="5.00" ry="5.25" fill="#ff2010"/>
</g>
<g clip-path="url(#cp61)">
<rect x="586.20" y="699.00" width="62.80" height="57.60" fill="#4a4a4a" stroke="none" stroke-width="0.00"/>
<rect x="586.20" y="724.34" width="62.80" height="32.26" fill="#505050" stroke="none" stroke-width="0.00"/>
<rect x="592.48" y="699.00" width="50.24" height="25.34" fill="#3a3a3a" stroke="none" stroke-width="0.00"/>
<rect x="594.99" y="699.00" width="8.16" height="25.34" fill="#262626" stroke="none" stroke-width="0.00"/>
<rect x="597.19" y="699.00" width="3.77" height="23.04" fill="#585858" stroke="none" stroke-width="0.00"/>
<rect x="631.42" y="699.00" width="8.16" height="25.34" fill="#262626" stroke="none" stroke-width="0.00"/>
<rect x="633.61" y="699.00" width="3.77" height="23.04" fill="#585858" stroke="none" stroke-width="0.00"/>
<rect x="612.58" y="699.00" width="10.05" height="17.28" fill="#4c4c4c" stroke="none" stroke-width="0.00"/>
<path d="M617.60 706.49 C622.62 707.64 626.39 716.28 628.28 724.92 C631.42 731.26 633.93 737.02 635.18 741.62 C640.21 743.93 646.49 745.08 646.49 749.69 C643.98 753.14 640.21 751.99 637.70 753.14 L638.95 757.75 L596.25 757.75 L597.50 753.14 C594.99 753.14 589.34 753.72 588.71 749.69 C589.97 745.08 596.25 745.08 600.02 741.62 C601.27 737.02 603.78 731.26 606.92 724.92 C608.81 716.28 612.58 707.64 617.60 706.49 Z" fill="url(#mbody)"/>
<g clip-path="url(#bd62)">
<rect x="586.20" y="699.00" width="62.80" height="57.60" filter="url(#nf63)"/>
</g>
<rect x="586.20" y="699.00" width="62.80" height="57.60" filter="url(#nf64)"/>
<ellipse cx="616.80" cy="721.00" rx="8.50" ry="8.00" fill="#7010ff"/>
<ellipse cx="616.80" cy="721.00" rx="7.82" ry="7.36" fill="#1808ff"/>
<ellipse cx="616.80" cy="721.00" rx="6.21" ry="5.84" fill="#2060ff"/>
<ellipse cx="616.80" cy="721.00" rx="5.86" ry="5.52" fill="#40d8ff"/>
<ellipse cx="616.80" cy="721.00" rx="5.44" ry="5.12" fill="#40f0a0"/>
<ellipse cx="616.80" cy="721.00" rx="5.01" ry="4.72" fill="#40ff20"/>
<ellipse cx="616.80" cy="721.00" rx="3.57" ry="3.36" fill="#a0ff20"/>
<ellipse cx="616.80" cy="721.00" rx="3.23" ry="3.04" fill="#ffff20"/>
<ellipse cx="616.80" cy="721.00" rx="2.89" ry="2.72" fill="#ff8000"/>
<ellipse cx="616.80" cy="721.00" rx="1.70" ry="1.60" fill="#ff2010"/>
</g>
<g clip-path="url(#cp63)">
<rect x="586.20" y="761.00" width="62.80" height="57.00" fill="#4a4a4a" stroke="none" stroke-width="0.00"/>
<rect x="586.20" y="786.08" width="62.80" height="31.92" fill="#505050" stroke="none" stroke-width="0.00"/>
<rect x="592.48" y="761.00" width="50.24" height="25.08" fill="#3a3a3a" stroke="none" stroke-width="0.00"/>
<rect x="594.99" y="761.00" width="8.16" height="25.08" fill="#262626" stroke="none" stroke-width="0.00"/>
<rect x="597.19" y="761.00" width="3.77" height="22.80" fill="#585858" stroke="none" stroke-width="0.00"/>
<rect x="631.42" y="761.00" width="8.16" height="25.08" fill="#262626" stroke="none" stroke-width="0.00"/>
<rect x="633.61" y="761.00" width="3.77" height="22.80" fill="#585858" stroke="none" stroke-width="0.00"/>
<rect x="612.58" y="761.00" width="10.05" height="17.10" fill="#4c4c4c" stroke="none" stroke-width="0.00"/>
<path d="M617.60 771.26 C622.62 772.40 626.39 780.95 628.28 789.50 C631.42 792.92 633.93 798.62 635.18 803.18 C640.21 805.46 646.49 806.60 646.49 811.16 C643.98 814.58 640.21 813.44 637.70 814.58 L638.95 819.14 L596.25 819.14 L597.50 814.58 C594.99 814.58 589.34 815.15 588.71 811.16 C589.97 806.60 596.25 806.60 600.02 803.18 C601.27 798.62 603.78 792.92 606.92 789.50 C608.81 780.95 612.58 772.40 617.60 771.26 Z" fill="url(#mbody)"/>
<g clip-path="url(#bd64)">
<rect x="586.20" y="761.00" width="62.80" height="57.00" filter="url(#nf65)"/>
</g>
<rect x="586.20" y="761.00" width="62.80" height="57.00" filter="url(#nf66)"/>
<ellipse cx="616.80" cy="780.40" rx="11.00" ry="10.50" fill="#7010ff"/>
<ellipse cx="616.80" cy="780.40" rx="10.12" ry="9.66" fill="#1808ff"/>
<ellipse cx="616.80" cy="780.40" rx="8.03" ry="7.67" fill="#2060ff"/>
<ellipse cx="616.80" cy="780.40" rx="7.59" ry="7.24" fill="#40d8ff"/>
<ellipse cx="616.80" cy="780.40" rx="7.04" ry="6.72" fill="#40f0a0"/>
<ellipse cx="616.80" cy="780.40" rx="6.71" ry="6.41" fill="#40ff20"/>
<ellipse cx="616.80" cy="780.40" rx="6.46" ry="6.17" fill="#a0ff20"/>
<ellipse cx="616.80" cy="780.40" rx="6.32" ry="6.04" fill="#ffff20"/>
<ellipse cx="616.80" cy="780.40" rx="6.19" ry="5.91" fill="#ff8000"/>
<ellipse cx="616.80" cy="780.40" rx="6.05" ry="5.78" fill="#ff2010"/>
</g>
<rect x="425.10" y="700.50" width="6.2" height="117.00" fill="url(#cbg65)"/>
<line x1="431.30" y1="817.50" x2="435.70" y2="817.50" stroke="#000" stroke-width="0.90"/>
<line x1="431.30" y1="810.90" x2="435.70" y2="810.90" stroke="#000" stroke-width="0.90"/>
<line x1="431.30" y1="804.30" x2="435.70" y2="804.30" stroke="#000" stroke-width="0.90"/>
<line x1="431.30" y1="797.70" x2="435.70" y2="797.70" stroke="#000" stroke-width="0.90"/>
<line x1="431.30" y1="791.10" x2="435.70" y2="791.10" stroke="#000" stroke-width="0.90"/>
<line x1="431.30" y1="784.50" x2="435.70" y2="784.50" stroke="#000" stroke-width="0.90"/>
<line x1="431.30" y1="777.90" x2="435.70" y2="777.90" stroke="#000" stroke-width="0.90"/>
<line x1="431.30" y1="771.30" x2="435.70" y2="771.30" stroke="#000" stroke-width="0.90"/>
<line x1="431.30" y1="764.70" x2="435.70" y2="764.70" stroke="#000" stroke-width="0.90"/>
<line x1="431.30" y1="758.10" x2="435.70" y2="758.10" stroke="#000" stroke-width="0.90"/>
<line x1="431.30" y1="751.50" x2="435.70" y2="751.50" stroke="#000" stroke-width="0.90"/>
<line x1="431.30" y1="744.90" x2="435.70" y2="744.90" stroke="#000" stroke-width="0.90"/>
<line x1="431.30" y1="738.30" x2="435.70" y2="738.30" stroke="#000" stroke-width="0.90"/>
<line x1="431.30" y1="731.70" x2="435.70" y2="731.70" stroke="#000" stroke-width="0.90"/>
<line x1="431.30" y1="725.10" x2="435.70" y2="725.10" stroke="#000" stroke-width="0.90"/>
<line x1="431.30" y1="718.50" x2="435.70" y2="718.50" stroke="#000" stroke-width="0.90"/>
<line x1="431.30" y1="711.90" x2="435.70" y2="711.90" stroke="#000" stroke-width="0.90"/>
<line x1="431.30" y1="705.30" x2="435.70" y2="705.30" stroke="#000" stroke-width="0.90"/>
<text x="437.20" y="727.10" font-size="7.30" text-anchor="start" font-weight="bold" fill="#000">6.0</text>
<text x="437.20" y="759.90" font-size="7.30" text-anchor="start" font-weight="bold" fill="#000">4.0</text>
<text x="437.20" y="792.80" font-size="7.30" text-anchor="start" font-weight="bold" fill="#000">2.0</text>
<text x="437.00" y="712.50" font-size="7.30" text-anchor="start" font-weight="bold" fill="#000">x10<tspan font-size="5.2" dy="-3">8</tspan></text>
<rect x="652.10" y="701.00" width="6.2" height="116.90" fill="url(#cbg66)"/>
<line x1="658.30" y1="811.90" x2="662.70" y2="811.90" stroke="#000" stroke-width="0.90"/>
<line x1="658.30" y1="804.30" x2="662.70" y2="804.30" stroke="#000" stroke-width="0.90"/>
<line x1="658.30" y1="796.70" x2="662.70" y2="796.70" stroke="#000" stroke-width="0.90"/>
<line x1="658.30" y1="789.10" x2="662.70" y2="789.10" stroke="#000" stroke-width="0.90"/>
<line x1="658.30" y1="781.50" x2="662.70" y2="781.50" stroke="#000" stroke-width="0.90"/>
<line x1="658.30" y1="773.90" x2="662.70" y2="773.90" stroke="#000" stroke-width="0.90"/>
<line x1="658.30" y1="766.30" x2="662.70" y2="766.30" stroke="#000" stroke-width="0.90"/>
<line x1="658.30" y1="758.70" x2="662.70" y2="758.70" stroke="#000" stroke-width="0.90"/>
<line x1="658.30" y1="751.10" x2="662.70" y2="751.10" stroke="#000" stroke-width="0.90"/>
<line x1="658.30" y1="743.50" x2="662.70" y2="743.50" stroke="#000" stroke-width="0.90"/>
<line x1="658.30" y1="735.90" x2="662.70" y2="735.90" stroke="#000" stroke-width="0.90"/>
<line x1="658.30" y1="728.30" x2="662.70" y2="728.30" stroke="#000" stroke-width="0.90"/>
<line x1="658.30" y1="720.70" x2="662.70" y2="720.70" stroke="#000" stroke-width="0.90"/>
<line x1="658.30" y1="713.10" x2="662.70" y2="713.10" stroke="#000" stroke-width="0.90"/>
<line x1="658.30" y1="705.50" x2="662.70" y2="705.50" stroke="#000" stroke-width="0.90"/>
<text x="664.20" y="715.70" font-size="7.30" text-anchor="start" font-weight="bold" fill="#000">1.5</text>
<text x="664.20" y="753.90" font-size="7.30" text-anchor="start" font-weight="bold" fill="#000">1.0</text>
<text x="664.20" y="791.90" font-size="7.30" text-anchor="start" font-weight="bold" fill="#000">0.5</text>
<text x="664.00" y="705.00" font-size="7.30" text-anchor="start" font-weight="bold" fill="#000">x10<tspan font-size="5.2" dy="-3">9</tspan></text>
<text x="435.30" y="828.70" font-size="8.80" text-anchor="middle" font-weight="bold" fill="#000">Luciferase</text>
<text x="661.50" y="829.30" font-size="8.80" text-anchor="middle" font-weight="bold" fill="#000">Luciferase</text>
<line x1="37.30" y1="858.80" x2="37.30" y2="943.30" stroke="#000" stroke-width="1.70"/>
<line x1="32.90" y1="942.70" x2="37.30" y2="942.70" stroke="#000" stroke-width="1.70"/>
<text x="31.10" y="945.80" font-size="8.60" text-anchor="end" font-weight="bold" fill="#000">0</text>
<line x1="32.90" y1="921.90" x2="37.30" y2="921.90" stroke="#000" stroke-width="1.70"/>
<text x="31.10" y="925.00" font-size="8.60" text-anchor="end" font-weight="bold" fill="#000">25</text>
<line x1="32.90" y1="901.00" x2="37.30" y2="901.00" stroke="#000" stroke-width="1.70"/>
<text x="31.10" y="904.10" font-size="8.60" text-anchor="end" font-weight="bold" fill="#000">50</text>
<line x1="32.90" y1="880.10" x2="37.30" y2="880.10" stroke="#000" stroke-width="1.70"/>
<text x="31.10" y="883.20" font-size="8.60" text-anchor="end" font-weight="bold" fill="#000">75</text>
<line x1="32.90" y1="859.40" x2="37.30" y2="859.40" stroke="#000" stroke-width="1.70"/>
<text x="31.10" y="862.50" font-size="8.60" text-anchor="end" font-weight="bold" fill="#000">100</text>
<line x1="36.60" y1="942.70" x2="236.00" y2="942.70" stroke="#000" stroke-width="1.70"/>
<line x1="53.60" y1="942.70" x2="53.60" y2="947.10" stroke="#000" stroke-width="1.40"/>
<line x1="86.40" y1="942.70" x2="86.40" y2="947.10" stroke="#000" stroke-width="1.40"/>
<line x1="119.60" y1="942.70" x2="119.60" y2="947.10" stroke="#000" stroke-width="1.40"/>
<line x1="152.60" y1="942.70" x2="152.60" y2="947.10" stroke="#000" stroke-width="1.40"/>
<line x1="185.40" y1="942.70" x2="185.40" y2="947.10" stroke="#000" stroke-width="1.40"/>
<line x1="218.40" y1="942.70" x2="218.40" y2="947.10" stroke="#000" stroke-width="1.40"/>
<rect x="41.20" y="922.71" width="6.00" height="19.99" fill="#ffffff" stroke="#000" stroke-width="1.30"/>
<line x1="44.20" y1="922.71" x2="44.20" y2="918.54" stroke="#000" stroke-width="1.30"/>
<line x1="42.30" y1="918.54" x2="46.10" y2="918.54" stroke="#000" stroke-width="1.30"/>
<circle cx="44.20" cy="918.54" r="1.20" fill="none" stroke="#333" stroke-width="0.6"/>
<circle cx="42.80" cy="924.58" r="1.20" fill="none" stroke="#333" stroke-width="0.6"/>
<circle cx="45.60" cy="925.00" r="1.20" fill="none" stroke="#333" stroke-width="0.6"/>
<rect x="50.60" y="925.21" width="6.00" height="17.49" fill="#e6aaa0" stroke="#000" stroke-width="1.30"/>
<line x1="53.60" y1="925.21" x2="53.60" y2="909.38" stroke="#000" stroke-width="1.30"/>
<line x1="51.70" y1="909.38" x2="55.50" y2="909.38" stroke="#000" stroke-width="1.30"/>
<circle cx="53.60" cy="909.38" r="1.20" fill="none" stroke="#333" stroke-width="0.6"/>
<circle cx="52.20" cy="932.33" r="1.20" fill="none" stroke="#333" stroke-width="0.6"/>
<circle cx="55.00" cy="933.91" r="1.20" fill="none" stroke="#333" stroke-width="0.6"/>
<rect x="60.00" y="923.54" width="6.00" height="19.16" fill="#c2666e" stroke="#000" stroke-width="1.30"/>
<line x1="63.00" y1="923.54" x2="63.00" y2="909.38" stroke="#000" stroke-width="1.30"/>
<line x1="61.10" y1="909.38" x2="64.90" y2="909.38" stroke="#000" stroke-width="1.30"/>
<circle cx="63.00" cy="909.38" r="1.20" fill="none" stroke="#333" stroke-width="0.6"/>
<circle cx="61.60" cy="929.91" r="1.20" fill="none" stroke="#333" stroke-width="0.6"/>
<circle cx="64.40" cy="931.33" r="1.20" fill="none" stroke="#333" stroke-width="0.6"/>
<rect x="74.00" y="918.54" width="6.00" height="24.16" fill="#ffffff" stroke="#000" stroke-width="1.30"/>
<line x1="77.00" y1="918.54" x2="77.00" y2="900.22" stroke="#000" stroke-width="1.30"/>
<line x1="75.10" y1="900.22" x2="78.90" y2="900.22" stroke="#000" stroke-width="1.30"/>
<circle cx="77.00" cy="900.22" r="1.20" fill="none" stroke="#333" stroke-width="0.6"/>
<circle cx="75.60" cy="926.79" r="1.20" fill="none" stroke="#333" stroke-width="0.6"/>
<circle cx="78.40" cy="928.62" r="1.20" fill="none" stroke="#333" stroke-width="0.6"/>
<rect x="83.40" y="925.21" width="6.00" height="17.49" fill="#e6aaa0" stroke="#000" stroke-width="1.30"/>
<line x1="86.40" y1="925.21" x2="86.40" y2="906.88" stroke="#000" stroke-width="1.30"/>
<line x1="84.50" y1="906.88" x2="88.30" y2="906.88" stroke="#000" stroke-width="1.30"/>
<circle cx="86.40" cy="906.88" r="1.20" fill="none" stroke="#333" stroke-width="0.6"/>
<circle cx="85.00" cy="933.45" r="1.20" fill="none" stroke="#333" stroke-width="0.6"/>
<circle cx="87.80" cy="935.29" r="1.20" fill="none" stroke="#333" stroke-width="0.6"/>
<rect x="92.80" y="926.87" width="6.00" height="15.83" fill="#c2666e" stroke="#000" stroke-width="1.30"/>
<line x1="95.80" y1="926.87" x2="95.80" y2="911.88" stroke="#000" stroke-width="1.30"/>
<line x1="93.90" y1="911.88" x2="97.70" y2="911.88" stroke="#000" stroke-width="1.30"/>
<circle cx="95.80" cy="911.88" r="1.20" fill="none" stroke="#333" stroke-width="0.6"/>
<circle cx="94.40" cy="933.62" r="1.20" fill="none" stroke="#333" stroke-width="0.6"/>
<circle cx="97.20" cy="935.12" r="1.20" fill="none" stroke="#333" stroke-width="0.6"/>
<rect x="107.20" y="879.39" width="6.00" height="63.31" fill="#ffffff" stroke="#000" stroke-width="1.30"/>
<line x1="110.20" y1="879.39" x2="110.20" y2="863.57" stroke="#000" stroke-width="1.30"/>
<line x1="108.30" y1="863.57" x2="112.10" y2="863.57" stroke="#000" stroke-width="1.30"/>
<circle cx="110.20" cy="863.56" r="1.20" fill="none" stroke="#333" stroke-width="0.6"/>
<circle cx="108.80" cy="886.51" r="1.20" fill="none" stroke="#333" stroke-width="0.6"/>
<circle cx="111.60" cy="888.10" r="1.20" fill="none" stroke="#333" stroke-width="0.6"/>
<rect x="116.60" y="878.56" width="6.00" height="64.14" fill="#e6aaa0" stroke="#000" stroke-width="1.30"/>
<line x1="119.60" y1="878.56" x2="119.60" y2="865.23" stroke="#000" stroke-width="1.30"/>
<line x1="117.70" y1="865.23" x2="121.50" y2="865.23" stroke="#000" stroke-width="1.30"/>
<circle cx="119.60" cy="865.23" r="1.20" fill="none" stroke="#333" stroke-width="0.6"/>
<circle cx="118.20" cy="884.56" r="1.20" fill="none" stroke="#333" stroke-width="0.6"/>
<circle cx="121.00" cy="885.89" r="1.20" fill="none" stroke="#333" stroke-width="0.6"/>
<rect x="126.00" y="892.72" width="6.00" height="49.98" fill="#c2666e" stroke="#000" stroke-width="1.30"/>
<line x1="129.00" y1="892.72" x2="129.00" y2="865.23" stroke="#000" stroke-width="1.30"/>
<line x1="127.10" y1="865.23" x2="130.90" y2="865.23" stroke="#000" stroke-width="1.30"/>
<circle cx="129.00" cy="865.23" r="1.20" fill="none" stroke="#333" stroke-width="0.6"/>
<circle cx="127.60" cy="905.09" r="1.20" fill="none" stroke="#333" stroke-width="0.6"/>
<circle cx="130.40" cy="907.84" r="1.20" fill="none" stroke="#333" stroke-width="0.6"/>
<rect x="140.20" y="941.87" width="6.00" height="0.83" fill="#ffffff" stroke="#000" stroke-width="1.30"/>
<circle cx="143.20" cy="941.87" r="1.20" fill="none" stroke="#333" stroke-width="0.6"/>
<circle cx="141.80" cy="941.87" r="1.20" fill="none" stroke="#333" stroke-width="0.6"/>
<circle cx="144.60" cy="941.87" r="1.20" fill="none" stroke="#333" stroke-width="0.6"/>
<rect x="149.60" y="941.87" width="6.00" height="0.83" fill="#e6aaa0" stroke="#000" stroke-width="1.30"/>
<circle cx="152.60" cy="941.87" r="1.20" fill="none" stroke="#333" stroke-width="0.6"/>
<circle cx="151.20" cy="941.87" r="1.20" fill="none" stroke="#333" stroke-width="0.6"/>
<circle cx="154.00" cy="941.87" r="1.20" fill="none" stroke="#333" stroke-width="0.6"/>
<rect x="159.00" y="941.87" width="6.00" height="0.83" fill="#c2666e" stroke="#000" stroke-width="1.30"/>
<circle cx="162.00" cy="941.87" r="1.20" fill="none" stroke="#333" stroke-width="0.6"/>
<circle cx="160.60" cy="941.87" r="1.20" fill="none" stroke="#333" stroke-width="0.6"/>
<circle cx="163.40" cy="941.87" r="1.20" fill="none" stroke="#333" stroke-width="0.6"/>
<rect x="173.00" y="941.03" width="6.00" height="1.67" fill="#ffffff" stroke="#000" stroke-width="1.30"/>
<line x1="176.00" y1="941.03" x2="176.00" y2="940.62" stroke="#000" stroke-width="1.30"/>
<line x1="174.10" y1="940.62" x2="177.90" y2="940.62" stroke="#000" stroke-width="1.30"/>
<circle cx="176.00" cy="940.62" r="1.20" fill="none" stroke="#333" stroke-width="0.6"/>
<circle cx="174.60" cy="941.22" r="1.20" fill="none" stroke="#333" stroke-width="0.6"/>
<circle cx="177.40" cy="941.26" r="1.20" fill="none" stroke="#333" stroke-width="0.6"/>
<rect x="182.40" y="938.54" width="6.00" height="4.17" fill="#e6aaa0" stroke="#000" stroke-width="1.30"/>
<line x1="185.40" y1="938.54" x2="185.40" y2="937.70" stroke="#000" stroke-width="1.30"/>
<line x1="183.50" y1="937.70" x2="187.30" y2="937.70" stroke="#000" stroke-width="1.30"/>
<circle cx="185.40" cy="937.70" r="1.20" fill="none" stroke="#333" stroke-width="0.6"/>
<circle cx="184.00" cy="938.91" r="1.20" fill="none" stroke="#333" stroke-width="0.6"/>
<circle cx="186.80" cy="938.99" r="1.20" fill="none" stroke="#333" stroke-width="0.6"/>
<rect x="191.80" y="937.70" width="6.00" height="5.00" fill="#c2666e" stroke="#000" stroke-width="1.30"/>
<line x1="194.80" y1="937.70" x2="194.80" y2="936.87" stroke="#000" stroke-width="1.30"/>
<line x1="192.90" y1="936.87" x2="196.70" y2="936.87" stroke="#000" stroke-width="1.30"/>
<circle cx="194.80" cy="936.87" r="1.20" fill="none" stroke="#333" stroke-width="0.6"/>
<circle cx="193.40" cy="938.08" r="1.20" fill="none" stroke="#333" stroke-width="0.6"/>
<circle cx="196.20" cy="938.16" r="1.20" fill="none" stroke="#333" stroke-width="0.6"/>
<rect x="206.00" y="933.54" width="6.00" height="9.16" fill="#ffffff" stroke="#000" stroke-width="1.30"/>
<line x1="209.00" y1="933.54" x2="209.00" y2="930.21" stroke="#000" stroke-width="1.30"/>
<line x1="207.10" y1="930.21" x2="210.90" y2="930.21" stroke="#000" stroke-width="1.30"/>
<circle cx="209.00" cy="930.21" r="1.20" fill="none" stroke="#333" stroke-width="0.6"/>
<circle cx="207.60" cy="935.04" r="1.20" fill="none" stroke="#333" stroke-width="0.6"/>
<circle cx="210.40" cy="935.37" r="1.20" fill="none" stroke="#333" stroke-width="0.6"/>
<rect x="215.40" y="916.04" width="6.00" height="26.66" fill="#e6aaa0" stroke="#000" stroke-width="1.30"/>
<line x1="218.40" y1="916.04" x2="218.40" y2="906.05" stroke="#000" stroke-width="1.30"/>
<line x1="216.50" y1="906.05" x2="220.30" y2="906.05" stroke="#000" stroke-width="1.30"/>
<circle cx="218.40" cy="906.05" r="1.20" fill="none" stroke="#333" stroke-width="0.6"/>
<circle cx="217.00" cy="920.54" r="1.20" fill="none" stroke="#333" stroke-width="0.6"/>
<circle cx="219.80" cy="921.54" r="1.20" fill="none" stroke="#333" stroke-width="0.6"/>
<rect x="224.80" y="911.88" width="6.00" height="30.82" fill="#c2666e" stroke="#000" stroke-width="1.30"/>
<line x1="227.80" y1="911.88" x2="227.80" y2="905.22" stroke="#000" stroke-width="1.30"/>
<line x1="225.90" y1="905.22" x2="229.70" y2="905.22" stroke="#000" stroke-width="1.30"/>
<circle cx="227.80" cy="905.22" r="1.20" fill="none" stroke="#333" stroke-width="0.6"/>
<circle cx="226.40" cy="914.88" r="1.20" fill="none" stroke="#333" stroke-width="0.6"/>
<circle cx="229.20" cy="915.54" r="1.20" fill="none" stroke="#333" stroke-width="0.6"/>
<line x1="137.00" y1="860.40" x2="137.00" y2="942.70" stroke="#000" stroke-width="1.90" stroke-dasharray="3.4,2.0"/>
<line x1="175.00" y1="922.00" x2="196.60" y2="922.00" stroke="#000" stroke-width="1.40"/>
<text x="185.80" y="925.30" font-size="14.00" text-anchor="middle" font-weight="bold" fill="#000">*</text>
<line x1="175.00" y1="932.00" x2="186.00" y2="932.00" stroke="#000" stroke-width="1.40"/>
<text x="180.50" y="935.30" font-size="14.00" text-anchor="middle" font-weight="bold" fill="#000">*</text>
<line x1="208.00" y1="891.40" x2="229.60" y2="891.40" stroke="#000" stroke-width="1.40"/>
<text x="218.80" y="894.70" font-size="14.00" text-anchor="middle" font-weight="bold" fill="#000">*</text>
<line x1="208.00" y1="900.40" x2="219.00" y2="900.40" stroke="#000" stroke-width="1.40"/>
<text x="213.50" y="903.70" font-size="14.00" text-anchor="middle" font-weight="bold" fill="#000">*</text>
<text x="53.60" y="959.50" font-size="10.20" text-anchor="middle" font-weight="bold" fill="#000">10 d</text>
<text x="86.40" y="959.50" font-size="10.20" text-anchor="middle" font-weight="bold" fill="#000">20 d</text>
<text x="119.60" y="959.50" font-size="10.20" text-anchor="middle" font-weight="bold" fill="#000">30 d</text>
<text x="152.60" y="959.50" font-size="10.20" text-anchor="middle" font-weight="bold" fill="#000">10 d</text>
<text x="185.40" y="959.50" font-size="10.20" text-anchor="middle" font-weight="bold" fill="#000">20 d</text>
<text x="218.40" y="959.50" font-size="10.20" text-anchor="middle" font-weight="bold" fill="#000">30 d</text>
<line x1="53.60" y1="963.50" x2="119.60" y2="963.50" stroke="#000" stroke-width="1.40"/>
<line x1="152.60" y1="963.50" x2="218.40" y2="963.50" stroke="#000" stroke-width="1.40"/>
<text x="86.60" y="975.80" font-size="10.00" text-anchor="middle" font-weight="bold" fill="#000">Tongue</text>
<text x="185.50" y="975.80" font-size="10.00" text-anchor="middle" font-weight="bold" fill="#000">Lymph node</text>
<text x="137.00" y="836.50" font-size="11.50" text-anchor="middle" font-weight="bold" fill="#000">HK1</text>
<text x="12.60" y="901.00" font-size="11.60" text-anchor="middle" font-weight="bold" fill="#000" transform="rotate(-90 12.6 901)">Photon flux (x10<tspan font-size="7.6" dy="-4.6">8</tspan><tspan dy="4.6">)</tspan></text>
<line x1="259.70" y1="860.10" x2="259.70" y2="943.20" stroke="#000" stroke-width="1.70"/>
<line x1="255.30" y1="942.60" x2="259.70" y2="942.60" stroke="#000" stroke-width="1.70"/>
<text x="253.50" y="945.70" font-size="8.60" text-anchor="end" font-weight="bold" fill="#000">0</text>
<line x1="255.30" y1="922.10" x2="259.70" y2="922.10" stroke="#000" stroke-width="1.70"/>
<text x="253.50" y="925.20" font-size="8.60" text-anchor="end" font-weight="bold" fill="#000">25</text>
<line x1="255.30" y1="901.60" x2="259.70" y2="901.60" stroke="#000" stroke-width="1.70"/>
<text x="253.50" y="904.70" font-size="8.60" text-anchor="end" font-weight="bold" fill="#000">50</text>
<line x1="255.30" y1="881.10" x2="259.70" y2="881.10" stroke="#000" stroke-width="1.70"/>
<text x="253.50" y="884.20" font-size="8.60" text-anchor="end" font-weight="bold" fill="#000">75</text>
<line x1="255.30" y1="860.70" x2="259.70" y2="860.70" stroke="#000" stroke-width="1.70"/>
<text x="253.50" y="863.80" font-size="8.60" text-anchor="end" font-weight="bold" fill="#000">100</text>
<line x1="259.00" y1="942.60" x2="455.00" y2="942.60" stroke="#000" stroke-width="1.70"/>
<line x1="276.40" y1="942.60" x2="276.40" y2="947.00" stroke="#000" stroke-width="1.40"/>
<line x1="309.00" y1="942.60" x2="309.00" y2="947.00" stroke="#000" stroke-width="1.40"/>
<line x1="341.90" y1="942.60" x2="341.90" y2="947.00" stroke="#000" stroke-width="1.40"/>
<line x1="374.40" y1="942.60" x2="374.40" y2="947.00" stroke="#000" stroke-width="1.40"/>
<line x1="408.00" y1="942.60" x2="408.00" y2="947.00" stroke="#000" stroke-width="1.40"/>
<line x1="440.60" y1="942.60" x2="440.60" y2="947.00" stroke="#000" stroke-width="1.40"/>
<rect x="264.00" y="924.58" width="6.00" height="18.02" fill="#ffffff" stroke="#000" stroke-width="1.30"/>
<line x1="267.00" y1="924.58" x2="267.00" y2="909.84" stroke="#000" stroke-width="1.30"/>
<line x1="265.10" y1="909.84" x2="268.90" y2="909.84" stroke="#000" stroke-width="1.30"/>
<circle cx="267.00" cy="909.84" r="1.20" fill="none" stroke="#333" stroke-width="0.6"/>
<circle cx="265.60" cy="931.22" r="1.20" fill="none" stroke="#333" stroke-width="0.6"/>
<circle cx="268.40" cy="932.69" r="1.20" fill="none" stroke="#333" stroke-width="0.6"/>
<rect x="273.40" y="923.76" width="6.00" height="18.84" fill="#c8dff2" stroke="#000" stroke-width="1.30"/>
<line x1="276.40" y1="923.76" x2="276.40" y2="918.03" stroke="#000" stroke-width="1.30"/>
<line x1="274.50" y1="918.03" x2="278.30" y2="918.03" stroke="#000" stroke-width="1.30"/>
<circle cx="276.40" cy="918.03" r="1.20" fill="none" stroke="#333" stroke-width="0.6"/>
<circle cx="275.00" cy="926.34" r="1.20" fill="none" stroke="#333" stroke-width="0.6"/>
<circle cx="277.80" cy="926.92" r="1.20" fill="none" stroke="#333" stroke-width="0.6"/>
<rect x="282.80" y="922.12" width="6.00" height="20.47" fill="#7fb3dd" stroke="#000" stroke-width="1.30"/>
<line x1="285.80" y1="922.12" x2="285.80" y2="913.93" stroke="#000" stroke-width="1.30"/>
<line x1="283.90" y1="913.93" x2="287.70" y2="913.93" stroke="#000" stroke-width="1.30"/>
<circle cx="285.80" cy="913.94" r="1.20" fill="none" stroke="#333" stroke-width="0.6"/>
<circle cx="284.40" cy="925.81" r="1.20" fill="none" stroke="#333" stroke-width="0.6"/>
<circle cx="287.20" cy="926.63" r="1.20" fill="none" stroke="#333" stroke-width="0.6"/>
<rect x="296.60" y="909.84" width="6.00" height="32.76" fill="#ffffff" stroke="#000" stroke-width="1.30"/>
<line x1="299.60" y1="909.84" x2="299.60" y2="893.46" stroke="#000" stroke-width="1.30"/>
<line x1="297.70" y1="893.46" x2="301.50" y2="893.46" stroke="#000" stroke-width="1.30"/>
<circle cx="299.60" cy="893.46" r="1.20" fill="none" stroke="#333" stroke-width="0.6"/>
<circle cx="298.20" cy="917.21" r="1.20" fill="none" stroke="#333" stroke-width="0.6"/>
<circle cx="301.00" cy="918.85" r="1.20" fill="none" stroke="#333" stroke-width="0.6"/>
<rect x="306.00" y="924.58" width="6.00" height="18.02" fill="#c8dff2" stroke="#000" stroke-width="1.30"/>
<line x1="309.00" y1="924.58" x2="309.00" y2="913.12" stroke="#000" stroke-width="1.30"/>
<line x1="307.10" y1="913.12" x2="310.90" y2="913.12" stroke="#000" stroke-width="1.30"/>
<circle cx="309.00" cy="913.12" r="1.20" fill="none" stroke="#333" stroke-width="0.6"/>
<circle cx="307.60" cy="929.74" r="1.20" fill="none" stroke="#333" stroke-width="0.6"/>
<circle cx="310.40" cy="930.89" r="1.20" fill="none" stroke="#333" stroke-width="0.6"/>
<rect x="315.40" y="924.58" width="6.00" height="18.02" fill="#7fb3dd" stroke="#000" stroke-width="1.30"/>
<line x1="318.40" y1="924.58" x2="318.40" y2="912.30" stroke="#000" stroke-width="1.30"/>
<line x1="316.50" y1="912.30" x2="320.30" y2="912.30" stroke="#000" stroke-width="1.30"/>
<circle cx="318.40" cy="912.30" r="1.20" fill="none" stroke="#333" stroke-width="0.6"/>
<circle cx="317.00" cy="930.11" r="1.20" fill="none" stroke="#333" stroke-width="0.6"/>
<circle cx="319.80" cy="931.34" r="1.20" fill="none" stroke="#333" stroke-width="0.6"/>
<rect x="329.50" y="894.28" width="6.00" height="48.32" fill="#ffffff" stroke="#000" stroke-width="1.30"/>
<line x1="332.50" y1="894.28" x2="332.50" y2="869.71" stroke="#000" stroke-width="1.30"/>
<line x1="330.60" y1="869.71" x2="334.40" y2="869.71" stroke="#000" stroke-width="1.30"/>
<circle cx="332.50" cy="869.71" r="1.20" fill="none" stroke="#333" stroke-width="0.6"/>
<circle cx="331.10" cy="905.34" r="1.20" fill="none" stroke="#333" stroke-width="0.6"/>
<circle cx="333.90" cy="907.79" r="1.20" fill="none" stroke="#333" stroke-width="0.6"/>
<rect x="338.90" y="888.55" width="6.00" height="54.05" fill="#c8dff2" stroke="#000" stroke-width="1.30"/>
<line x1="341.90" y1="888.55" x2="341.90" y2="866.43" stroke="#000" stroke-width="1.30"/>
<line x1="340.00" y1="866.43" x2="343.80" y2="866.43" stroke="#000" stroke-width="1.30"/>
<circle cx="341.90" cy="866.43" r="1.20" fill="none" stroke="#333" stroke-width="0.6"/>
<circle cx="340.50" cy="898.50" r="1.20" fill="none" stroke="#333" stroke-width="0.6"/>
<circle cx="343.30" cy="900.71" r="1.20" fill="none" stroke="#333" stroke-width="0.6"/>
<rect x="348.30" y="895.92" width="6.00" height="46.68" fill="#7fb3dd" stroke="#000" stroke-width="1.30"/>
<line x1="351.30" y1="895.92" x2="351.30" y2="868.89" stroke="#000" stroke-width="1.30"/>
<line x1="349.40" y1="868.89" x2="353.20" y2="868.89" stroke="#000" stroke-width="1.30"/>
<circle cx="351.30" cy="868.89" r="1.20" fill="none" stroke="#333" stroke-width="0.6"/>
<circle cx="349.90" cy="908.08" r="1.20" fill="none" stroke="#333" stroke-width="0.6"/>
<circle cx="352.70" cy="910.78" r="1.20" fill="none" stroke="#333" stroke-width="0.6"/>
<rect x="362.00" y="940.96" width="6.00" height="1.64" fill="#ffffff" stroke="#000" stroke-width="1.30"/>
<line x1="365.00" y1="940.96" x2="365.00" y2="940.14" stroke="#000" stroke-width="1.30"/>
<line x1="363.10" y1="940.14" x2="366.90" y2="940.14" stroke="#000" stroke-width="1.30"/>
<circle cx="365.00" cy="940.14" r="1.20" fill="none" stroke="#333" stroke-width="0.6"/>
<circle cx="363.60" cy="941.33" r="1.20" fill="none" stroke="#333" stroke-width="0.6"/>
<circle cx="366.40" cy="941.41" r="1.20" fill="none" stroke="#333" stroke-width="0.6"/>
<rect x="371.40" y="941.78" width="6.00" height="0.82" fill="#c8dff2" stroke="#000" stroke-width="1.30"/>
<line x1="374.40" y1="941.78" x2="374.40" y2="941.37" stroke="#000" stroke-width="1.30"/>
<line x1="372.50" y1="941.37" x2="376.30" y2="941.37" stroke="#000" stroke-width="1.30"/>
<circle cx="374.40" cy="941.37" r="1.20" fill="none" stroke="#333" stroke-width="0.6"/>
<circle cx="373.00" cy="941.97" r="1.20" fill="none" stroke="#333" stroke-width="0.6"/>
<circle cx="375.80" cy="942.01" r="1.20" fill="none" stroke="#333" stroke-width="0.6"/>
<rect x="380.80" y="941.78" width="6.00" height="0.82" fill="#7fb3dd" stroke="#000" stroke-width="1.30"/>
<line x1="383.80" y1="941.78" x2="383.80" y2="941.37" stroke="#000" stroke-width="1.30"/>
<line x1="381.90" y1="941.37" x2="385.70" y2="941.37" stroke="#000" stroke-width="1.30"/>
<circle cx="383.80" cy="941.37" r="1.20" fill="none" stroke="#333" stroke-width="0.6"/>
<circle cx="382.40" cy="941.97" r="1.20" fill="none" stroke="#333" stroke-width="0.6"/>
<circle cx="385.20" cy="942.01" r="1.20" fill="none" stroke="#333" stroke-width="0.6"/>
<rect x="395.60" y="940.14" width="6.00" height="2.46" fill="#ffffff" stroke="#000" stroke-width="1.30"/>
<line x1="398.60" y1="940.14" x2="398.60" y2="939.32" stroke="#000" stroke-width="1.30"/>
<line x1="396.70" y1="939.32" x2="400.50" y2="939.32" stroke="#000" stroke-width="1.30"/>
<circle cx="398.60" cy="939.32" r="1.20" fill="none" stroke="#333" stroke-width="0.6"/>
<circle cx="397.20" cy="940.51" r="1.20" fill="none" stroke="#333" stroke-width="0.6"/>
<circle cx="400.00" cy="940.59" r="1.20" fill="none" stroke="#333" stroke-width="0.6"/>
<rect x="405.00" y="941.78" width="6.00" height="0.82" fill="#c8dff2" stroke="#000" stroke-width="1.30"/>
<line x1="408.00" y1="941.78" x2="408.00" y2="941.37" stroke="#000" stroke-width="1.30"/>
<line x1="406.10" y1="941.37" x2="409.90" y2="941.37" stroke="#000" stroke-width="1.30"/>
<circle cx="408.00" cy="941.37" r="1.20" fill="none" stroke="#333" stroke-width="0.6"/>
<circle cx="406.60" cy="941.97" r="1.20" fill="none" stroke="#333" stroke-width="0.6"/>
<circle cx="409.40" cy="942.01" r="1.20" fill="none" stroke="#333" stroke-width="0.6"/>
<rect x="414.40" y="941.78" width="6.00" height="0.82" fill="#7fb3dd" stroke="#000" stroke-width="1.30"/>
<line x1="417.40" y1="941.78" x2="417.40" y2="941.37" stroke="#000" stroke-width="1.30"/>
<line x1="415.50" y1="941.37" x2="419.30" y2="941.37" stroke="#000" stroke-width="1.30"/>
<circle cx="417.40" cy="941.37" r="1.20" fill="none" stroke="#333" stroke-width="0.6"/>
<circle cx="416.00" cy="941.97" r="1.20" fill="none" stroke="#333" stroke-width="0.6"/>
<circle cx="418.80" cy="942.01" r="1.20" fill="none" stroke="#333" stroke-width="0.6"/>
<rect x="428.20" y="925.40" width="6.00" height="17.20" fill="#ffffff" stroke="#000" stroke-width="1.30"/>
<line x1="431.20" y1="925.40" x2="431.20" y2="920.49" stroke="#000" stroke-width="1.30"/>
<line x1="429.30" y1="920.49" x2="433.10" y2="920.49" stroke="#000" stroke-width="1.30"/>
<circle cx="431.20" cy="920.49" r="1.20" fill="none" stroke="#333" stroke-width="0.6"/>
<circle cx="429.80" cy="927.61" r="1.20" fill="none" stroke="#333" stroke-width="0.6"/>
<circle cx="432.60" cy="928.10" r="1.20" fill="none" stroke="#333" stroke-width="0.6"/>
<rect x="437.60" y="937.69" width="6.00" height="4.91" fill="#c8dff2" stroke="#000" stroke-width="1.30"/>
<line x1="440.60" y1="937.69" x2="440.60" y2="934.41" stroke="#000" stroke-width="1.30"/>
<line x1="438.70" y1="934.41" x2="442.50" y2="934.41" stroke="#000" stroke-width="1.30"/>
<circle cx="440.60" cy="934.41" r="1.20" fill="none" stroke="#333" stroke-width="0.6"/>
<circle cx="439.20" cy="939.16" r="1.20" fill="none" stroke="#333" stroke-width="0.6"/>
<circle cx="442.00" cy="939.49" r="1.20" fill="none" stroke="#333" stroke-width="0.6"/>
<rect x="447.00" y="936.87" width="6.00" height="5.73" fill="#7fb3dd" stroke="#000" stroke-width="1.30"/>
<line x1="450.00" y1="936.87" x2="450.00" y2="932.77" stroke="#000" stroke-width="1.30"/>
<line x1="448.10" y1="932.77" x2="451.90" y2="932.77" stroke="#000" stroke-width="1.30"/>
<circle cx="450.00" cy="932.77" r="1.20" fill="none" stroke="#333" stroke-width="0.6"/>
<circle cx="448.60" cy="938.71" r="1.20" fill="none" stroke="#333" stroke-width="0.6"/>
<circle cx="451.40" cy="939.12" r="1.20" fill="none" stroke="#333" stroke-width="0.6"/>
<line x1="359.30" y1="861.70" x2="359.30" y2="942.60" stroke="#000" stroke-width="1.90" stroke-dasharray="3.4,2.0"/>
<line x1="399.00" y1="922.40" x2="419.00" y2="922.40" stroke="#000" stroke-width="1.40"/>
<text x="409.00" y="925.70" font-size="14.00" text-anchor="middle" font-weight="bold" fill="#000">*</text>
<line x1="399.00" y1="931.80" x2="408.00" y2="931.80" stroke="#000" stroke-width="1.40"/>
<text x="403.50" y="935.10" font-size="14.00" text-anchor="middle" font-weight="bold" fill="#000">*</text>
<line x1="430.50" y1="902.20" x2="451.70" y2="902.20" stroke="#000" stroke-width="1.40"/>
<text x="441.10" y="905.50" font-size="14.00" text-anchor="middle" font-weight="bold" fill="#000">*</text>
<line x1="430.50" y1="912.30" x2="440.60" y2="912.30" stroke="#000" stroke-width="1.40"/>
<text x="435.55" y="915.60" font-size="14.00" text-anchor="middle" font-weight="bold" fill="#000">*</text>
<text x="276.40" y="959.50" font-size="10.20" text-anchor="middle" font-weight="bold" fill="#000">10 d</text>
<text x="309.00" y="959.50" font-size="10.20" text-anchor="middle" font-weight="bold" fill="#000">20 d</text>
<text x="341.90" y="959.50" font-size="10.20" text-anchor="middle" font-weight="bold" fill="#000">30 d</text>
<text x="374.40" y="959.50" font-size="10.20" text-anchor="middle" font-weight="bold" fill="#000">10 d</text>
<text x="408.00" y="959.50" font-size="10.20" text-anchor="middle" font-weight="bold" fill="#000">20 d</text>
<text x="440.60" y="959.50" font-size="10.20" text-anchor="middle" font-weight="bold" fill="#000">30 d</text>
<line x1="276.40" y1="963.50" x2="341.90" y2="963.50" stroke="#000" stroke-width="1.40"/>
<line x1="374.40" y1="963.50" x2="440.60" y2="963.50" stroke="#000" stroke-width="1.40"/>
<text x="309.15" y="975.80" font-size="10.00" text-anchor="middle" font-weight="bold" fill="#000">Tongue</text>
<text x="407.50" y="975.80" font-size="10.00" text-anchor="middle" font-weight="bold" fill="#000">Lymph node</text>
<text x="358.80" y="836.80" font-size="11.50" text-anchor="middle" font-weight="bold" fill="#000">HK1</text>
<line x1="485.20" y1="863.10" x2="485.20" y2="943.80" stroke="#000" stroke-width="1.70"/>
<line x1="480.80" y1="943.20" x2="485.20" y2="943.20" stroke="#000" stroke-width="1.70"/>
<text x="479.00" y="946.30" font-size="8.60" text-anchor="end" font-weight="bold" fill="#000">0</text>
<line x1="480.80" y1="923.30" x2="485.20" y2="923.30" stroke="#000" stroke-width="1.70"/>
<text x="479.00" y="926.40" font-size="8.60" text-anchor="end" font-weight="bold" fill="#000">50</text>
<line x1="480.80" y1="903.40" x2="485.20" y2="903.40" stroke="#000" stroke-width="1.70"/>
<text x="479.00" y="906.50" font-size="8.60" text-anchor="end" font-weight="bold" fill="#000">100</text>
<line x1="480.80" y1="883.60" x2="485.20" y2="883.60" stroke="#000" stroke-width="1.70"/>
<text x="479.00" y="886.70" font-size="8.60" text-anchor="end" font-weight="bold" fill="#000">150</text>
<line x1="480.80" y1="863.70" x2="485.20" y2="863.70" stroke="#000" stroke-width="1.70"/>
<text x="479.00" y="866.80" font-size="8.60" text-anchor="end" font-weight="bold" fill="#000">200</text>
<line x1="484.50" y1="943.20" x2="683.00" y2="943.20" stroke="#000" stroke-width="1.70"/>
<line x1="502.00" y1="943.20" x2="502.00" y2="947.60" stroke="#000" stroke-width="1.40"/>
<line x1="534.60" y1="943.20" x2="534.60" y2="947.60" stroke="#000" stroke-width="1.40"/>
<line x1="567.50" y1="943.20" x2="567.50" y2="947.60" stroke="#000" stroke-width="1.40"/>
<line x1="600.00" y1="943.20" x2="600.00" y2="947.60" stroke="#000" stroke-width="1.40"/>
<line x1="633.00" y1="943.20" x2="633.00" y2="947.60" stroke="#000" stroke-width="1.40"/>
<line x1="665.90" y1="943.20" x2="665.90" y2="947.60" stroke="#000" stroke-width="1.40"/>
<rect x="489.60" y="926.11" width="6.00" height="17.09" fill="#ffffff" stroke="#000" stroke-width="1.30"/>
<line x1="492.60" y1="926.11" x2="492.60" y2="920.94" stroke="#000" stroke-width="1.30"/>
<line x1="490.70" y1="920.94" x2="494.50" y2="920.94" stroke="#000" stroke-width="1.30"/>
<circle cx="492.60" cy="920.94" r="1.20" fill="none" stroke="#333" stroke-width="0.6"/>
<circle cx="491.20" cy="928.43" r="1.20" fill="none" stroke="#333" stroke-width="0.6"/>
<circle cx="494.00" cy="928.95" r="1.20" fill="none" stroke="#333" stroke-width="0.6"/>
<rect x="499.00" y="924.92" width="6.00" height="18.29" fill="#c8dff2" stroke="#000" stroke-width="1.30"/>
<line x1="502.00" y1="924.92" x2="502.00" y2="916.97" stroke="#000" stroke-width="1.30"/>
<line x1="500.10" y1="916.97" x2="503.90" y2="916.97" stroke="#000" stroke-width="1.30"/>
<circle cx="502.00" cy="916.97" r="1.20" fill="none" stroke="#333" stroke-width="0.6"/>
<circle cx="500.60" cy="928.49" r="1.20" fill="none" stroke="#333" stroke-width="0.6"/>
<circle cx="503.40" cy="929.29" r="1.20" fill="none" stroke="#333" stroke-width="0.6"/>
<rect x="508.40" y="926.50" width="6.00" height="16.70" fill="#7fb3dd" stroke="#000" stroke-width="1.30"/>
<line x1="511.40" y1="926.50" x2="511.40" y2="916.57" stroke="#000" stroke-width="1.30"/>
<line x1="509.50" y1="916.57" x2="513.30" y2="916.57" stroke="#000" stroke-width="1.30"/>
<circle cx="511.40" cy="916.57" r="1.20" fill="none" stroke="#333" stroke-width="0.6"/>
<circle cx="510.00" cy="930.98" r="1.20" fill="none" stroke="#333" stroke-width="0.6"/>
<circle cx="512.80" cy="931.97" r="1.20" fill="none" stroke="#333" stroke-width="0.6"/>
<rect x="522.20" y="911.00" width="6.00" height="32.20" fill="#ffffff" stroke="#000" stroke-width="1.30"/>
<line x1="525.20" y1="911.00" x2="525.20" y2="907.82" stroke="#000" stroke-width="1.30"/>
<line x1="523.30" y1="907.82" x2="527.10" y2="907.82" stroke="#000" stroke-width="1.30"/>
<circle cx="525.20" cy="907.82" r="1.20" fill="none" stroke="#333" stroke-width="0.6"/>
<circle cx="523.80" cy="912.43" r="1.20" fill="none" stroke="#333" stroke-width="0.6"/>
<circle cx="526.60" cy="912.75" r="1.20" fill="none" stroke="#333" stroke-width="0.6"/>
<rect x="531.60" y="908.62" width="6.00" height="34.58" fill="#c8dff2" stroke="#000" stroke-width="1.30"/>
<line x1="534.60" y1="908.62" x2="534.60" y2="902.66" stroke="#000" stroke-width="1.30"/>
<line x1="532.70" y1="902.66" x2="536.50" y2="902.66" stroke="#000" stroke-width="1.30"/>
<circle cx="534.60" cy="902.66" r="1.20" fill="none" stroke="#333" stroke-width="0.6"/>
<circle cx="533.20" cy="911.30" r="1.20" fill="none" stroke="#333" stroke-width="0.6"/>
<circle cx="536.00" cy="911.90" r="1.20" fill="none" stroke="#333" stroke-width="0.6"/>
<rect x="541.00" y="914.18" width="6.00" height="29.02" fill="#7fb3dd" stroke="#000" stroke-width="1.30"/>
<line x1="544.00" y1="914.18" x2="544.00" y2="912.20" stroke="#000" stroke-width="1.30"/>
<line x1="542.10" y1="912.20" x2="545.90" y2="912.20" stroke="#000" stroke-width="1.30"/>
<circle cx="544.00" cy="912.20" r="1.20" fill="none" stroke="#333" stroke-width="0.6"/>
<circle cx="542.60" cy="915.08" r="1.20" fill="none" stroke="#333" stroke-width="0.6"/>
<circle cx="545.40" cy="915.28" r="1.20" fill="none" stroke="#333" stroke-width="0.6"/>
<rect x="555.10" y="879.60" width="6.00" height="63.60" fill="#ffffff" stroke="#000" stroke-width="1.30"/>
<line x1="558.10" y1="879.60" x2="558.10" y2="871.65" stroke="#000" stroke-width="1.30"/>
<line x1="556.20" y1="871.65" x2="560.00" y2="871.65" stroke="#000" stroke-width="1.30"/>
<circle cx="558.10" cy="871.65" r="1.20" fill="none" stroke="#333" stroke-width="0.6"/>
<circle cx="556.70" cy="883.18" r="1.20" fill="none" stroke="#333" stroke-width="0.6"/>
<circle cx="559.50" cy="883.97" r="1.20" fill="none" stroke="#333" stroke-width="0.6"/>
<rect x="564.50" y="888.74" width="6.00" height="54.46" fill="#c8dff2" stroke="#000" stroke-width="1.30"/>
<line x1="567.50" y1="888.74" x2="567.50" y2="883.97" stroke="#000" stroke-width="1.30"/>
<line x1="565.60" y1="883.97" x2="569.40" y2="883.97" stroke="#000" stroke-width="1.30"/>
<circle cx="567.50" cy="883.97" r="1.20" fill="none" stroke="#333" stroke-width="0.6"/>
<circle cx="566.10" cy="890.89" r="1.20" fill="none" stroke="#333" stroke-width="0.6"/>
<circle cx="568.90" cy="891.37" r="1.20" fill="none" stroke="#333" stroke-width="0.6"/>
<rect x="573.90" y="884.37" width="6.00" height="58.83" fill="#7fb3dd" stroke="#000" stroke-width="1.30"/>
<line x1="576.90" y1="884.37" x2="576.90" y2="867.67" stroke="#000" stroke-width="1.30"/>
<line x1="575.00" y1="867.67" x2="578.80" y2="867.67" stroke="#000" stroke-width="1.30"/>
<circle cx="576.90" cy="867.68" r="1.20" fill="none" stroke="#333" stroke-width="0.6"/>
<circle cx="575.50" cy="891.88" r="1.20" fill="none" stroke="#333" stroke-width="0.6"/>
<circle cx="578.30" cy="893.55" r="1.20" fill="none" stroke="#333" stroke-width="0.6"/>
<rect x="587.60" y="942.01" width="6.00" height="1.19" fill="#ffffff" stroke="#000" stroke-width="1.30"/>
<line x1="590.60" y1="942.01" x2="590.60" y2="941.61" stroke="#000" stroke-width="1.30"/>
<line x1="588.70" y1="941.61" x2="592.50" y2="941.61" stroke="#000" stroke-width="1.30"/>
<circle cx="590.60" cy="941.61" r="1.20" fill="none" stroke="#333" stroke-width="0.6"/>
<circle cx="589.20" cy="942.19" r="1.20" fill="none" stroke="#333" stroke-width="0.6"/>
<circle cx="592.00" cy="942.23" r="1.20" fill="none" stroke="#333" stroke-width="0.6"/>
<rect x="597.00" y="942.41" width="6.00" height="0.80" fill="#c8dff2" stroke="#000" stroke-width="1.30"/>
<line x1="600.00" y1="942.41" x2="600.00" y2="942.01" stroke="#000" stroke-width="1.30"/>
<line x1="598.10" y1="942.01" x2="601.90" y2="942.01" stroke="#000" stroke-width="1.30"/>
<circle cx="600.00" cy="942.01" r="1.20" fill="none" stroke="#333" stroke-width="0.6"/>
<circle cx="598.60" cy="942.58" r="1.20" fill="none" stroke="#333" stroke-width="0.6"/>
<circle cx="601.40" cy="942.62" r="1.20" fill="none" stroke="#333" stroke-width="0.6"/>
<rect x="606.40" y="942.41" width="6.00" height="0.80" fill="#7fb3dd" stroke="#000" stroke-width="1.30"/>
<line x1="609.40" y1="942.41" x2="609.40" y2="942.01" stroke="#000" stroke-width="1.30"/>
<line x1="607.50" y1="942.01" x2="611.30" y2="942.01" stroke="#000" stroke-width="1.30"/>
<circle cx="609.40" cy="942.01" r="1.20" fill="none" stroke="#333" stroke-width="0.6"/>
<circle cx="608.00" cy="942.58" r="1.20" fill="none" stroke="#333" stroke-width="0.6"/>
<circle cx="610.80" cy="942.62" r="1.20" fill="none" stroke="#333" stroke-width="0.6"/>
<rect x="620.60" y="939.23" width="6.00" height="3.98" fill="#ffffff" stroke="#000" stroke-width="1.30"/>
<line x1="623.60" y1="939.23" x2="623.60" y2="938.43" stroke="#000" stroke-width="1.30"/>
<line x1="621.70" y1="938.43" x2="625.50" y2="938.43" stroke="#000" stroke-width="1.30"/>
<circle cx="623.60" cy="938.43" r="1.20" fill="none" stroke="#333" stroke-width="0.6"/>
<circle cx="622.20" cy="939.58" r="1.20" fill="none" stroke="#333" stroke-width="0.6"/>
<circle cx="625.00" cy="939.66" r="1.20" fill="none" stroke="#333" stroke-width="0.6"/>
<rect x="630.00" y="941.21" width="6.00" height="1.99" fill="#c8dff2" stroke="#000" stroke-width="1.30"/>
<line x1="633.00" y1="941.21" x2="633.00" y2="940.82" stroke="#000" stroke-width="1.30"/>
<line x1="631.10" y1="940.82" x2="634.90" y2="940.82" stroke="#000" stroke-width="1.30"/>
<circle cx="633.00" cy="940.82" r="1.20" fill="none" stroke="#333" stroke-width="0.6"/>
<circle cx="631.60" cy="941.39" r="1.20" fill="none" stroke="#333" stroke-width="0.6"/>
<circle cx="634.40" cy="941.43" r="1.20" fill="none" stroke="#333" stroke-width="0.6"/>
<rect x="639.40" y="941.61" width="6.00" height="1.59" fill="#7fb3dd" stroke="#000" stroke-width="1.30"/>
<line x1="642.40" y1="941.61" x2="642.40" y2="941.21" stroke="#000" stroke-width="1.30"/>
<line x1="640.50" y1="941.21" x2="644.30" y2="941.21" stroke="#000" stroke-width="1.30"/>
<circle cx="642.40" cy="941.21" r="1.20" fill="none" stroke="#333" stroke-width="0.6"/>
<circle cx="641.00" cy="941.79" r="1.20" fill="none" stroke="#333" stroke-width="0.6"/>
<circle cx="643.80" cy="941.83" r="1.20" fill="none" stroke="#333" stroke-width="0.6"/>
<rect x="653.50" y="926.11" width="6.00" height="17.09" fill="#ffffff" stroke="#000" stroke-width="1.30"/>
<line x1="656.50" y1="926.11" x2="656.50" y2="920.15" stroke="#000" stroke-width="1.30"/>
<line x1="654.60" y1="920.15" x2="658.40" y2="920.15" stroke="#000" stroke-width="1.30"/>
<circle cx="656.50" cy="920.15" r="1.20" fill="none" stroke="#333" stroke-width="0.6"/>
<circle cx="655.10" cy="928.79" r="1.20" fill="none" stroke="#333" stroke-width="0.6"/>
<circle cx="657.90" cy="929.39" r="1.20" fill="none" stroke="#333" stroke-width="0.6"/>
<rect x="662.90" y="939.23" width="6.00" height="3.98" fill="#c8dff2" stroke="#000" stroke-width="1.30"/>
<line x1="665.90" y1="939.23" x2="665.90" y2="938.43" stroke="#000" stroke-width="1.30"/>
<line x1="664.00" y1="938.43" x2="667.80" y2="938.43" stroke="#000" stroke-width="1.30"/>
<circle cx="665.90" cy="938.43" r="1.20" fill="none" stroke="#333" stroke-width="0.6"/>
<circle cx="664.50" cy="939.58" r="1.20" fill="none" stroke="#333" stroke-width="0.6"/>
<circle cx="667.30" cy="939.66" r="1.20" fill="none" stroke="#333" stroke-width="0.6"/>
<rect x="672.30" y="937.63" width="6.00" height="5.57" fill="#7fb3dd" stroke="#000" stroke-width="1.30"/>
<line x1="675.30" y1="937.63" x2="675.30" y2="936.44" stroke="#000" stroke-width="1.30"/>
<line x1="673.40" y1="936.44" x2="677.20" y2="936.44" stroke="#000" stroke-width="1.30"/>
<circle cx="675.30" cy="936.44" r="1.20" fill="none" stroke="#333" stroke-width="0.6"/>
<circle cx="673.90" cy="938.17" r="1.20" fill="none" stroke="#333" stroke-width="0.6"/>
<circle cx="676.70" cy="938.29" r="1.20" fill="none" stroke="#333" stroke-width="0.6"/>
<line x1="584.30" y1="864.70" x2="584.30" y2="943.20" stroke="#000" stroke-width="1.90" stroke-dasharray="3.4,2.0"/>
<line x1="622.90" y1="922.40" x2="644.00" y2="922.40" stroke="#000" stroke-width="1.40"/>
<text x="633.45" y="925.70" font-size="14.00" text-anchor="middle" font-weight="bold" fill="#000">*</text>
<line x1="622.90" y1="930.80" x2="633.00" y2="930.80" stroke="#000" stroke-width="1.40"/>
<text x="627.95" y="934.10" font-size="14.00" text-anchor="middle" font-weight="bold" fill="#000">*</text>
<line x1="655.80" y1="903.00" x2="677.30" y2="903.00" stroke="#000" stroke-width="1.40"/>
<text x="666.55" y="906.30" font-size="14.00" text-anchor="middle" font-weight="bold" fill="#000">*</text>
<line x1="655.80" y1="913.00" x2="666.00" y2="913.00" stroke="#000" stroke-width="1.40"/>
<text x="660.90" y="916.30" font-size="14.00" text-anchor="middle" font-weight="bold" fill="#000">*</text>
<text x="502.00" y="959.50" font-size="10.20" text-anchor="middle" font-weight="bold" fill="#000">10 d</text>
<text x="534.60" y="959.50" font-size="10.20" text-anchor="middle" font-weight="bold" fill="#000">20 d</text>
<text x="567.50" y="959.50" font-size="10.20" text-anchor="middle" font-weight="bold" fill="#000">30 d</text>
<text x="600.00" y="959.50" font-size="10.20" text-anchor="middle" font-weight="bold" fill="#000">10 d</text>
<text x="633.00" y="959.50" font-size="10.20" text-anchor="middle" font-weight="bold" fill="#000">20 d</text>
<text x="665.90" y="959.50" font-size="10.20" text-anchor="middle" font-weight="bold" fill="#000">30 d</text>
<line x1="502.00" y1="963.50" x2="567.50" y2="963.50" stroke="#000" stroke-width="1.40"/>
<line x1="600.00" y1="963.50" x2="665.90" y2="963.50" stroke="#000" stroke-width="1.40"/>
<text x="534.75" y="975.80" font-size="10.00" text-anchor="middle" font-weight="bold" fill="#000">Tongue</text>
<text x="632.95" y="975.80" font-size="10.00" text-anchor="middle" font-weight="bold" fill="#000">Lymph node</text>
<text x="584.30" y="837.30" font-size="11.50" text-anchor="middle" font-weight="bold" fill="#000">FaDu</text>
<rect x="42.25" y="846.20" width="11.00" height="5.00" fill="#ffffff" stroke="#000" stroke-width="1.30"/>
<text x="62.00" y="852.60" font-size="10.10" text-anchor="start" font-weight="bold" fill="#000">vector</text>
<rect x="103.15" y="846.20" width="11.00" height="5.00" fill="#e6aaa0" stroke="#000" stroke-width="1.30"/>
<text x="123.00" y="852.60" font-size="10.10" text-anchor="start" font-weight="bold" fill="#000">wt<tspan font-style="italic">IL1B</tspan></text>
<rect x="169.65" y="846.20" width="11.00" height="5.00" fill="#c2666e" stroke="#000" stroke-width="1.30"/>
<text x="190.00" y="852.60" font-size="10.10" text-anchor="start" font-weight="bold" fill="#000">mt<tspan font-style="italic">IL1B</tspan></text>
<rect x="332.45" y="846.20" width="11.00" height="5.00" fill="#ffffff" stroke="#000" stroke-width="1.30"/>
<text x="352.00" y="852.60" font-size="10.10" text-anchor="start" font-weight="bold" fill="#000">shNC</text>
<rect x="401.45" y="846.20" width="11.00" height="5.00" fill="#c8dff2" stroke="#000" stroke-width="1.30"/>
<text x="418.70" y="852.60" font-size="10.10" text-anchor="start" font-weight="bold" fill="#000">shPro-IL-1β#1</text>
<rect x="510.65" y="846.20" width="11.00" height="5.00" fill="#7fb3dd" stroke="#000" stroke-width="1.30"/>
<text x="529.80" y="852.60" font-size="10.10" text-anchor="start" font-weight="bold" fill="#000">shPro-IL-1β#2</text>
</svg></body></html>
